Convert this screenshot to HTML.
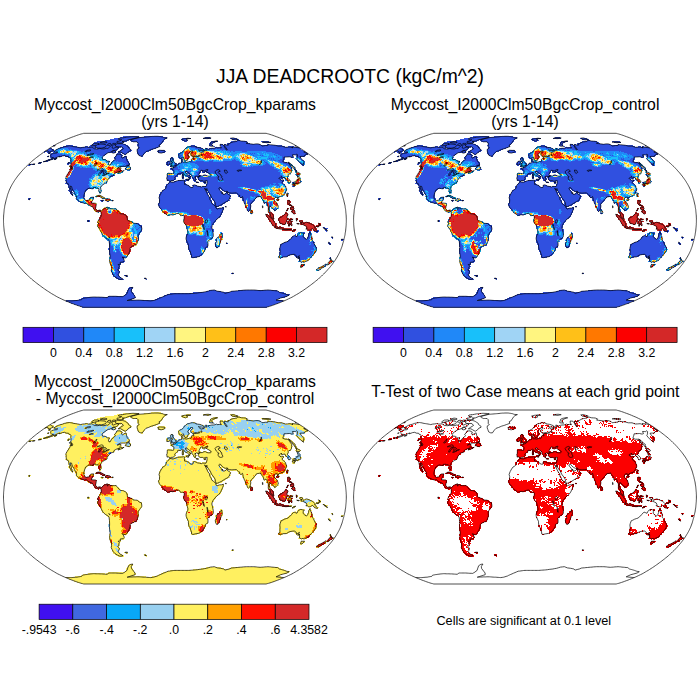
<!DOCTYPE html>
<html><head><meta charset="utf-8"><title>JJA DEADCROOTC</title>
<style>
html,body{margin:0;padding:0;background:#fff;}
svg{display:block;}
text{font-family:"Liberation Sans",Arial,Helvetica,sans-serif;fill:#000;}
</style></head><body>
<svg width="700" height="700" viewBox="0 0 700 700">
<rect width="700" height="700" fill="#fff"/>
<text x="350" y="82.5" font-size="19.35" text-anchor="middle">JJA DEADCROOTC (kgC/m^2)</text>
<text x="175" y="109.5" font-size="15.75" text-anchor="middle">Myccost_I2000Clm50BgcCrop_kparams</text>
<text x="175" y="127" font-size="15.75" text-anchor="middle">(yrs 1-14)</text>
<text x="525" y="109.5" font-size="15.75" text-anchor="middle">Myccost_I2000Clm50BgcCrop_control</text>
<text x="525" y="127" font-size="15.75" text-anchor="middle">(yrs 1-14)</text>
<text x="175" y="386.5" font-size="15.75" text-anchor="middle">Myccost_I2000Clm50BgcCrop_kparams</text>
<text x="175" y="404" font-size="15.75" text-anchor="middle">- Myccost_I2000Clm50BgcCrop_control</text>
<text x="525.3" y="397" font-size="15.8" text-anchor="middle">T-Test of two Case means at each grid point</text>
<text x="523.8" y="625.4" font-size="12.68" text-anchor="middle">Cells are significant at 0.1 level</text>
<defs>
<path id="L" fill="none" stroke-width="1.09" d="M-91.3,86.9H91M-92.4,86.7H92.1M-93.6,86.3H93.3M-94.9,85.9H94.6M-96.3,85.5H95.9M-97.7,85H97.4M-99.2,84.5H98.8M-100.7,84H100.4M-102.3,83.4H101.9M-103.9,82.8H103.5M-105.5,82.1H105.2M-107.2,81.4H106.8M-108.9,80.7H108.5M-100.3,80H-28.8M-22.7,80H106.4M-95.6,79.2H-43.2M-19.9,79.2H102.6M-93.8,78.4H-40.7M-17.8,78.4H104.9M-91.9,77.6H-38.9M-15.7,77.6H107.2M-86.7,76.8H-69.5M-68.8,76.8H-39.4M-14.3,76.8H110.2M-67.2,76H-39.9M-12,76H112.5M-51.3,75.2H-40.4M-10.5,75.2H113.9M-50.2,74.4H-40.9M-8.1,74.4H115.2M-49.1,73.5H-41.4M-4.7,73.5H111.4M-48.8,72.7H-41.8M17.7,72.7H109.2M-48.5,71.8H-42.3M25.7,71.8H49.3M53.6,71.8H106M-48.1,71H-42.7M31.3,71H46.3M55.9,71H104.5M-47.7,70.1H-43.2M34.3,70.1H41.5M62.8,70.1H102M-47.3,69.2H-42.7M-46.8,68.3H-42.2M-45.5,67.4H-41.7M-57.1,59H-51.1M-29.3,59H-28.3M-58.6,58H-52.5M-30.6,58H-28.5M-60,57.1H-53.9M-61.5,56.1H-55.3M-49.3,56.1H-47.2M-61.9,55.1H-55.7M-50.7,55.1H-47.5M-62.4,54.1H-56.1M-62.8,53.2H-55.4M56.5,53.2H58.6M-63.2,52.2H-54.8M-63.6,51.2H-55.1M-64,50.2H-55.4M141,50.2H144.2M-64.3,49.2H-55.7M140.7,49.2H146.1M-63.6,48.2H-55M142.6,48.2H147M-64,47.2H-55.3M125.1,47.2H127.4M143.4,47.2H148.9M-64.3,46.2H-54.5M124.7,46.2H128.1M146.3,46.2H150.7M-64.7,45.2H-54.8M125.4,45.2H129.8M148.2,45.2H151.5M-65,44.2H-54M126,44.2H130.5M150.1,44.2H154.5M-65.3,43.2H-54.3M151.9,43.2H155.3M-65.6,42.2H-51.2M126.2,42.2H127.3M128.4,42.2H129.5M152.6,42.2H157.1M-65.9,41.1H-50.3M123.4,41.1H132.3M154.4,41.1H158.9M-66.2,40.1H-50.5M123.9,40.1H134M155.1,40.1H157.4M-65.4,39.1H-50.8M124.4,39.1H134.6M154.6,39.1H156.9M-65.6,38.1H-51M104.8,38.1H106M122.7,38.1H135.1M154.1,38.1H156.4M-65.9,37.1H-47.8M16.3,37.1H22M102.9,37.1H108.6M120.9,37.1H136.7M154.7,37.1H155.9M-65,36.1H-46.8M16.3,36.1H25.4M103.3,36.1H113.5M120.2,36.1H137.2M-65.2,35.1H-47M16.4,35.1H26.7M103.7,35.1H115.1M119.5,35.1H138.9M-65.4,34H-46M15.3,34H27.9M104,34H139.3M-65.6,33H-45M15.4,33H29.1M104.3,33H139.8M-65.8,32H-45.2M15.4,32H29.2M104.6,32H141.3M-66,31H-44.1M14.3,31H30.4M104.9,31H141.7M-66.2,30H-44.3M14.3,30H30.5M104.1,30H142.1M-66.4,29H-44.4M13.2,29H30.6M104.3,29H142.5M-66.5,27.9H-44.5M13.3,27.9H30.7M104.6,27.9H141.7M-65.5,26.9H-43.4M13.3,26.9H33.1M41.1,26.9H43.5M104.8,26.9H142M-65.6,25.9H-41.2M13.3,25.9H33.1M40,25.9H44.7M105,25.9H141.1M-65.8,24.9H-37.8M13.3,24.9H33.2M40.1,24.9H44.8M105.2,24.9H141.3M-65.9,23.9H-37.8M12.2,23.9H33.2M40.2,23.9H44.9M105.4,23.9H140.4M154.3,23.9H155.6M-66,22.9H-36.7M12.2,22.9H33.3M40.2,22.9H46.1M50.7,22.9H53.1M106.7,22.9H139.5M153.4,22.9H155.8M-66.1,21.8H-36.8M11.1,21.8H33.4M40.3,21.8H46.2M109.3,21.8H139.7M153.7,21.8H154.9M-66.2,20.8H-36.8M11.1,20.8H34.6M41.5,20.8H46.3M111.8,20.8H138.8M-67.5,19.8H-35.7M11.1,19.8H34.6M40.4,19.8H46.4M113.1,19.8H137.8M165.9,19.8H168.3M-68.7,18.8H-35.8M11.1,18.8H37M40.5,18.8H47.6M114.5,18.8H138M166.1,18.8H168.6M-70,17.8H-35.8M11.1,17.8H38.3M41.7,17.8H47.7M115.8,17.8H131.2M132.3,17.8H138.2M157,17.8H158.2M-71.3,16.8H-35.9M11.1,16.8H38.3M41.8,16.8H47.7M116,16.8H130.2M132.5,16.8H137.3M156,16.8H158.5M-72.6,15.8H-35.9M11.2,15.8H38.4M44.2,15.8H47.8M117.3,15.8H129.2M132.6,15.8H137.4M-72.7,14.7H-36M11.2,14.7H38.4M44.2,14.7H47.9M119.8,14.7H121.1M122.2,14.7H129.3M132.8,14.7H136.4M-73.9,13.7H-34.8M12.4,13.7H38.5M45.5,13.7H47.9M122.3,13.7H129.5M132.9,13.7H136.6M-74,12.7H-34.9M12.4,12.7H38.5M45.5,12.7H46.8M123.6,12.7H129.6M134.3,12.7H135.5M-74.1,11.7H-33.7M12.4,11.7H38.5M134.4,11.7H135.6M141.5,11.7H142.7M-75.3,10.7H-32.6M12.4,10.7H38.6M116.7,10.7H120.3M139.2,10.7H144M151.1,10.7H152.3M-75.4,9.7H-32.6M12.4,9.7H38.6M107.3,9.7H116.9M118,9.7H121.6M132.2,9.7H137M138.1,9.7H141.8M150,9.7H152.5M-76.6,8.6H-32.6M11.2,8.6H37.4M101.4,8.6H117M131.1,8.6H141.9M148.9,8.6H152.6M-76.6,7.6H-32.6M11.2,7.6H37.5M99.1,7.6H108.7M131.2,7.6H140.8M147.8,7.6H150.3M-77.9,6.6H-32.6M11.2,6.6H37.5M99.2,6.6H102.8M103.9,6.6H106.4M131.3,6.6H144.4M-77.9,5.6H-32.7M11.3,5.6H37.5M96.9,5.6H101.7M113.5,5.6H114.8M115.9,5.6H117.1M129,5.6H139.7M140.8,5.6H145.7M-77.9,4.6H-35M10.1,4.6H38.7M96.9,4.6H101.7M107.6,4.6H110.1M113.5,4.6H117.2M125.4,4.6H138.6M143.3,4.6H145.7M-76.8,3.6H-36.2M8.9,3.6H38.7M95.7,3.6H101.8M105.3,3.6H111.3M112.4,3.6H117.2M121.9,3.6H124.4M125.5,3.6H137.5M143.3,3.6H145.8M-78,2.5H-41M8.9,2.5H39.9M95.8,2.5H100.6M104.1,2.5H111.3M112.4,2.5H117.3M125.5,2.5H135.1M-87.5,1.5H-85.1M-78,1.5H-42.2M7.7,1.5H41.1M94.6,1.5H100.6M104.1,1.5H118.5M124.4,1.5H128M-87.5,0.5H-85.1M-76.8,0.5H-44.6M7.7,0.5H41.1M94.6,0.5H99.5M102.9,0.5H112.5M113.7,0.5H116.1M124.4,0.5H128M-76.8,-0.5H-47M7.7,-0.5H42.3M93.4,-0.5H99.5M102.9,-0.5H118.5M120.8,-0.5H123.3M-75.6,-1.5H-47M8.9,-1.5H43.5M93.4,-1.5H99.4M102.9,-1.5H113.7M114.8,-1.5H117.3M120.8,-1.5H123.2M-75.6,-2.5H-47M8.9,-2.5H44.7M92.2,-2.5H99.4M104.1,-2.5H112.5M-74.4,-3.6H-47M8.9,-3.6H45.8M91,-3.6H99.4M105.3,-3.6H112.5M-74.4,-4.6H-48.1M-7.8,-4.6H-5.3M5.3,-4.6H45.8M90.9,-4.6H99.3M107.6,-4.6H113.6M-74.3,-5.6H-49.3M-9,-5.6H0.6M4.1,-5.6H47M90.9,-5.6H93.4M94.5,-5.6H99.3M108.7,-5.6H113.6M-74.3,-6.6H-50.5M-11.3,-6.6H47M75.4,-6.6H77.9M94.4,-6.6H98.1M109.9,-6.6H113.5M118.2,-6.6H120.7M-76.6,-7.6H-75.4M-74.3,-7.6H-54M-12.5,-7.6H48.1M75.4,-7.6H77.8M93.2,-7.6H96.8M109.8,-7.6H112.3M116.9,-7.6H120.6M-80.2,-8.6H-55.2M-12.5,-8.6H48.1M73,-8.6H74.2M75.3,-8.6H77.8M93.1,-8.6H95.6M115.7,-8.6H120.5M-81.3,-9.7H-56.3M-13.7,-9.7H48.1M71.7,-9.7H77.7M93.1,-9.7H95.5M99,-9.7H101.5M110.9,-9.7H113.3M116.8,-9.7H120.4M-81.2,-10.7H-77.6M-72.9,-10.7H-57.4M-13.7,-10.7H49.2M71.7,-10.7H76.5M93,-10.7H95.5M97.7,-10.7H102.6M112,-10.7H113.2M115.5,-10.7H119.2M-82.3,-11.7H-78.7M-71.7,-11.7H-58.6M-14.8,-11.7H49.2M71.6,-11.7H76.4M92.9,-11.7H95.4M96.5,-11.7H103.7M111.9,-11.7H114.3M115.4,-11.7H119.1M-82.3,-12.7H-78.6M-70.4,-12.7H-64.4M-16,-12.7H42M46.7,-12.7H49.1M70.4,-12.7H76.4M92.8,-12.7H95.3M96.4,-12.7H103.6M115.3,-12.7H119M-84.6,-13.7H-78.6M-16,-13.7H44.4M50.2,-13.7H51.5M70.3,-13.7H76.3M92.7,-13.7H103.5M116.4,-13.7H118.8M-86.8,-14.7H-78.5M-17.2,-14.7H46.7M70.2,-14.7H76.2M91.5,-14.7H103.4M113.9,-14.7H117.5M-87.9,-15.8H-78.4M-17.1,-15.8H47.8M70.1,-15.8H76.1M91.4,-15.8H103.2M112.6,-15.8H116.2M-91.3,-16.8H-78.3M-17.1,-16.8H38.3M39.4,-16.8H50.1M68.9,-16.8H77.2M88.9,-16.8H90.1M91.2,-16.8H103.1M112.4,-16.8H114.9M-94.7,-17.8H-82.9M-15.9,-17.8H37.1M39.4,-17.8H51.2M68.8,-17.8H78.3M88.8,-17.8H101.8M112.3,-17.8H115.9M-96.9,-18.8H-82.8M-73.4,-18.8H-72.2M-67.6,-18.8H-66.3M-15.9,-18.8H37M39.3,-18.8H53.5M68.7,-18.8H79.3M88.6,-18.8H101.6M112.1,-18.8H115.7M-98,-19.8H-81.5M-74.5,-19.8H-70.9M-69.8,-19.8H-61.5M-15.9,-19.8H37M38.1,-19.8H54.6M67.4,-19.8H80.4M87.3,-19.8H100.3M101.4,-19.8H103.8M111.9,-19.8H115.5M-147,-20.8H-144.6M-99,-20.8H-89.5M-86.1,-20.8H-81.3M-69.7,-20.8H-63.8M-15.8,-20.8H35.7M36.8,-20.8H54.5M67.3,-20.8H80.2M87.2,-20.8H100.1M101.2,-20.8H104.8M-146.7,-21.8H-144.3M-98.8,-21.8H-89.4M-86,-21.8H-81.2M-73.1,-21.8H-69.5M-68.4,-21.8H-67.2M-15.8,-21.8H35.7M36.8,-21.8H55.6M67.2,-21.8H81.3M85.9,-21.8H100M102.2,-21.8H103.5M-98.7,-22.9H-90.4M-84.6,-22.9H-81.1M-75.3,-22.9H-69.4M-15.8,-22.9H55.5M64.7,-22.9H82.3M85.7,-22.9H104.5M-99.7,-23.9H-90.3M-79.8,-23.9H-71.6M-15.8,-23.9H34.4M35.5,-23.9H56.5M63.5,-23.9H107.8M111.2,-23.9H113.6M-103,-24.9H-101.7M-99.5,-24.9H-90.1M-78.5,-24.9H-73.8M-15.7,-24.9H34.3M35.4,-24.9H56.4M63.3,-24.9H109.9M111,-24.9H113.4M-103.9,-25.9H-101.5M-100.5,-25.9H-89.9M-15.7,-25.9H33.1M34.2,-25.9H55.2M62.1,-25.9H109.7M110.8,-25.9H113.2M-104.9,-26.9H-102.5M-101.4,-26.9H-89.7M-75.9,-26.9H-73.5M-14.5,-26.9H33.1M34.1,-26.9H48.1M50.4,-26.9H52.8M53.8,-26.9H110.7M111.8,-26.9H114.2M-104.7,-27.9H-102.3M-101.2,-27.9H-89.6M-75.8,-27.9H-73.4M-14.5,-27.9H46.9M51.4,-27.9H111.6M-105.6,-29H-103.2M-102.1,-29H-89.3M-76.7,-29H-73.2M-13.3,-29H31.8M32.8,-29H46.8M49,-29H111.3M-106.5,-30H-88M-76.5,-30H-73M-13.3,-30H45.5M46.6,-30H112.2M-106.2,-31H-86.6M-76.3,-31H-74M-10.9,-31H45.4M46.4,-31H111.9M-105.9,-32H-80.6M-79.6,-32H-73.8M-9.8,-32H111.6M-106.7,-33H-73.5M-9.7,-33H111.3M-106.4,-34H-73.3M-9.7,-34H15.4M17.6,-34H25.6M26.7,-34H110.9M117.6,-34H120M-107.1,-35.1H-71.9M-8.5,-35.1H14.2M17.5,-35.1H22.1M31.1,-35.1H110.5M117.2,-35.1H120.7M-107.9,-36.1H-70.5M-8.5,-36.1H11.9M31,-36.1H110.1M116.8,-36.1H123.7M-109.7,-37.1H-68M-7.4,-37.1H10.7M28.7,-37.1H31M32,-37.1H108.6M113,-37.1H115.4M117.5,-37.1H125.5M-109.3,-38.1H-67.8M-6.2,-38.1H9.6M20.7,-38.1H24.1M28.5,-38.1H30.9M31.9,-38.1H108.2M112.6,-38.1H116M117.1,-38.1H126.1M-108.9,-39.1H-67.5M-6.2,-39.1H-3.9M-0.6,-39.1H10.6M19.5,-39.1H20.7M25.1,-39.1H30.7M31.8,-39.1H108.9M112.2,-39.1H115.6M120,-39.1H126.8M-109.6,-40.1H-67.2M-8.4,-40.1H-0.5M2.7,-40.1H13.9M18.3,-40.1H20.6M23.9,-40.1H109.6M110.6,-40.1H115.1M120.6,-40.1H126.2M-109.1,-41.1H-65.8M-8.3,-41.1H0.6M10.5,-41.1H15M18.2,-41.1H21.6M22.7,-41.1H105.8M110.1,-41.1H114.6M122.3,-41.1H125.7M-109.7,-42.2H-64.4M-8.3,-42.2H0.6M7.1,-42.2H9.4M13.7,-42.2H16M17,-42.2H21.5M22.6,-42.2H108.6M109.6,-42.2H113M122.8,-42.2H126.2M-109.2,-43.2H-64.1M-8.3,-43.2H0.6M7.1,-43.2H9.4M12.6,-43.2H15.9M17,-43.2H21.4M22.4,-43.2H113.6M122.3,-43.2H124.5M-108.7,-44.2H-61.6M-8.2,-44.2H2.8M7.1,-44.2H9.3M10.3,-44.2H15.9M16.9,-44.2H114.1M121.7,-44.2H123.9M-108.1,-45.2H-60.2M-8.2,-45.2H2.8M7,-45.2H14.7M15.7,-45.2H25.6M27.7,-45.2H32.1M35.3,-45.2H114.6M121.1,-45.2H125.5M-107.5,-46.2H-59.9M-8.1,-46.2H6M7,-46.2H12.5M14.5,-46.2H24.3M34,-46.2H116.2M120.4,-46.2H125.9M-107,-47.2H-58.5M-57.5,-47.2H-54.2M-8.1,-47.2H-2.6M-1.7,-47.2H25.3M32.7,-47.2H116.6M120.8,-47.2H125.2M-106.4,-48.2H-51.8M-1.6,-48.2H11.3M12.2,-48.2H26.2M27.2,-48.2H30.5M31.5,-48.2H117M120.2,-48.2H123.5M-105.8,-49.2H-51.5M-1.6,-49.2H26.1M27.1,-49.2H117.4M120.6,-49.2H121.7M-105.1,-50.2H-53.3M-48.1,-50.2H-44.9M-2.7,-50.2H117.8M119.9,-50.2H122.1M-105.6,-51.2H-54M-49.9,-51.2H-43.5M-4.8,-51.2H117.1M119.1,-51.2H121.3M-104.9,-52.2H-53.7M-49.6,-52.2H-44.3M-4.7,-52.2H117.5M118.4,-52.2H120.6M-105.3,-53.2H-55.4M-49.3,-53.2H-44M-1.6,-53.2H116.7M117.7,-53.2H119.8M-105.6,-54.1H-45.8M-4.7,-54.1H115.9M116.9,-54.1H119M-146.9,-55.1H-144.7M-104.9,-55.1H-45.5M-7.7,-55.1H-5.6M-4.6,-55.1H118.2M127.4,-55.1H129.5M-145.8,-56.1H-139.7M-108.2,-56.1H-106.1M-104.2,-56.1H-65.5M-64.6,-56.1H-45.2M-8.7,-56.1H1.6M2.5,-56.1H117.4M126.4,-56.1H129.6M-136.7,-57.1H-133.6M-107.4,-57.1H-105.3M-104.4,-57.1H-66M-64.1,-57.1H-44.8M-8.6,-57.1H1.6M3.5,-57.1H115.5M125.5,-57.1H129.6M-135.7,-58H-132.6M-106.6,-58H-65.5M-63.6,-58H-45.5M-8.5,-58H-4.5M-3.5,-58H0.5M6.5,-58H112.6M113.6,-58H114.6M124.6,-58H129.7M-131.6,-59H-126.6M-104.8,-59H-65M-63.1,-59H-46.1M-7.5,-59H-0.5M6.4,-59H8.5M9.4,-59H11.5M14.4,-59H108.8M123.6,-59H129.6M-128.6,-60H-124.6M-105,-60H-67.4M-61.6,-60H-46.8M-4.5,-60H-1.4M6.4,-60H8.4M9.3,-60H13.3M16.2,-60H108.9M122.6,-60H128.6M-126.6,-60.9H-121.6M-120.7,-60.9H-118.7M-105.1,-60.9H-68.8M-60.1,-60.9H-47.3M-5.4,-60.9H-1.4M6.3,-60.9H8.3M9.2,-60.9H13.2M16.1,-60.9H110M121.6,-60.9H127.6M-123.6,-61.9H-117.7M-105.2,-61.9H-72.1M-60.6,-61.9H-47.9M-5.4,-61.9H-1.4M4.3,-61.9H7.3M8.2,-61.9H14.1M16.9,-61.9H110M120.6,-61.9H126.5M-124.4,-62.8H-117.6M-107.2,-62.8H-71.5M-61,-62.8H-47.5M-4.4,-62.8H-2.4M3.3,-62.8H14.9M17.7,-62.8H110M115.7,-62.8H118.7M121.5,-62.8H126.4M-128.1,-63.7H-126.1M-125.3,-63.7H-112.8M-110,-63.7H-71.9M-59.6,-63.7H-52.8M-51,-63.7H-48M-33.8,-63.7H-31.9M3.3,-63.7H14.8M16.6,-63.7H118.6M121.4,-63.7H130M-125.1,-64.7H-70.3M-59,-64.7H-52.3M-36.4,-64.7H-31.6M3.3,-64.7H13.7M15.5,-64.7H118.5M121.2,-64.7H130.7M-124.9,-65.6H-68.7M-58.5,-65.6H-52.8M-51,-65.6H-49.1M-37,-65.6H-31.3M3.2,-65.6H13.6M15.4,-65.6H133.3M-126.5,-66.5H-124.6M-123.7,-66.5H-68.1M-57.9,-66.5H-54.2M-52.4,-66.5H-47.7M-37.6,-66.5H-30.1M3.2,-66.5H14.4M15.2,-66.5H133M-126.2,-67.4H-123.4M-120.7,-67.4H-64.7M-63.8,-67.4H-60.1M-53.7,-67.4H-47.2M-38.1,-67.4H-29.8M-17,-67.4H-11.4M5,-67.4H15.2M16,-67.4H131.7M-130.9,-68.3H-130.4M-127.7,-68.3H-124M-121.4,-68.3H-58.6M-56.8,-68.3H-45.9M-37.8,-68.3H-28.6M-16.9,-68.3H-9.5M6.8,-68.3H15.9M16.8,-68.3H130.4M-129.6,-69.2H-121.9M-121.1,-69.2H-58.9M-56.3,-69.2H-43.6M-38.3,-69.2H-25.6M-17.6,-69.2H-9.4M7.6,-69.2H25.7M28.3,-69.2H129.2M-128.3,-70.1H-120.7M-119.8,-70.1H-58.3M-54.8,-70.1H-43.2M-37.9,-70.1H-23.6M-16.5,-70.1H-10.2M8.4,-70.1H127.9M-127,-71H-121.2M-118.6,-71H-56.8M-53.4,-71H-43.6M-38.4,-71H-21.6M9.2,-71H29.6M30.4,-71H126.5M-125.7,-71.8H-122.5M-116.5,-71.8H-78.9M-78.1,-71.8H-56.2M-52.8,-71.8H-44.9M-37.1,-71.8H-18.7M10,-71.8H28.4M30.1,-71.8H32.8M34.4,-71.8H125.2M-124.3,-72.7H-123.8M-114.4,-72.7H-53.9M-53.1,-72.7H-45.3M-36.7,-72.7H-16.8M10.7,-72.7H26.4M40.1,-72.7H123.9M-111.4,-73.5H-97.7M-90.1,-73.5H-86.6M-85.8,-73.5H-45.6M-37.2,-73.5H-14.9M12.3,-73.5H21.8M38.8,-73.5H39.7M45.6,-73.5H109.7M113,-73.5H115.7M116.5,-73.5H119.1M-121.5,-74.4H-120.2M-108.5,-74.4H-101.6M-84.8,-74.4H-46.8M-37.6,-74.4H-14.7M15.6,-74.4H19.9M34.1,-74.4H38.4M45.1,-74.4H107.6M120.2,-74.4H121.1M-83.8,-75.2H-47.9M-37.1,-75.2H-14.6M34.6,-75.2H38M44.6,-75.2H86.3M92.1,-75.2H100.5M-82.8,-76H-49M-37.5,-76H-13.6M34.1,-76H37.5M44.9,-76H48.2M49,-76H50.7M52.3,-76H85.3M92.6,-76H94.4M-81.8,-76.8H-51.6M-37,-76.8H-13.4M34.5,-76.8H37.9M52.4,-76.8H75.3M-80.7,-77.6H-50.9M-38.2,-77.6H-12.4M34.9,-77.6H39.8M54.9,-77.6H73.5M88.6,-77.6H95.9M-78,-78.4H-50.2M-43.2,-78.4H-12.2M36,-78.4H41.6M56.5,-78.4H72.4M86.6,-78.4H94.6M-74.5,-79.2H-47.9M-44.1,-79.2H-11.3M8.9,-79.2H12.1M37.8,-79.2H43.3M61.2,-79.2H70.6M-69.5,-80H-46.4M-45,-80H-11.1M7.3,-80H13.5M61.8,-80H64.9M-64.7,-80.7H-10.2M6.4,-80.7H12.5M57,-80.7H63.9M-60.7,-81.4H-9.3M7,-81.4H15.3M32.3,-81.4H33.9M56.2,-81.4H62.2M-57.6,-82.1H-7.7M10.6,-82.1H15.8M28.2,-82.1H36.3M55.3,-82.1H60.5M-55.2,-82.8H-8.3M29.9,-82.8H35M-52.2,-83.4H-35.8M-30.9,-83.4H-11.7M-24.2,-84H-14.3"/>
<path id="C" fill="none" stroke="#000" stroke-width="0.7" stroke-linejoin="round" d="M-109.2,80.6L-108,80.6L-106.8,80.6L-105.6,80.6L-104.4,80.6L-103.2,80.6L-102.1,80.5L-101.1,80.4L-100,80.3L-99,80.2L-97.9,80.2L-97,80L-96.1,79.8L-95.1,79.7L-94.2,79.5L-93.3,79.4L-92.8,78.8L-92.3,78.1L-91.3,78L-90.3,77.8L-89.3,77.6L-88.2,77.5L-87.2,77.3L-86.1,77.2L-84.9,77L-83.8,76.9L-82.7,76.8L-81.5,76.7L-80.2,76.7L-78.8,76.8L-77.5,76.8L-76.1,76.8L-74.8,76.9L-73.4,76.9L-72,77L-70.6,77.1L-69.2,77.2L-67.8,77.3L-66.9,76.6L-65.9,76L-64.6,76L-63.3,76L-62,76L-60.7,76L-59.3,76L-57.9,76.1L-56.6,76.2L-55.2,76.3L-53.8,76.3L-52.4,76.4L-51.3,75.8L-50.1,75.1L-49,74.2L-47.9,73.4L-47.2,71.1L-46.3,68.7L-45.2,68L-44.1,67.3L-42,67.1L-42.9,68.2L-43.7,69.7L-43.4,71.5L-41.3,74.2L-39.9,76L-39.8,77.7L-40.8,78L-41.8,78.3L-42.9,78.6L-43.9,79L-44.9,79.3L-45.8,79.6L-46.8,79.9L-47.7,80.2L-46.5,80.1L-45.4,80.1L-44.2,80L-43,80L-41.8,79.9L-40.6,79.9L-39.4,79.9L-38.2,79.8L-37,79.8L-35.7,79.8L-34.4,79.9L-33.1,80L-31.9,80.1L-30.6,80.2L-29.3,80.2L-28.1,80.3L-26.8,80.4L-25.5,80.5L-24.3,80.6L-22.8,80.4L-21.4,80.2L-20.1,79.8L-18.9,79.4L-17.5,79L-16.5,78.4L-15.3,77.9L-14.2,77.4L-13,76.9L-11.5,76.2L-10,75.6L-8.4,74.9L-6.8,74.2L-5.4,74.1L-4.1,73.9L-2.7,73.7L-1.4,73.5L0,73.4L1.4,73.4L2.7,73.4L4.1,73.4L5.5,73.4L6.8,73.4L8.2,73.4L9.6,73.4L11,73.4L12.3,73.4L13.7,73.4L15.1,73.3L16.5,73.2L17.9,73.1L19.3,73L20.7,72.9L22.4,72.7L24.2,72.4L26,72.2L27.9,72L29.7,71.6L31.6,71.3L33.6,70.7L35.6,70.1L37.5,69.9L39.4,69.7L40.9,70.3L42.4,70.9L44,71.1L45.7,71.3L47.2,71.6L48.8,72L50.1,73.1L52.2,72.5L54.3,72L56.3,71.1L57.9,70.9L59.4,70.8L60.9,70.6L62.4,70.5L64,70.3L65.5,70.2L67,70.1L68.5,69.9L70.1,69.8L71.6,69.7L73,69.7L74.5,69.7L75.9,69.7L77.3,69.7L78.8,69.7L80.1,69.8L81.4,69.9L82.7,70.1L84,70.2L85.3,70.3L86.8,70.2L88.4,70.1L89.9,69.9L91.5,69.8L93.1,69.7L94.4,69.8L95.7,69.9L96.9,70.1L98.2,70.2L99.5,70.3L101.1,70.5L102.7,70.6L103.6,71.3L104.5,72L105.5,72.3L106.5,72.5L107.5,72.8L108.5,73.1L109.5,73.4L110.6,73.8L111.6,74.2L112.9,74.5L114.3,74.7L112.1,76L108.9,76.9L105.8,77.7L101.2,79.8L102.1,79.9L103.1,80L104,80.2L105.1,80.2L106.1,80.3L107.2,80.4L108.2,80.5L109.2,80.6M-30.5,57.8L-28.8,58L-28.5,58.7L-29.9,58.5L-30.5,57.8M-49.2,56L-49.9,55.3L-47.5,55.1L-47.6,56L-49.2,56M-87.2,1.2L-87.2,0.2L-86.1,0.2L-86.1,1.2L-87.2,1.2M-55.6,-7.5L-54.2,-6.5L-52.3,-6.4L-51.2,-6.1L-49.5,-5.2L-48.5,-4.5L-47.6,-1.9L-47.6,-0.5L-46.2,0.5L-45.2,0.8L-42.9,1.6L-41.9,2.9L-39.5,3.1L-37.6,3.2L-35.7,5.1L-33.6,5.7L-33.1,8.1L-33.2,9.7L-34.6,11.5L-35.5,12.9L-36.6,14L-36.8,16.2L-36.6,18.9L-37.2,21L-38.1,23.2L-38.9,24.6L-40.5,24.8L-41.8,25.6L-43.2,26.1L-44.7,27.5L-44.9,29.7L-45.4,31.3L-46.1,33.2L-47.2,34.8L-48.2,36.7L-49.2,37.6L-50.8,37.5L-52.6,36.7L-51.2,38.8L-50.6,40.4L-51.7,41.7L-54.7,42L-54.5,44L-56.8,44.2L-55.4,45.8L-56.2,46.9L-55.9,48.4L-57.3,49.5L-55.5,51.1L-56,53.2L-56.8,54.4L-55.7,56.1L-55.2,56.8L-51.9,58.7L-53.2,59.2L-55.1,59.2L-57.6,58L-59.9,56.6L-61.6,54.7L-62.7,52.7L-63.7,50.6L-63.3,48.4L-63.6,45.3L-64.8,43.1L-65.3,40.4L-65,38.3L-64.8,35.6L-65.3,32.3L-65.4,29.7L-65.3,27L-65.4,23.7L-65.9,19.9L-67.2,18.7L-69.2,17.6L-71.2,16L-72.1,14.9L-73.1,12.9L-74.5,10.2L-75.8,7.8L-77.2,6.5L-77.3,4.9L-76.4,3.7L-76.2,2.7L-77.1,2.4L-77,1.1L-76.2,-0.3L-75.2,-1.4L-74.7,-2.7L-73.8,-4.1L-73.6,-5.9L-73.9,-7.9L-74.5,-8.9L-75.4,-9.6L-76.3,-8L-77.4,-8.3L-78.7,-8.8L-79.4,-9.2L-80.6,-10.6L-81.3,-11.6L-82.7,-13.9L-83.6,-14.2L-85,-14.8L-87,-15.7L-88.5,-17.4L-90.4,-16.9L-92.7,-17.7L-95.4,-18.9L-97.5,-20.5L-98.7,-21.8L-98.3,-23.2L-99,-25.1L-100.5,-27.2L-101,-28.9L-102.1,-30.2L-102.9,-32.1L-103.3,-33.8L-104.3,-34.3L-104.7,-32.9L-103.8,-30.7L-103.4,-28.6L-102.6,-26.2L-101.9,-25L-102.6,-25.1L-103.8,-26.7L-104.7,-28.9L-105.8,-30L-104.8,-31.1L-105.8,-32.7L-106.1,-35L-106.8,-36.7L-108.5,-37.2L-108.7,-39.4L-108.7,-40.8L-108.9,-42.6L-108.9,-43.5L-107.9,-45.3L-106.2,-47.9L-105.1,-49.7L-104.2,-52L-102.9,-51.9L-103.1,-50.9L-102.2,-52.7L-102.9,-53.7L-103.2,-53.9L-103.1,-52.1L-104.2,-52.5L-105.5,-54.4L-103.2,-53.9L-104.2,-54.7L-103.9,-56.3L-103.8,-58.4L-104.1,-59.4L-103.9,-61.4L-104.5,-62.4L-105.8,-62.7L-106.3,-63.7L-108.8,-63.9L-110.2,-64.7L-112.4,-64.4L-115.6,-63.2L-115.1,-64.1L-116.9,-63.4L-119.2,-62.4L-122.7,-60.9L-126,-59.7L-129.2,-58.9L-131.5,-58.5L-127.8,-59.9L-123.8,-61.4L-121.3,-62.6L-123.1,-62.7L-123.8,-63.4L-124.2,-64.4L-124.1,-65.4L-123.2,-66.3L-121.3,-67L-118.3,-67.3L-117.1,-68.2L-119.3,-68.2L-120.5,-68.7L-120.8,-69.3L-116.2,-71.8L-112.2,-72.9L-110.5,-73.6L-108,-74.1L-105.5,-74.5L-104.3,-74.3L-103,-74.1L-102,-73.8L-100.9,-73.6L-99.6,-73.4L-98.3,-73.2L-97,-73L-95.6,-72.7L-94.3,-72.4L-92.3,-72.9L-90.3,-73.1L-88.3,-73.4L-87.2,-73.1L-86.1,-72.9L-84.5,-73L-83,-73.2L-82.2,-72.6L-81.4,-72.1L-80.6,-71.5L-78.9,-71.4L-77.2,-71.3L-75.2,-72L-73.5,-71.5L-72.2,-71.4L-70.9,-71.3L-68.3,-72L-67.1,-71.7L-65.8,-72.9L-63.3,-75L-62.6,-73.8L-62.8,-72.3L-61.3,-72L-59.2,-72.9L-58.3,-73.2L-56.3,-73.1L-56.6,-72L-58.1,-70.6L-60,-69.9L-61.6,-70.1L-62.5,-69.2L-60.1,-69.7L-58.9,-68.2L-61.1,-67.1L-63,-67.6L-62.6,-69.1L-62.8,-69L-65.1,-67.8L-66.7,-67.6L-70.1,-65.4L-72,-63.9L-72.8,-62.6L-72.3,-60.9L-69.7,-60.7L-68.6,-59.9L-67.4,-59.2L-65.4,-59L-66.4,-56.8L-65.9,-55.1L-64.6,-55.3L-63.4,-57.8L-60.7,-59.9L-59.5,-61.4L-60.4,-62.7L-59,-63.9L-58,-66.1L-56.5,-66.1L-55,-66.1L-53.9,-65.5L-52.7,-64.9L-53.4,-62.9L-52.5,-62.2L-49.9,-63.7L-48.9,-64.2L-48.3,-61.4L-47.6,-59.1L-45.9,-57.3L-45.4,-55.8L-46.6,-55.2L-49.5,-53.9L-51.2,-53.9L-52.8,-53.9L-54.9,-53.8L-57.7,-51.9L-55.9,-52.3L-54.1,-52.7L-54,-51.6L-54.8,-50.6L-54.3,-49.5L-51.9,-49.1L-50.8,-50L-52,-48.7L-54.4,-47.9L-56.8,-46.9L-56.4,-48.2L-54.9,-49L-57.2,-48.4L-59.3,-47.4L-60.8,-46.5L-61.3,-45.8L-60.9,-44.9L-62.3,-44.5L-64.8,-43.8L-65.3,-42.6L-66.4,-41.8L-67.4,-40.1L-67.7,-39.7L-67.8,-38.1L-69.3,-37.2L-70.8,-36.4L-72.3,-35.4L-73.6,-34.3L-74.3,-32.9L-74,-30.7L-73.8,-28.9L-74.4,-27.3L-75,-27.2L-75.6,-28.3L-76.2,-30L-75.9,-31.3L-76.8,-32.3L-78.3,-32L-79,-32.8L-80.4,-32.7L-81.8,-32.6L-81.8,-31.5L-83.4,-31.6L-85.6,-32.1L-87.1,-31.5L-89.3,-30L-90,-28L-90.7,-25.9L-91.1,-24L-90.9,-22.1L-90,-20.5L-88.7,-19.6L-86.7,-20.1L-85.3,-20.5L-84.6,-22.4L-84,-22.9L-81.2,-23.2L-81.9,-21L-82.9,-19.2L-83.6,-17.3L-81,-17.1L-79.1,-17L-78.5,-16.2L-79,-13.5L-79.4,-11.9L-78.5,-10.4L-77.3,-9.6L-75.7,-10.2L-74.5,-10.1L-73.4,-9.2L-71.6,-11.3L-70.9,-11.9L-69.1,-12.4L-67.6,-13.4L-67.7,-11.9L-67.3,-10.8L-66.3,-12.7L-66,-13L-64.9,-11.6L-62.5,-11.4L-60.7,-11.3L-58.7,-11.5L-57.9,-10.2L-57,-9.2L-55.6,-7.5M-73.5,-19.8L-71.6,-19.6L-72.3,-19.2L-73.5,-19.6L-73.5,-19.8M-63,-19.9L-61.5,-19.8L-61.8,-19.4L-63.1,-19.4L-63,-19.9M-68.3,-21.5L-65.5,-21.4L-64.1,-20.2L-65.7,-19.7L-67.1,-19.1L-68.5,-19.6L-69.8,-19.9L-68.3,-21.5M-145.9,-21.8L-145.1,-21.4L-145.4,-20.5L-146.1,-20.7L-145.9,-21.8M-69.4,-21.8L-72.5,-21.5L-72.9,-22.3L-74.2,-23.3L-76.4,-24.2L-78.3,-23.5L-79.2,-23.7L-77.2,-24.8L-74.9,-25L-72.3,-23.5L-70.1,-22.3L-69.4,-21.8M-49.8,-51.4L-47.4,-54.2L-45.6,-55.3L-45.9,-53.5L-44.4,-53L-44.4,-51.1L-45.6,-50.3L-47.2,-50.6L-49.8,-51.4M-145.9,-55.4L-145.4,-55.8L-143.6,-56L-144,-55.6L-145.9,-55.4M-142.6,-55.8L-142.1,-56.2L-139.9,-56.4L-140.3,-56L-142.6,-55.8M-105.5,-57.8L-106.6,-56.1L-107.1,-56.6L-106.7,-57.8L-105.5,-57.8M-133.4,-57.9L-133.7,-57.5L-136.5,-56.9L-136.4,-57.4L-133.4,-57.9M-120.5,-60.7L-120.6,-61.1L-118,-62.1L-118.4,-61.3L-120.5,-60.7M-127.4,-63.7L-126.9,-64.1L-125.8,-64.2L-126.4,-63.7L-127.4,-63.7M-126.4,-67L-125.9,-67.4L-124.3,-67.2L-124.8,-66.8L-126.4,-67M-124.8,-72.4L-124,-71.8L-123.1,-71.2L-121.7,-70.4L-121.4,-69.8L-125.5,-68.2L-126.5,-68.1L-126.7,-69.2L-127.8,-69.7L-130.3,-68.7M-53.9,-73.6L-56.1,-73.4L-58,-73.5L-59.5,-74.2L-59.4,-75.6L-57.5,-76.6L-56.2,-76.6L-54.9,-76.6L-53.6,-76.6L-52.3,-76.6L-51.3,-76.2L-50.2,-75.8L-49.3,-75.3L-48.4,-74.7L-46.7,-73.6L-46.4,-72.4L-45.2,-71.5L-43.9,-70.6L-44,-69.7L-46.3,-68.7L-47.5,-67.1L-49.6,-65.8L-50.9,-66.3L-52.5,-67.3L-54.2,-68.2L-56.7,-68.2L-54.4,-69.7L-51.5,-71.5L-52.8,-73.2L-53.9,-73.6M-121,-74.7L-119.6,-74.7L-120.7,-74.2L-121.7,-74.2M-83.5,-75.1L-80.7,-76.9L-78.9,-77L-77.1,-77.1L-75.8,-76.3L-77.4,-75.7L-74.9,-76.3L-73.6,-76.2L-72.4,-76.1L-71.2,-76L-69.4,-75.8L-68.6,-74.7L-69.6,-73.2L-73,-72.2L-74.7,-72.1L-76.5,-72.1L-77.7,-72.4L-78.8,-72.6L-80.1,-73.4L-78.9,-74.4L-78.4,-75.4L-80.7,-74.7L-83,-74.4L-83.5,-75.1M-17.2,-72.9L-18.7,-72.4L-20.2,-71.8L-21.8,-71.3L-23.3,-70.9L-24.9,-70.2L-26.5,-69.5L-28.9,-68.7L-30.7,-66.8L-32.6,-64.1L-34.5,-64.2L-36.4,-65.2L-37.1,-67.3L-37.8,-69.2L-37.7,-71.1L-35.7,-72.4L-36.8,-73.6L-36.7,-75.1L-36.8,-77.3L-37.9,-78.5L-39.2,-78.5L-40.4,-78.5L-41.7,-78.5L-42.6,-79L-43.5,-79.4L-44.5,-80.3L-42.4,-81L-40.2,-81.7L-38.7,-82.1L-37.2,-82.4L-35.8,-82.7L-34.5,-82.8L-33.3,-82.9L-32.1,-83L-30.9,-83.1L-29.7,-83.2L-28.5,-83.3L-27.2,-83.4L-26,-83.5L-24.8,-83.7L-23.6,-83.8L-22.4,-83.9L-21.3,-83.9L-20.1,-84L-19,-84L-17.9,-84L-16.8,-84L-15.7,-83.8L-14.7,-83.7L-13.6,-83.5L-12.5,-83.3L-11.5,-82.9L-10.4,-82.6L-9,-82.5L-7.6,-82.4L-8.8,-81.9L-10.1,-81.3L-11.7,-79.8L-12.7,-78.1L-14.2,-76L-16,-75.1L-15,-73.8L-17.2,-72.9M-66.8,-76.4L-64.4,-76.9L-64,-76L-65.2,-74.7L-66.4,-74.8L-67.6,-75L-66.8,-76.4M-59.2,-76.9L-59.8,-75.8L-62.8,-75.1L-63,-76L-62.1,-76.9L-60.7,-76.9L-59.2,-76.9M-71,-77.3L-72.5,-77.4L-74,-77.5L-74.8,-77.9L-72.9,-78.4L-70.9,-78.9L-69.6,-78.7L-68.2,-78.5L-68,-77.7L-69.5,-77.5L-71,-77.3M-42.2,-83.7L-41.2,-83.7L-40.1,-83.6L-39,-83.6L-37.9,-83.5L-36.8,-83.5L-35.8,-83.4L-37.8,-82.4L-39.5,-82.1L-41.2,-81.7L-43,-81.3L-44.5,-80.9L-46.1,-80.6L-49.3,-79.2L-51.1,-79L-52.8,-78.9L-51.6,-78.8L-50.9,-78.1L-53,-77.3L-54.2,-77.3L-55.5,-77.3L-56.8,-77.3L-58,-77.4L-57.7,-79L-56.2,-79L-53.2,-80.2L-53.5,-80.8L-54.8,-80.4L-55.8,-80.9L-56.7,-81.3L-55.9,-81.9L-54.3,-82.2L-52.8,-82.5L-52.6,-82.3L-50.6,-82.7L-48.6,-83.1L-47.3,-83.2L-46.1,-83.3L-44.8,-83.5L-43.5,-83.6L-42.2,-83.7M57.3,52.7L58.5,52.8L58.2,53.4L57.2,53.3L57.3,52.7M51.5,23.1L51.6,22.5L52.1,22.5L52.1,23.1L51.5,23.1M47.4,16.7L46.5,18.9L45.3,22.1L44.2,25.3L43.1,27.2L41.7,27.5L40.6,25.3L40.4,23.2L41.6,21.4L41.3,18.9L42.4,17.3L44.3,16.2L45.6,14.6L46.7,12.9L47.4,16.7M111,9.7L109.3,9.5L109.2,8.8L111.1,8.9L113,9.1L114.9,9.1L116.8,8.9L116.3,9.5L113.4,9.5L111,9.7M106.3,8.9L103.5,8.4L101.2,8L100,7.3L101.4,6.5L103.1,7.2L105.2,6.9L107.1,7.4L108.7,8.4L108.6,9.4L106.3,8.9M91.8,-3.9L90.6,-6L92.7,-5.6L93.9,-4.1L95.5,-2.7L96.6,-1.9L98.1,-0.8L98.9,0.9L99.5,1.9L100.9,3.2L100.6,6.3L99.5,6.3L98,5.2L96.6,3.2L95.5,1.1L94.3,-0.5L93.3,-2.2L91.8,-3.9M109,4.3L107.6,3.6L106.1,3.2L104.9,3L104.8,1.4L103.8,0L103.8,-1.6L104.5,-2.2L106,-3L107.5,-3.8L108.5,-5L109.8,-5.9L110.9,-7.5L111.9,-6.8L113.4,-5.6L112.3,-4.6L112.1,-2.7L113.2,-1.1L111.9,-0.5L111.7,1.1L110.9,2.7L110.4,4.1L109,4.3M77.3,-6.8L76.3,-6.5L75.8,-8.1L75.9,-10.6L77.1,-9.2L77.8,-7.9L77.3,-6.8M111.3,-9.1L113.2,-12.2L113,-10.8L111.7,-9.2L111.3,-9.1M51.5,-13.6L51.5,-13.3L50.5,-13.3L50.4,-13.7L51.5,-13.6M87.5,-14.6L87.9,-14.4L88,-12.4L87.6,-12.5L87.5,-14.6M101.8,-20.8L102.9,-21.7L103.9,-21.2L103.5,-19.8L102.3,-19.7L101.8,-20.8M18.2,-34L18.1,-35L19.9,-35.5L21.3,-34.7L22.7,-34.1L24.6,-33.8L26.4,-33.3L27.8,-33.9L29.4,-33.8L31.1,-33.8L31.6,-35L32.1,-36.7L32.2,-38.6L32.3,-39.6L30.8,-39.6L29,-38.9L27.3,-39.7L25.9,-39.5L24.4,-39.9L23.3,-41.5L23.6,-42.6L23,-43.3L24.1,-43.6L25.3,-44.3L23,-43.8L21.4,-44.1L20.6,-43.4L21.1,-43.1L20,-43.6L20.2,-42.4L21.3,-41L20.4,-40.5L20.5,-39.4L19.6,-39.6L19.1,-40.4L18.5,-41.8L17.6,-42.8L17,-43.6L17,-45L16,-45.8L14.2,-46.9L12.8,-47.9L12.2,-48.8L11.6,-48.7L11.6,-49.2L10.5,-48.8L10.6,-47.6L11.8,-46.9L12.6,-45.6L13.9,-45.1L15.8,-43.8L16.2,-43.2L14.9,-43.5L14.6,-42.7L15.1,-42L14.3,-41L13.9,-41.1L14.3,-42L13.6,-43.1L12.7,-43.9L10.9,-44.7L9.5,-45.8L8.9,-46.9L7.5,-47.8L6.4,-47.2L5.2,-46.4L3.9,-46.7L2.8,-46.5L2.8,-45.3L1.7,-44.5L0.4,-43.6L-0.3,-42.5L0.2,-41.7L-0.6,-40.5L-1.8,-39.7L-3.9,-39.6L-4.8,-38.9L-5.6,-39.7L-6.6,-40.1L-7.9,-39.9L-7.8,-41.5L-8.4,-41.8L-7.7,-43.6L-7.6,-45.3L-7.9,-46.3L-6.9,-47.1L-4.7,-46.9L-2.6,-46.7L-1.5,-46.7L-1,-47.9L-1,-49.5L-1.9,-50.8L-3.8,-51.5L-3.9,-52.1L-2.5,-52.5L-1.3,-52.3L-1.5,-53.4L0,-53.1L1.2,-53.9L1.4,-54.7L2.9,-55.3L3.7,-56.3L4,-57.1L5.6,-57.3L6.8,-57.6L6.8,-59.4L6.4,-60.9L8.2,-61.6L8.1,-60.4L7.9,-59.4L7.8,-58.7L8.8,-58L10,-58.3L11.2,-57.8L13.2,-58.4L14.7,-58.7L15.6,-58.3L15.9,-58.8L16.6,-59.4L16.4,-60.9L17.5,-61.6L19,-61.1L18.8,-62.2L18,-63.1L19.1,-63.4L21.4,-63.5L22.8,-63.8L21.6,-64.4L19.7,-64.3L17.5,-63.8L16.2,-64.7L15.8,-66.3L16.2,-67.1L18.1,-68.7L17.6,-69.5L15.8,-69.3L15.5,-68.2L14,-67L12.9,-65.8L13,-64.6L14.3,-63.9L13.8,-62.9L12.8,-61.9L12.8,-60.4L11.4,-59.9L11.3,-59.3L10.3,-59.3L9.9,-60.1L9.2,-61.4L8.6,-62.9L8,-63.4L7.3,-62.7L5.8,-61.9L4.4,-62.7L3.8,-64.4L3.7,-65.8L4.8,-66.8L6.6,-67.6L8,-68.5L8.9,-69.7L9.9,-71.1L10.8,-72L12.4,-73.1L14.3,-73.5L15.9,-74.1L17.6,-74.3L19.3,-74.2L21.1,-73.6L21,-73.1L22.7,-72.9L24.9,-72.6L26.6,-72L28.4,-71.3L29.3,-70.2L27.9,-69.7L26.4,-69.9L24.9,-70.1L23.4,-70.4L24.9,-69L25.5,-68.1L27.4,-67.8L27.6,-68.5L29.1,-68.3L29.1,-69.5L30.3,-70.1L31.8,-69.9L31,-71.1L30.8,-72L32.2,-71.5L32.9,-70.6L34,-71.3L35.5,-71.7L36.9,-72L38.3,-72L40.3,-72.3L41.6,-73.1L42.3,-72.3L44.6,-72.6L46.5,-72.3L45.3,-74.1L45.2,-76L46.5,-75.9L47.9,-75.8L49.2,-74.2L50.3,-72L51.5,-70.3L52.4,-70.6L51.2,-72.4L49.4,-74.7L49.6,-75.8L52,-75.3L53.4,-75.1L53,-76.4L54.2,-76.6L55.3,-76.9L55.8,-77.7L57.1,-78L58.3,-78.4L59.4,-78.5L60.5,-78.7L61.6,-78.8L62.3,-79.3L62.9,-79.8L64.1,-79.9L66.7,-79.2L68.5,-79.1L70.2,-79L72.6,-78.1L72.1,-77.5L71.5,-76.9L73.4,-76.7L76,-76.4L78.5,-76L79.7,-76.2L80.9,-76.4L83.2,-76.4L86.2,-75.4L87.2,-74.2L88.9,-74.5L90.6,-74.8L92.8,-74.7L92.9,-75.6L94,-75.7L95.6,-75.6L97.1,-75.4L98.8,-75.2L100.4,-75L103.3,-74.2L105.1,-74.2L107,-74.2L110.4,-73L112.7,-73.1L113.9,-73.2L115.1,-73.3L118.1,-72.4L117,-73.4L119,-73.2L120.9,-73.1L122.8,-72.7L124.8,-72.4M130.3,-68.7L128.8,-68.4L132.2,-66.8L133.1,-66.3L132,-66L130.8,-65.6L129.6,-64.9L129.3,-63.9L127.8,-63.9L126.3,-63.9L125,-63.7L126.3,-61.9L127.6,-60.4L128.8,-58.9L129.1,-57L128.2,-56.7L128.6,-54.7L126.1,-56.8L123.3,-59.4L121.8,-61.4L122.3,-62.4L122.5,-63.9L122.6,-65.4L121.8,-66.3L120.7,-65.4L119.4,-65.5L117.5,-65.5L118.5,-63.4L117.1,-62.9L114.5,-63.5L113.1,-63.4L111.7,-63.3L109.1,-63.2L108.9,-61.9L108.4,-60.4L107.9,-58.7L110.3,-57.8L112.3,-57.8L114.2,-56.8L115.3,-54.7L116.8,-52.7L116.8,-50.6L116.5,-48.4L115.5,-46.6L113.9,-46.4L113.3,-45.6L113.3,-44.2L112.8,-43.1L112.2,-42.6L113.7,-41.3L115.2,-39.9L116,-38.3L115.4,-37.6L113.9,-37.1L113.2,-38.3L112.8,-39.9L110.9,-40.8L110.3,-42.6L109.2,-43L107.5,-42.3L107.1,-41.8L106.5,-44L105.2,-42.6L103.9,-42L105.1,-40.8L106.3,-40.1L107.4,-40.5L109,-40.1L107.7,-39L107.1,-37.7L108.8,-36.1L110.7,-34.3L110.9,-32.9L111.6,-32.1L111.7,-30.5L110.8,-28.6L110.2,-27.2L109.5,-26.3L108.4,-24.8L106.7,-24.3L105.8,-23.9L104,-23.2L103.1,-22L102.5,-23.1L101,-23.3L99.8,-22.4L99.1,-20.7L100.1,-18.9L101.9,-17.3L103.2,-14.6L103.4,-12.7L101.9,-11.3L101,-10.2L99.7,-9.4L99.4,-10.8L98.1,-11.3L97,-12.9L95.5,-13.8L95,-14.6L94.6,-12.9L94.1,-11.3L94.7,-10L95.5,-8.1L96.5,-7.3L97.4,-6.5L98.4,-4.9L98.5,-3L99.2,-1.5L98.5,-1.6L96.4,-3L95.6,-4.3L95.4,-6.3L94.5,-7.9L93.3,-8.6L93.4,-10.6L93.4,-12.9L92.5,-15.1L92,-17.3L91.2,-18.1L89.9,-17.1L88.8,-17.3L88.7,-19.4L87.5,-21.4L86.1,-22.6L85.5,-24.2L84.4,-23.7L83,-23.5L81.6,-23.2L81.1,-22.1L80,-21.2L78.8,-19.7L77.4,-18L76.3,-17.1L75.6,-16.2L75.9,-14.2L75.6,-12.4L75.2,-11.1L74.8,-9.9L74,-9.4L73.6,-8.7L72.6,-9.7L71.8,-12.2L70.7,-14L70.1,-16.2L69.2,-17.8L68.3,-20.5L67.9,-22.6L67.6,-23.7L66.1,-22.4L64.3,-23.9L65.2,-24.6L63.7,-25.3L62.4,-26.5L61.6,-27.4L59.3,-27.3L57,-27.1L54.6,-27.4L53,-27.8L52.4,-29.1L50.3,-28.7L48.4,-29.7L46.8,-31.1L45.7,-32.6L44.6,-32.7L43.9,-32.1L44.6,-30.5L46.2,-28.8L46.5,-27.5L47.3,-26.5L47.6,-28L47.8,-26.8L48.1,-26L50.1,-26.1L51.8,-27.7L52.1,-28.4L52.4,-26.7L54.4,-25.4L55.7,-24.3L54.7,-22.1L54.2,-20.5L52.1,-18.9L49.9,-17.8L48.1,-16.6L46.2,-15.4L44.4,-14.6L42.5,-13.8L41.1,-13.7L40.6,-15.6L40.2,-17.8L38.9,-19.9L36.6,-22.9L35.3,-25.9L33.7,-28L32.2,-30.2L31.9,-31.8L31.6,-30L30.5,-30.7L29.8,-32.2L30.8,-30L31.7,-28L32.8,-25.9L33.2,-24.8L34.4,-23.7L34.8,-22.1L35,-20.5L36.1,-19.4L37,-16.8L38.7,-15.6L40.4,-14L41,-13.5L40.9,-12.4L42.2,-11.2L44.5,-12.1L46.4,-12.2L48.5,-12.7L48.4,-11.3L47.7,-9.2L46.6,-7L45.7,-4.9L43.8,-2.4L41.9,-1.1L40,1.1L39,2.2L38.1,3.5L37.4,5.1L36.9,7L37.5,9.2L37.9,11.3L38.4,13.5L38.4,16.2L37.2,17.8L34.7,19.2L32.8,21.4L33.1,23.2L33,25.9L30.5,27.5L30.3,29.1L29.4,31.1L27.8,33.2L25.8,35.3L23.5,36.4L20.3,36.9L18,37.5L16.7,36.9L16.6,35L15.8,32.9L15.2,30.8L14,29.1L13.5,25.9L13.5,24.3L12.4,22.1L11.3,19.4L11.1,17.8L11.6,15.6L12.8,13.5L13.1,11.9L12.5,9.7L11.9,7L11.6,5.9L10.9,4.5L9.5,3L8.6,1.3L8.9,-0.3L9.3,-2.2L9.3,-3.8L8.4,-4.9L6.7,-4.7L5.7,-4.6L4.8,-6.3L3.8,-6.9L1.9,-6.8L0,-6.1L-1.9,-5.2L-3.8,-5.6L-5.7,-5.2L-7.2,-4.7L-9,-6.3L-10.9,-7.4L-12.3,-9.1L-13.1,-10.5L-14.2,-11.9L-15.8,-13.3L-15.9,-14.6L-16.5,-15.9L-15.5,-17.3L-15.3,-20.5L-15.9,-22.6L-14.9,-25.3L-13.4,-28L-12,-30L-10.6,-30.7L-9.2,-31.8L-8.8,-33.2L-8.4,-35L-7.2,-36.1L-6.1,-36.9L-5.3,-38.6L-1.8,-38L0,-38.6L2.7,-39.7L4.5,-39.8L6.2,-39.9L8.9,-40.2L9.8,-39.8L9.4,-38.3L9.9,-36.7L9.2,-36.3L10.4,-35.8L11.8,-35.5L13.9,-34.8L14.6,-33.6L16.4,-32.8L17.8,-32.8L18.2,-34M34,-47.1L32.1,-48.1L31.2,-48.8L31.9,-49.2L32.6,-49.7L33,-50.7L32,-50.7L30.8,-50.2L29.7,-49.7L29.8,-49.2L30.7,-48.9L30.3,-48.6L29.1,-47.8L28.6,-48L27.7,-48.9L28.5,-49.6L26.9,-50L26,-50L25.3,-48.7L24.6,-47.4L24.2,-46.3L24,-45.8L24.3,-45L25.3,-44.4L27.5,-44.4L29.1,-45.3L30.6,-45.3L31.8,-44.5L33.6,-44.2L35.4,-44.2L36.3,-44.8L35.9,-46L34,-47.1M111.9,-24.8L111.8,-26.4L112.1,-27.2L113.1,-27L113,-25.3L112.6,-23.7L111.9,-24.8M29.2,-37.4L29,-37.8L30.9,-38.4L30.6,-37.4L29.2,-37.4M21.1,-38.4L23.5,-38.1L23.5,-37.7L21.2,-38L21.1,-38.4M11.1,-41L13.7,-41.2L13.5,-39.6L11.1,-40.5L11.1,-41M8.2,-46.3L8.5,-44L8.4,-42.1L7.5,-42L7.3,-44L7.5,-45.3L7.4,-46.3L8.2,-46.3M-4.5,-58.5L-4.8,-57.3L-5.1,-56L-6.5,-55.5L-8.2,-55.6L-7.7,-57L-8,-58L-6.8,-58.3L-6.5,-59.1L-5.2,-59.1L-4.5,-58.5M-1.6,-59.9L-1.2,-58.9L-0.2,-57.8L0.2,-56.8L1.4,-56.5L1.1,-55L-0.8,-54.4L-2.9,-54L-4.7,-53.8L-3.5,-54.7L-2.5,-55.2L-4.2,-55.6L-3.4,-56.3L-3.6,-57.1L-2.4,-57.3L-2.8,-58.8L-3.8,-58.7L-4,-59.2L-4.3,-60.4L-4.5,-61.4L-3.9,-62.5L-2.3,-62.5L-2.7,-61.6L-1.6,-61.4L-2.4,-59.9L-1.6,-59.9M-16.5,-67.7L-16,-68.5L-17.3,-69.2L-15.7,-70L-14.3,-70L-12.9,-69.9L-10.6,-69.9L-9.8,-68.7L-10.9,-68L-13.6,-67.2L-15,-67.4L-16.5,-67.7M35.4,-76.4L35.8,-77.9L36.8,-78.3L37.8,-78.7L38.9,-78.9L40,-79.1L41,-79.4L42.7,-79.2L41.3,-78.8L39.9,-78.4L38.9,-77.8L37.8,-77.3L36.7,-76.4L37.1,-75.1L38.7,-73.9L37.3,-74L35.9,-74.1L34.8,-74.2L34.7,-75.1L35.4,-76.4M8.6,-79.8L6.6,-80.9L8.1,-81.3L9.5,-81.7L10.6,-81.8L11.8,-81.9L12.9,-82.1L14.4,-81.9L15.9,-81.8L14.8,-81.7L13.6,-81.6L12.5,-81.5L11.3,-81.3L12.8,-80.2L11.7,-79.6L10.6,-79.1L8.6,-79.8M58.2,-82.4L60.7,-81.7L63.2,-80.9L62.1,-80.6L61,-80.3L59.1,-80.6L57.2,-80.9L55.8,-82.1L57,-82.2L58.2,-82.4M33.5,-82.7L34.8,-82.5L36.2,-82.3L35.2,-82.1L34.2,-81.9L33.1,-81.7L31.9,-81.7L30.7,-81.8L29.5,-81.8L28.3,-81.8L29.1,-82.4L30.2,-82.5L31.3,-82.6L32.4,-82.7L33.5,-82.7M148.8,46.9L146.6,47.9L145.1,49.3L143.3,50.1L142,49.8L141.4,49.3L144.1,47.6L146.8,46.3L149.1,45L151.2,43.6L151.9,44.5L151.1,45.3L148.8,46.9M127.9,44.3L129.6,44.1L128.4,45.8L126.9,46.9L125.7,46.9L126,45.6L126.5,44L127.9,44.3M156,38.6L156.4,39.7L156.3,40.5L158.3,40.6L156.7,42.3L155.8,42.6L154.8,43.6L152.6,44.8L153.4,43.4L153.1,42.4L154.9,41L155.7,39.4L155.3,37.7L155.4,37.2L156,38.6M128.3,14.6L128.2,16.4L129.8,17.9L131.5,19.1L132.7,17.8L133.6,15.6L134,13.5L135.1,11.6L135.7,13.8L136.4,15.3L137,16.7L137.2,18.7L137.3,20.5L138.7,21.8L139.4,23.7L140.3,25.6L141.5,27.2L141.4,28.6L141.2,30.4L140,32.3L138.5,34.5L136.5,36.4L135,38.1L133.4,40.2L131.2,40.9L129.1,42.1L128.3,41.3L126.7,41.8L124.5,41L124.7,38.8L124.5,37L124.4,37.7L122.8,38.3L124.6,35.4L122.7,36.4L121.8,37.5L121.4,35.4L119.4,34L117.3,34.2L114.3,34.8L111.4,36.6L108.2,36.7L105.5,37.7L103.6,37L105.1,34.5L105,32.9L105.2,30.7L104.9,28L105.3,26.4L106.3,23.7L107.8,23.2L109.3,22.3L111.3,21.6L113.3,21L114.7,19.4L115.6,18.9L116.7,17.5L118.4,15.6L119.9,15.1L120.7,16L122.1,16.2L122.8,14.6L123.9,13.2L125.9,12.4L127.8,12.9L129.4,13.2L128.3,14.6M155.3,23.5L155.6,24.2L154,23.2L153.4,21.8L155.3,23.5M166.4,19.5L166.6,18.9L167.8,18.9L167.5,19.6L166.4,19.5M157.4,17.6L157.1,16.2L157.6,16.7L157.9,17.8L157.4,17.6M117.1,11.1L118.6,9.7L120.8,9.1L120,10L118,11L117.1,11.1M152.7,10.6L151.6,10L149.1,8.4L148.2,7.3L151.4,8.9L152.7,10.6M142,11.3L139.8,10.8L138.6,9.2L137.2,8.3L136.2,9.2L135.2,9.9L133.8,9.8L132.5,8.7L131,8.9L131.9,7.5L131.2,5.9L129.4,5L127.5,4.2L126.6,4.3L126.4,3.2L125.7,3L127.1,2.5L125.7,2.2L124.8,1.4L124.8,0.9L126.2,0.4L127.6,0.9L128,2.7L129,3.6L130.4,2.2L131.9,1.9L134.2,2.8L136.1,3.7L137.5,4.1L138.7,5.4L139.8,6.5L140.5,7.2L139.6,7.3L140.5,8.6L141.8,10.2L142.9,11.1L142,11.3M141.2,6L143.1,5.9L144.6,4.5L144.9,5.4L143.1,6.8L141.2,6M144.9,4.2L143.6,2.8L145.1,3.8L145.6,5L144.9,4.2M121.8,3.2L124.5,3.5L123.2,3.8L121.8,3.2M115.9,4.9L115.2,2.9L114.6,3.2L114.5,6L113.6,5.9L113.7,3.8L113.1,3L113.6,1.6L114.1,0.2L114.3,-0.9L115.2,-1.3L117.1,-1.1L118.2,-1.1L117.2,-0.4L115.2,-0.5L114.6,-0.2L115.7,1.1L117.4,1.1L116.2,2.2L117.2,4.3L117,5.7L115.9,4.9M121.4,-0.5L121.4,-2.2L121.9,-1.6L122.6,-1.1L121.9,0L121.7,0.9L121.4,-0.5M117.8,-7.9L116.5,-8.3L117.2,-9.2L118.8,-10.6L120.1,-8.6L120,-6.8L119.3,-6.1L118.3,-6.8L117.8,-7.9M115.6,-11.3L115.5,-12.7L116.9,-12.4L118.2,-13.5L119.1,-11.9L118.5,-10.8L117.1,-10.2L116.2,-10.5L115.6,-11.3M115.1,-17.8L114.5,-16.7L115.2,-15.3L117.1,-14.9L117.3,-13.7L116.2,-14.6L114.8,-14.8L113.8,-15.4L113.2,-16.2L112.8,-17.6L113.1,-18.9L113,-19.9L114.6,-19.9L115.1,-17.8M119.6,-34L118.9,-33.6L117.9,-35L117.2,-35.9L117.4,-36.1L118.2,-36.4L119.5,-35.6L119.6,-34M121.2,-36.9L121.4,-36.3L120.4,-35.4L119.8,-35.9L119.4,-36.7L121.2,-36.9M123.2,-40.2L123.4,-41.5L122.9,-43.1L122.5,-44.2L123.4,-44.5L125,-42.6L125,-41L125.9,-38.8L125.7,-37.7L124.8,-37.4L123.2,-37.3L122.8,-36.1L121.5,-37.2L119.8,-37L118.1,-36.7L117.9,-37.2L118.7,-38.3L120.9,-38.5L121.8,-39.4L121.7,-40.4L123.2,-40.2M122.2,-44.7L121.2,-46.3L121.9,-46.9L120.9,-49L124.1,-47.4L125.5,-46.6L124.5,-45.3L122.8,-45.8L122.2,-44.7M121.6,-49.7L120.5,-49.5L119,-51.6L117,-54.2L115.4,-55.8L113.6,-58.1L116.3,-56.3L118.6,-53.7L120.3,-52.7L120.2,-51.1L121.6,-49.7M120.3,-74.7L121,-74.7M121.7,-74.2L120.7,-74.2L120.3,-74.7M92.2,-78.5L94.1,-78.2L95.9,-77.9L94.5,-77.8L93.2,-77.7L91.8,-77.6L90.3,-77.8L88.7,-78L87.2,-78.1L88.4,-78.5L89.7,-78.5L91,-78.5L92.2,-78.5M40.1,-48.4L40.8,-49.2L41.4,-50L42.4,-50.3L43.4,-50.6L44.8,-50L45.2,-48.8L43.7,-48.7L43.2,-48L43.9,-46.9L45.4,-46.1L45.9,-44.7L47.2,-44L46.5,-43.1L47.5,-42L48,-40.4L47.2,-39.8L46.3,-39.7L45.5,-39.6L44,-40.3L43.3,-41.5L43.2,-43.4L44.1,-43.5L42.6,-45L41.6,-45.8L40.9,-46.9ZM49.4,-50.2L50.5,-50.1L51.6,-50L52.1,-49L52.7,-47.9L52,-47.4L51.2,-46.9L49.9,-47.9L49.7,-49.1ZM84.8,-55.3L85.6,-56.3L86.1,-57.1L86.6,-57.8L86.7,-59.6L86.1,-59.7L86,-58.7L85.9,-57.6L85.5,-57.1L85,-56.6L84.6,-55.8ZM62.2,-49.8L63.2,-50.1L64.2,-50.3L65,-50.3L65.9,-50.2L66.8,-50.1L66.5,-49.7L65.7,-49.6L64.9,-49.6L64.1,-49.5L63.1,-48.7ZM-77.7,-50.2L-76.6,-50.8L-75.5,-51.4L-74.5,-51.8L-73.5,-52.1L-72.7,-52L-72,-51.8L-71.4,-50.6L-71.9,-50L-72.7,-50L-73.6,-50L-74.6,-50.2L-75.6,-50.3L-76.6,-50.3ZM-76.4,-44.9L-75.8,-46.9L-74.1,-48.8L-72.5,-49.5L-72.4,-48.8L-74.3,-46.9L-75.2,-45ZM-71.7,-49.5L-70.6,-49.5L-69.6,-49.5L-68.9,-49L-68.3,-48.4L-69.8,-47.9L-71.1,-46.3L-71.7,-47.4L-71,-48.7ZM-72.4,-45L-71.3,-45.5L-70.1,-45.9L-69.2,-46L-68.3,-46.1L-68.4,-45.8L-69.7,-45.3L-71,-44.7L-72.3,-44.7ZM-68.8,-46.6L-67,-47.3L-65.5,-47.4L-65.9,-46.9L-66.8,-46.7L-67.7,-46.6ZM-81.4,-54.2L-80.5,-55.3L-79.7,-56.4L-78.8,-57.5L-77.9,-57.6L-78.6,-56.2L-79.2,-54.7L-80.4,-54.1ZM-88.2,-64.9L-86.9,-65.5L-85.6,-66L-84.7,-66.2L-83.8,-66.4L-82.9,-66.6L-82,-66.6L-81,-66.6L-83,-65.6L-84.2,-65.4L-85.3,-65.1L-86.3,-64.9L-87.2,-64.7ZM-90.1,-68.7L-87.8,-70L-86.9,-70.1L-86,-70.3L-85.1,-70.5L-84.6,-70.3L-84,-70.1L-85.7,-69.2L-86.5,-69.2L-87.4,-69.3L-88.8,-68.5L-89.5,-68.6ZM-85.8,-62.6L-84.6,-63L-83.3,-63.4L-82.4,-63.3L-81.5,-63.2L-82.6,-63L-83.7,-62.9L-84.7,-62.6L-85.6,-62.4ZM30.3,0.5L31.4,-0.4L32.7,0L32.4,1.6L31.7,2.8L30.5,2.7L30.2,1.4ZM27.8,3.7L28.4,4.9L28.8,6.2L29.2,7.5L29.4,9.4L28.9,8.8L28.5,7.7L28,6.5L27.7,4.5ZM32.2,10.2L32.8,11.9L32.9,12.9L33.1,14L33.2,15.4L32.7,15.1L32.5,14L32.4,12.9L32.1,11ZM23,-63.9L23.7,-65.1L24.9,-64.9L24.9,-64.2L24,-63.8ZM26,-64.9L26.2,-66.3L27,-65.8L27.1,-64.9L26.6,-64.7ZM-66,16.5L-65.3,17.3L-64.7,17.7L-65.4,17.6L-66,16.9Z"/>
<path id="O" fill="none" stroke="#222" stroke-width="0.8" d="M91.2,87L92.5,86.6L93.8,86.3L95.1,85.9L96.6,85.4L98.1,84.9L99.7,84.3L101.3,83.7L103,83.1L104.8,82.4L106.5,81.7L108.3,80.9L110.1,80.2L111.9,79.4L113.7,78.5L115.4,77.7L117.1,76.9L118.7,76L120.2,75.1L121.7,74.2L123.2,73.4L124.7,72.4L126.1,71.5L127.5,70.6L128.9,69.7L130.3,68.7L131.6,67.8L133,66.8L134.3,65.8L135.6,64.9L136.9,63.9L138.2,62.9L139.5,61.9L140.7,60.9L142,59.9L143.2,58.9L144.3,57.8L145.5,56.8L146.6,55.8L147.7,54.7L148.8,53.7L149.8,52.7L150.8,51.6L151.8,50.6L152.7,49.5L153.7,48.4L154.6,47.4L155.5,46.3L156.3,45.3L157.2,44.2L158,43.1L158.8,42L159.5,41L160.3,39.9L161,38.8L161.6,37.7L162.3,36.7L162.9,35.6L163.5,34.5L164.1,33.4L164.6,32.3L165.1,31.3L165.6,30.2L166,29.1L166.4,28L166.8,27L167.2,25.9L167.5,24.8L167.8,23.7L168.1,22.6L168.4,21.6L168.7,20.5L169,19.4L169.2,18.3L169.5,17.3L169.7,16.2L170,15.1L170.2,14L170.3,12.9L170.5,11.9L170.7,10.8L170.8,9.7L170.9,8.6L171,7.5L171.1,6.5L171.2,5.4L171.3,4.3L171.3,3.2L171.4,2.2L171.4,1.1L171.4,0L171.4,-1.1L171.4,-2.2L171.3,-3.2L171.3,-4.3L171.2,-5.4L171.1,-6.5L171,-7.5L170.9,-8.6L170.8,-9.7L170.7,-10.8L170.5,-11.9L170.3,-12.9L170.2,-14L170,-15.1L169.7,-16.2L169.5,-17.3L169.2,-18.3L169,-19.4L168.7,-20.5L168.4,-21.6L168.1,-22.6L167.8,-23.7L167.5,-24.8L167.2,-25.9L166.8,-27L166.4,-28L166,-29.1L165.6,-30.2L165.1,-31.3L164.6,-32.3L164.1,-33.4L163.5,-34.5L162.9,-35.6L162.3,-36.7L161.6,-37.7L161,-38.8L160.3,-39.9L159.5,-41L158.8,-42L158,-43.1L157.2,-44.2L156.3,-45.3L155.5,-46.3L154.6,-47.4L153.7,-48.4L152.7,-49.5L151.8,-50.6L150.8,-51.6L149.8,-52.7L148.8,-53.7L147.7,-54.7L146.6,-55.8L145.5,-56.8L144.3,-57.8L143.2,-58.9L142,-59.9L140.7,-60.9L139.5,-61.9L138.2,-62.9L136.9,-63.9L135.6,-64.9L134.3,-65.8L133,-66.8L131.6,-67.8L130.3,-68.7L128.9,-69.7L127.5,-70.6L126.1,-71.5L124.7,-72.4L123.2,-73.4L121.7,-74.2L120.2,-75.1L118.7,-76L117.1,-76.9L115.4,-77.7L113.7,-78.5L111.9,-79.4L110.1,-80.2L108.3,-80.9L106.5,-81.7L104.8,-82.4L103,-83.1L101.3,-83.7L99.7,-84.3L98.1,-84.9L96.6,-85.4L95.1,-85.9L93.8,-86.3L92.5,-86.6L91.2,-87L-91.2,-87L-92.5,-86.6L-93.8,-86.3L-95.1,-85.9L-96.6,-85.4L-98.1,-84.9L-99.7,-84.3L-101.3,-83.7L-103,-83.1L-104.8,-82.4L-106.5,-81.7L-108.3,-80.9L-110.1,-80.2L-111.9,-79.4L-113.7,-78.5L-115.4,-77.7L-117.1,-76.9L-118.7,-76L-120.2,-75.1L-121.7,-74.2L-123.2,-73.4L-124.7,-72.4L-126.1,-71.5L-127.5,-70.6L-128.9,-69.7L-130.3,-68.7L-131.6,-67.8L-133,-66.8L-134.3,-65.8L-135.6,-64.9L-136.9,-63.9L-138.2,-62.9L-139.5,-61.9L-140.7,-60.9L-142,-59.9L-143.2,-58.9L-144.3,-57.8L-145.5,-56.8L-146.6,-55.8L-147.7,-54.7L-148.8,-53.7L-149.8,-52.7L-150.8,-51.6L-151.8,-50.6L-152.7,-49.5L-153.7,-48.4L-154.6,-47.4L-155.5,-46.3L-156.3,-45.3L-157.2,-44.2L-158,-43.1L-158.8,-42L-159.5,-41L-160.3,-39.9L-161,-38.8L-161.6,-37.7L-162.3,-36.7L-162.9,-35.6L-163.5,-34.5L-164.1,-33.4L-164.6,-32.3L-165.1,-31.3L-165.6,-30.2L-166,-29.1L-166.4,-28L-166.8,-27L-167.2,-25.9L-167.5,-24.8L-167.8,-23.7L-168.1,-22.6L-168.4,-21.6L-168.7,-20.5L-169,-19.4L-169.2,-18.3L-169.5,-17.3L-169.7,-16.2L-170,-15.1L-170.2,-14L-170.3,-12.9L-170.5,-11.9L-170.7,-10.8L-170.8,-9.7L-170.9,-8.6L-171,-7.5L-171.1,-6.5L-171.2,-5.4L-171.3,-4.3L-171.3,-3.2L-171.4,-2.2L-171.4,-1.1L-171.4,0L-171.4,1.1L-171.4,2.2L-171.3,3.2L-171.3,4.3L-171.2,5.4L-171.1,6.5L-171,7.5L-170.9,8.6L-170.8,9.7L-170.7,10.8L-170.5,11.9L-170.3,12.9L-170.2,14L-170,15.1L-169.7,16.2L-169.5,17.3L-169.2,18.3L-169,19.4L-168.7,20.5L-168.4,21.6L-168.1,22.6L-167.8,23.7L-167.5,24.8L-167.2,25.9L-166.8,27L-166.4,28L-166,29.1L-165.6,30.2L-165.1,31.3L-164.6,32.3L-164.1,33.4L-163.5,34.5L-162.9,35.6L-162.3,36.7L-161.6,37.7L-161,38.8L-160.3,39.9L-159.5,41L-158.8,42L-158,43.1L-157.2,44.2L-156.3,45.3L-155.5,46.3L-154.6,47.4L-153.7,48.4L-152.7,49.5L-151.8,50.6L-150.8,51.6L-149.8,52.7L-148.8,53.7L-147.7,54.7L-146.6,55.8L-145.5,56.8L-144.3,57.8L-143.2,58.9L-142,59.9L-140.7,60.9L-139.5,61.9L-138.2,62.9L-136.9,63.9L-135.6,64.9L-134.3,65.8L-133,66.8L-131.6,67.8L-130.3,68.7L-128.9,69.7L-127.5,70.6L-126.1,71.5L-124.7,72.4L-123.2,73.4L-121.7,74.2L-120.2,75.1L-118.7,76L-117.1,76.9L-115.4,77.7L-113.7,78.5L-111.9,79.4L-110.1,80.2L-108.3,80.9L-106.5,81.7L-104.8,82.4L-103,83.1L-101.3,83.7L-99.7,84.3L-98.1,84.9L-96.6,85.4L-95.1,85.9L-93.8,86.3L-92.5,86.6L-91.2,87Z"/>
</defs>
<!-- map 1 -->
<g transform="translate(174.9,220.3)">
<g shape-rendering="crispEdges" fill="none" stroke-width="1.09">
<use href="#L" stroke="#3050E0"/>
<path stroke="#2088F8" d="M-60.9,55.1H-58.8M-60.3,54.1H-59.2M-61.7,53.2H-59.6M-62.1,52.2H-61M-60.4,51.2H-59.3M-60.8,50.2H-59.6M143.1,50.2H144.2M-64.3,49.2H-63.2M-61.1,49.2H-60M145,49.2H146.1M-61.5,48.2H-60.3M143.4,47.2H144.6M148.5,46.2H150.7M-62.5,45.2H-61.3M150.4,45.2H151.5M126,44.2H127.2M129.3,44.2H130.5M150.1,44.2H152.3M-63.1,43.2H-61.9M-63.4,42.2H-62.2M126.2,42.2H127.3M-63.7,41.1H-62.5M123.4,41.1H124.6M157.7,41.1H158.9M-64,40.1H-62.8M125,40.1H126.2M-64.2,39.1H-63M128.9,39.1H130.1M104.8,38.1H106M131.7,38.1H132.9M155.2,38.1H156.4M-50.1,37.1H-47.8M132.2,37.1H133.4M135.5,37.1H136.7M-50.3,36.1H-49.1M134.9,36.1H137.2M-52.7,35.1H-51.5M105.9,35.1H107.1M136.5,35.1H137.7M26.7,34H27.9M137,34H138.2M-54.2,33H-53M26.8,33H28M137.4,33H138.6M-60.1,32H-58.9M-54.4,32H-53.2M-61.4,31H-60.2M-59.1,31H-57.9M138.2,31H139.4M-55.8,30H-54.6M29.3,30H30.5M136.3,30H139.8M-61.7,29H-60.5M-56,29H-54.7M29.4,29H30.6M138.9,29H140.2M-61.9,27.9H-60.7M-58.4,27.9H-54.9M24.8,27.9H26.1M27.1,27.9H29.5M140.4,27.9H141.7M-57.4,26.9H-55M26,26.9H28.4M42.2,26.9H43.5M138.4,26.9H139.6M-59.8,25.9H-56.3M26.1,25.9H27.3M42.3,25.9H44.7M138.7,25.9H139.9M-63.4,24.9H-62.2M-58.8,24.9H-57.5M-56.4,24.9H-55.2M41.2,24.9H42.5M134.5,23.9H135.8M32.1,22.9H33.3M134.7,22.9H136M-64.9,21.8H-63.7M40.3,21.8H41.5M133.8,21.8H135M-65,20.8H-63.8M31,20.8H32.2M136.4,20.8H137.6M-67.5,19.8H-62.7M-41.7,19.8H-40.4M-37,19.8H-35.7M31,19.8H32.3M40.4,19.8H41.7M-68.7,18.8H-65.1M-41.7,18.8H-40.5M34.6,18.8H37M40.5,18.8H41.7M-70,17.8H-67.6M-54.7,17.8H-53.5M-43,17.8H-40.5M32.3,17.8H38.3M-68.9,16.8H-67.7M-43,16.8H-40.6M31.2,16.8H37.1M43,16.8H44.2M-72.6,15.8H-71.3M-41.9,15.8H-40.6M-38.4,15.8H-35.9M37.1,15.8H38.4M-42,14.7H-40.7M-38.4,14.7H-37.2M20.6,14.7H24.2M27.7,14.7H29M31.2,14.7H33.7M34.8,14.7H38.4M46.6,14.7H47.9M122.2,14.7H129.3M135.2,14.7H136.4M-42,13.7H-39.6M-38.5,13.7H-36M13.6,13.7H18.4M28.9,13.7H30.2M31.3,13.7H33.7M36,13.7H38.5M122.3,13.7H123.6M128.2,13.7H129.5M135.3,13.7H136.6M-42,12.7H-37.2M17.1,12.7H18.4M19.5,12.7H20.7M28.9,12.7H30.2M31.3,12.7H34.9M36,12.7H38.5M45.5,12.7H46.8M123.6,12.7H128.4M-43.3,11.7H-40.8M-37.3,11.7H-36.1M-35,11.7H-33.7M18.3,11.7H19.6M20.7,11.7H21.9M27.8,11.7H30.2M33.7,11.7H37.3M-43.3,10.7H-39.7M-38.6,10.7H-37.3M-36.2,10.7H-33.7M27.8,10.7H31.4M32.6,10.7H35M36.1,10.7H37.4M-42.1,9.7H-40.9M-37.4,9.7H-33.8M30.2,9.7H31.5M-43.4,8.6H-40.9M-39.8,8.6H-37.3M-36.2,8.6H-33.8M11.2,8.6H12.5M29,8.6H31.5M-41,7.6H-36.2M11.2,7.6H13.7M29.1,7.6H35.1M-42.2,6.6H-41M-38.7,6.6H-35M11.2,6.6H14.9M27.9,6.6H30.3M31.4,6.6H32.7M33.8,6.6H35.1M-41.1,5.6H-36.2M26.7,5.6H29.2M30.3,5.6H36.3M-41.1,4.6H-37.4M30.3,4.6H36.3M-39.9,3.6H-38.6M30.3,3.6H31.6M33.9,3.6H36.3M29.1,2.5H31.6M33.9,2.5H36.3M30.3,1.5H31.6M35.1,1.5H36.3M32.7,0.5H35.2M29.1,-0.5H30.4M31.5,-0.5H32.8M33.9,-0.5H35.2M32.7,-1.5H34M25.5,-3.6H26.8M23.2,-4.6H24.4M12.4,-5.6H13.7M12.4,-6.6H13.7M33.8,-6.6H36.3M75.4,-6.6H76.7M-64.8,-7.6H-63.5M-5.4,-7.6H-4.1M-3,-7.6H-1.7M5.3,-7.6H6.6M8.9,-7.6H12.5M33.8,-7.6H36.3M-67.1,-8.6H-65.8M-64.7,-8.6H-63.5M-6.6,-8.6H-5.3M33.8,-8.6H37.4M94.3,-8.6H95.6M-7.7,-9.7H-6.5M33.8,-9.7H36.2M94.3,-9.7H95.5M100.2,-9.7H101.5M-13.7,-10.7H-10M-8.9,-10.7H-7.7M33.7,-10.7H36.2M75.2,-10.7H76.5M97.7,-10.7H102.6M71.6,-11.7H72.9M98.8,-11.7H100.1M101.2,-11.7H102.5M-66.9,-12.7H-65.6M99.9,-12.7H101.2M93.8,-14.7H95.1M96.2,-14.7H97.5M91.4,-15.8H92.6M93.7,-15.8H95M97.3,-15.8H98.5M-91.3,-16.8H-87.7M91.2,-16.8H92.5M93.6,-16.8H94.9M-92.4,-17.8H-91.1M89.9,-17.8H92.4M93.5,-17.8H94.7M-95.8,-18.8H-94.5M-93.4,-18.8H-91M72.2,-18.8H73.4M95.7,-18.8H96.9M-98,-19.8H-95.5M-63.9,-19.8H-62.7M72.1,-19.8H73.3M77.9,-19.8H79.2M-97.8,-20.8H-95.4M70.8,-20.8H73.2M75.5,-20.8H77.9M79,-20.8H80.2M-98.8,-21.8H-94.1M-86,-21.8H-84.7M-73.1,-21.8H-71.8M71.8,-21.8H73.1M75.4,-21.8H80.1M85.9,-21.8H87.1M-97.5,-22.9H-96.2M-84.6,-22.9H-82.2M75.2,-22.9H76.5M77.6,-22.9H81.1M85.7,-22.9H87M99.7,-22.9H102.2M103.2,-22.9H104.5M-99.7,-23.9H-98.4M-97.3,-23.9H-94.9M75.1,-23.9H77.5M78.6,-23.9H79.8M84.4,-23.9H85.7M98.4,-23.9H100.8M84.3,-24.9H85.5M98.2,-24.9H99.5M-100.5,-25.9H-99.2M-97,-25.9H-95.7M83,-25.9H85.4M92.2,-25.9H93.5M95.7,-25.9H98.1M-101.4,-26.9H-97.9M-96.8,-26.9H-95.5M80.5,-26.9H82.9M95.5,-26.9H96.8M112.9,-26.9H114.2M-101.2,-27.9H-97.6M79.1,-27.9H80.4M109.2,-27.9H111.6M-101,-29H-99.7M-97.5,-29H-96.3M75.5,-29H76.7M95.1,-29H96.3M110.1,-29H111.3M-100.7,-30H-97.2M71.9,-30H73.1M81.1,-30H83.4M-99.3,-31H-98.1M68.2,-31H69.5M79.7,-31H80.9M83.1,-31H84.4M-84.1,-32H-80.6M65.7,-32H67M74.9,-32H76.1M85.2,-32H86.4M-85,-33H-82.7M-81.6,-33H-79.2M63.3,-33H65.6M70.1,-33H72.5M86.1,-33H87.3M88.4,-33H90.7M100.9,-33H103.3M104.3,-33H105.6M-85.9,-34H-84.7M90.4,-34H97.3M100.6,-34H102.9M109.7,-34H110.9M-85.6,-35.1H-84.4M94.6,-35.1H98.1M99.1,-35.1H102.6M103.7,-35.1H104.9M109.3,-35.1H110.5M-86.4,-36.1H-85.2M95.4,-36.1H96.6M98.8,-36.1H100M104.4,-36.1H105.6M106.7,-36.1H109M-86.1,-37.1H-84.9M-69.2,-37.1H-68M98.4,-37.1H100.7M102.9,-37.1H106.4M113,-37.1H114.2M-85.8,-38.1H-84.6M42.9,-39.1H48.6M125.6,-39.1H126.8M-85.1,-40.1H-83.9M42.8,-40.1H45.1M110.6,-40.1H111.8M-109.1,-41.1H-107.9M-85.8,-41.1H-84.7M110.1,-41.1H111.3M-109.7,-42.2H-108.5M-85.5,-42.2H-82.1M109.6,-42.2H110.8M-107,-43.2H-105.8M-84,-43.2H-80.6M-75.2,-43.2H-74M109.1,-43.2H110.3M-82.5,-44.2H-81.3M-66.1,-44.2H-63.8M10.3,-44.2H12.6M16.9,-44.2H19.1M25.6,-44.2H26.8M35.4,-44.2H41M122.8,-44.2H123.9M-83.1,-45.2H-82M-81,-45.2H-79.8M-65.7,-45.2H-63.5M-7.1,-45.2H-5.9M-4.9,-45.2H-2.7M-1.7,-45.2H-0.5M11.4,-45.2H12.5M15.7,-45.2H20.1M106.9,-45.2H108.1M121.1,-45.2H122.2M-81.6,-46.2H-79.4M-73,-46.2H-69.6M-65.4,-46.2H-63.2M-0.6,-46.2H1.7M8.1,-46.2H9.2M11.3,-46.2H12.5M19.9,-46.2H22.2M40.5,-46.2H41.6M105.3,-46.2H107.5M120.4,-46.2H121.6M-80.1,-47.2H-78.9M-77.9,-47.2H-68.2M-67.2,-47.2H-65M-1.7,-47.2H2.7M8,-47.2H9.2M10.2,-47.2H13.5M18.8,-47.2H22.1M32.7,-47.2H38.2M104.7,-47.2H107M-78.6,-48.2H-75.3M-71.1,-48.2H-68.9M-52.9,-48.2H-51.8M-1.6,-48.2H0.6M1.6,-48.2H3.8M9,-48.2H11.3M19.7,-48.2H20.9M105.2,-48.2H106.4M-77.1,-49.2H-74.9M-70.7,-49.2H-68.5M-1.6,-49.2H3.8M5.8,-49.2H6.9M7.9,-49.2H11.2M19.6,-49.2H22.9M103.6,-49.2H105.8M120.6,-49.2H121.7M-79.8,-50.2H-76.5M-75.6,-50.2H-73.4M-71.3,-50.2H-70.2M-48.1,-50.2H-44.9M-0.6,-50.2H2.7M3.7,-50.2H4.8M11.1,-50.2H18.5M22.7,-50.2H23.8M104,-50.2H106.2M119.9,-50.2H121M-81.4,-51.2H-78.2M-74.1,-51.2H-69.8M-49.9,-51.2H-48.8M-45.7,-51.2H-44.6M4.7,-51.2H5.8M13.1,-51.2H16.3M21.5,-51.2H22.6M102.3,-51.2H105.6M-82,-52.2H-79.8M-72.6,-52.2H-71.5M-49.6,-52.2H-48.5M2.6,-52.2H8.9M13,-52.2H16.2M21.4,-52.2H23.5M99.6,-52.2H101.8M115.3,-52.2H116.4M119.5,-52.2H120.6M-94.9,-53.2H-92.8M-91.8,-53.2H-88.6M-87.7,-53.2H-82.4M2.6,-53.2H3.7M4.6,-53.2H8.9M16,-53.2H24.4M99,-53.2H101.2M114.6,-53.2H115.7M118.7,-53.2H119.8M-101.5,-54.1H-100.4M-98.4,-54.1H-93.2M-88.1,-54.1H-87M-86.1,-54.1H-85M-84,-54.1H-82.9M-54.1,-54.1H-45.8M-3.6,-54.1H-2.5M-1.6,-54.1H-0.5M2.5,-54.1H3.6M4.6,-54.1H8.8M13.9,-54.1H15M17,-54.1H20.1M21.1,-54.1H24.3M67.4,-54.1H69.6M70.5,-54.1H71.6M72.6,-54.1H75.8M76.7,-54.1H77.8M97.3,-54.1H99.5M109.7,-54.1H110.8M112.8,-54.1H113.9M-100.8,-55.1H-99.7M-86.5,-55.1H-84.4M-55.8,-55.1H-51.6M-50.7,-55.1H-49.6M-4.6,-55.1H-2.5M-1.6,-55.1H-0.5M2.5,-55.1H7.7M8.7,-55.1H9.8M10.7,-55.1H12.8M15.8,-55.1H23.1M67,-55.1H68.1M75.2,-55.1H83.4M84.4,-55.1H88.5M95.6,-55.1H96.7M107.9,-55.1H113.1M117.1,-55.1H118.2M-100.1,-56.1H-97M-62.5,-56.1H-61.4M-58.5,-56.1H-57.4M-53.4,-56.1H-51.3M-50.3,-56.1H-49.2M-4.6,-56.1H-3.5M3.5,-56.1H7.7M8.6,-56.1H11.7M14.7,-56.1H21.9M65.5,-56.1H67.6M75.6,-56.1H77.8M80.7,-56.1H82.8M87.8,-56.1H90M93.9,-56.1H95M96,-56.1H97.1M98,-56.1H99.1M108.2,-56.1H111.3M116.3,-56.1H117.4M128.5,-56.1H129.6M-104.4,-57.1H-103.3M-64.1,-57.1H-62M-61.1,-57.1H-49.9M-4.6,-57.1H0.5M5.5,-57.1H19.7M66,-57.1H67.1M88.2,-57.1H91.3M93.2,-57.1H94.3M97.3,-57.1H98.4M106.4,-57.1H108.5M114.4,-57.1H115.5M126.5,-57.1H129.6M-104.6,-58H-102.5M-68.6,-58H-67.5M-63.6,-58H-51.5M-3.5,-58H0.5M8.5,-58H10.5M12.5,-58H13.6M14.5,-58H15.6M65.5,-58H68.6M88.5,-58H90.6M92.5,-58H93.6M103.5,-58H105.6M125.6,-58H127.7M128.6,-58H129.7M-104.8,-59H-101.8M-69.1,-59H-67M-63.1,-59H-59M-58.1,-59H-57.1M-4.5,-59H-2.4M-1.5,-59H-0.5M7.4,-59H8.5M15.4,-59H16.4M18.3,-59H21.4M29.3,-59H34.3M38.2,-59H48.2M64,-59H66.1M89.8,-59H92.9M101.8,-59H103.8M-105,-60H-101.9M-68.5,-60H-67.4M-3.5,-60H-1.4M7.3,-60H8.4M16.2,-60H17.3M21.1,-60H28.1M33.9,-60H37M37.9,-60H39M40.8,-60H41.9M42.8,-60H43.9M47.7,-60H56.7M61.5,-60H64.6M87.1,-60H88.2M89.1,-60H92.2M95,-60H99M100.9,-60H103M122.6,-60H123.7M126.6,-60H127.6M-104.1,-60.9H-103M-75.8,-60.9H-73.7M-4.4,-60.9H-3.4M7.3,-60.9H8.3M21.9,-60.9H24M24.9,-60.9H25.9M48.3,-60.9H55.2M56.1,-60.9H59.2M60.1,-60.9H63.1M86.4,-60.9H91.4M92.3,-60.9H96.3M97.2,-60.9H98.2M99.1,-60.9H105.1M121.6,-60.9H122.7M125.5,-60.9H126.6M-105.2,-61.9H-104.1M-73.2,-61.9H-72.1M-3.4,-61.9H-1.4M21.8,-61.9H23.8M24.7,-61.9H25.7M57.6,-61.9H61.6M81.8,-61.9H82.9M87.6,-61.9H88.7M92.5,-61.9H94.5M95.4,-61.9H96.4M97.3,-61.9H98.4M99.3,-61.9H107.1M120.6,-61.9H121.6M-106.2,-62.8H-104.2M-77.4,-62.8H-76.3M-75.5,-62.8H-72.5M4.3,-62.8H8.2M21.6,-62.8H22.6M23.5,-62.8H24.5M59,-62.8H61M81.1,-62.8H83.1M84,-62.8H86M92.7,-62.8H99.5M100.3,-62.8H103.3M104.2,-62.8H107.2M122.4,-62.8H123.5M-106.2,-63.7H-104.2M-100.5,-63.7H-99.5M-83.4,-63.7H-82.3M-77.6,-63.7H-76.6M-75.7,-63.7H-71.9M3.3,-63.7H5.3M6.1,-63.7H8.1M78.5,-63.7H82.4M86.1,-63.7H91.9M92.8,-63.7H95.7M96.6,-63.7H98.6M101.4,-63.7H107.2M-106.2,-64.7H-105.2M-88.3,-64.7H-87.3M-84.5,-64.7H-83.5M-82.6,-64.7H-81.6M-80.7,-64.7H-79.7M-78.8,-64.7H-75M3.3,-64.7H4.3M7,-64.7H8.1M56.1,-64.7H59M76.9,-64.7H77.9M78.8,-64.7H80.7M81.6,-64.7H85.4M86.3,-64.7H87.3M88.2,-64.7H89.2M93.9,-64.7H98.7M99.5,-64.7H101.5M102.4,-64.7H105.3M-112.7,-65.6H-110.8M-109.9,-65.6H-105.2M-91.2,-65.6H-90.2M-89.3,-65.6H-87.4M-85.6,-65.6H-78M5.1,-65.6H8M52.8,-65.6H53.8M54.7,-65.6H60.4M73.4,-65.6H76.3M77.1,-65.6H82.8M84.6,-65.6H88.4M90.2,-65.6H91.2M93.9,-65.6H99.6M100.5,-65.6H103.4M-115.4,-66.5H-111.6M-110.7,-66.5H-109.7M-98.7,-66.5H-97.7M-96.9,-66.5H-95.8M-94.1,-66.5H-93.1M-89.4,-66.5H-88.4M-87.6,-66.5H-84.7M-83.9,-66.5H-81M3.2,-66.5H7.9M49.5,-66.5H51.5M54.2,-66.5H55.2M56,-66.5H61.6M71.8,-66.5H74.6M76.4,-66.5H77.4M78.2,-66.5H79.2M80.1,-66.5H82M83.8,-66.5H89.4M90.3,-66.5H91.3M92.1,-66.5H100.6M-118,-67.4H-117M-116.1,-67.4H-114.2M-112.4,-67.4H-111.5M-110.6,-67.4H-109.6M-96.8,-67.4H-94.9M-94.1,-67.4H-91.3M-90.4,-67.4H-89.4M-87.7,-67.4H-84.8M5,-67.4H7.8M47.2,-67.4H56.5M57.3,-67.4H72.1M72.9,-67.4H73.9M74.7,-67.4H75.7M78.4,-67.4H86.8M87.6,-67.4H96.8M-119.5,-68.3H-118.6M-117.7,-68.3H-115.8M-101.4,-68.3H-100.4M-95.9,-68.3H-94M-92.3,-68.3H-88.6M6.8,-68.3H8.7M26.8,-68.3H27.8M40.4,-68.3H41.4M44.9,-68.3H46.8M47.7,-68.3H48.7M49.5,-68.3H51.4M52.2,-68.3H55M55.8,-68.3H57.7M60.4,-68.3H66.8M72.2,-68.3H91.4M-120.2,-69.2H-119.2M-117.5,-69.2H-116.5M-108.5,-69.2H-107.5M-101.3,-69.2H-94.9M7.6,-69.2H8.6M24.7,-69.2H25.7M28.3,-69.2H29.3M34.6,-69.2H36.5M37.3,-69.2H41M41.8,-69.2H45.5M46.3,-69.2H55.4M-119.8,-70.1H-116.2M-109.2,-70.1H-106.4M-102.9,-70.1H-97.5M17.3,-70.1H18.3M24.5,-70.1H29M33.4,-70.1H39.7M40.5,-70.1H42.3M44.9,-70.1H46.8M47.6,-70.1H51.3M-118.6,-71H-115M-114.2,-71H-113.2M-112.4,-71H-111.5M-109.8,-71H-106.2M-104.5,-71H-103.5M15.4,-71H25.2M26.8,-71H28.7M31.3,-71H33.1M34.8,-71H35.7M37.4,-71H38.4M40.1,-71H44.6M-116.5,-71.8H-114.7M-113.9,-71.8H-106.8M10,-71.8H10.9M14.4,-71.8H20.5M10.7,-72.7H12.6M15.1,-72.7H16M14,-73.5H15"/>
<path stroke="#18C0FA" d="M-61.1,52.2H-60M-62.5,51.2H-61.4M-62.9,50.2H-61.8M141,50.2H143.2M140.7,49.2H141.9M-61.8,47.2H-60.7M147.7,47.2H148.9M-62.2,46.2H-61M124.7,46.2H125.9M128.7,45.2H129.8M-62.8,44.2H-61.6M128.4,42.2H129.5M124.5,41.1H125.7M131.1,39.1H132.3M-65.6,38.1H-64.4M-65.9,37.1H-64.7M105.2,37.1H106.4M133.3,37.1H135.6M-49.2,36.1H-48M103.3,36.1H104.5M105.5,36.1H106.8M-51.6,35.1H-49.3M103.7,35.1H104.9M-52.9,34H-51.7M25.7,32H26.9M137.8,32H139.1M140.1,32H141.3M-54.5,31H-53.3M25.8,31H27M29.2,31H30.4M-61.6,30H-59.2M-54.7,30H-53.5M25.8,30H27.1M140.9,30H142.1M-54.8,29H-53.6M27.1,29H28.3M140.1,29H142.5M-59.6,27.9H-58.3M26,27.9H27.2M139.3,27.9H140.5M-62,26.9H-60.8M-59.7,26.9H-58.5M-62.1,25.9H-60.9M-56.3,25.9H-55.1M-62.3,24.9H-59.9M-57.6,24.9H-56.4M42.4,24.9H44.8M140.1,24.9H141.3M-63.5,23.9H-61.1M-58.9,23.9H-57.6M-56.5,23.9H-54.1M41.3,23.9H42.6M43.6,23.9H44.9M-63.6,22.9H-62.4M-55.5,22.9H-54.2M43.7,22.9H45M-63.7,21.8H-62.5M32.1,21.8H33.4M43.8,21.8H45M-63.8,20.8H-61.4M-42.8,20.8H-39.2M43.9,20.8H45.1M-62.8,19.8H-61.5M-55.7,19.8H-54.5M43.9,19.8H45.2M136.6,19.8H137.8M-65.2,18.8H-59.3M-55.8,18.8H-54.6M-42.9,18.8H-41.7M-40.6,18.8H-39.3M32.3,18.8H33.5M44,18.8H45.3M134.4,18.8H135.7M-67.7,17.8H-65.2M-59.4,17.8H-58.2M42.9,17.8H44.1M-71.3,16.8H-68.9M46.5,16.8H47.7M134.8,16.8H136.1M-71.4,15.8H-69M33.6,15.8H34.8M35.9,15.8H37.2M46.5,15.8H47.8M135,15.8H136.3M-72.7,14.7H-70.2M-44.3,14.7H-43.1M24.2,14.7H27.8M33.6,14.7H34.9M-44.4,13.7H-43.1M-39.6,13.7H-38.4M20.6,13.7H21.9M27.7,13.7H29M33.6,13.7H36.1M45.5,13.7H46.7M123.5,13.7H124.7M125.8,13.7H128.3M12.4,12.7H14.8M15.9,12.7H17.2M18.3,12.7H19.6M20.7,12.7H23.1M27.8,12.7H29M34.9,12.7H36.1M-45.6,11.7H-43.2M-39.7,11.7H-38.4M12.4,11.7H13.7M23.1,11.7H25.5M26.6,11.7H27.9M-45.7,10.7H-44.4M12.4,10.7H13.7M23.1,10.7H27.9M-44.5,9.7H-43.3M-41,9.7H-38.5M27.8,9.7H30.3M-44.6,8.6H-43.3M-41,8.6H-39.7M12.4,8.6H13.7M-43.4,7.6H-40.9M13.6,7.6H14.9M27.9,7.6H29.1M-41,6.6H-39.8M26.7,6.6H28M-43.4,5.6H-41M11.3,5.6H12.5M-42.3,4.6H-41M-41.1,3.6H-39.8M31.5,3.6H33.9M-43.5,2.5H-42.2M31.5,2.5H34M-43.5,1.5H-42.2M29.1,1.5H30.4M31.5,1.5H35.2M29.1,0.5H30.4M31.5,0.5H32.8M32.7,-0.5H34M27.9,-1.5H29.2M-6.6,-4.6H-5.3M6.5,-4.6H9M-6.6,-5.6H-5.3M-4.2,-5.6H0.6M7.7,-5.6H9M2.9,-6.6H4.2M8.9,-6.6H12.5M-76.6,-7.6H-75.4M-67.1,-7.6H-65.9M-4.2,-7.6H-2.9M-1.8,-7.6H0.6M2.9,-7.6H5.4M6.5,-7.6H8.9M-64.7,-9.7H-63.4M-13.7,-9.7H-12.4M-58.7,-10.7H-57.4M-10.1,-10.7H-8.8M94.2,-10.7H95.5M-67,-11.7H-62.1M-61,-11.7H-58.6M94.1,-11.7H95.4M96.5,-11.7H97.7M102.4,-11.7H103.7M-69.3,-12.7H-66.8M-65.7,-12.7H-64.4M71.5,-12.7H72.8M94,-12.7H95.3M93.9,-13.7H95.2M-86.8,-14.7H-85.6M91.5,-14.7H92.7M97.4,-14.7H98.6M-87.9,-15.8H-86.6M70.1,-15.8H71.4M97.1,-16.8H98.4M-91.2,-17.8H-88.8M97,-17.8H98.3M-94.6,-18.8H-93.3M-91.1,-18.8H-89.8M88.6,-18.8H89.9M91,-18.8H92.2M94.5,-18.8H95.8M96.9,-18.8H98.1M-92.1,-19.8H-90.8M87.3,-19.8H89.7M-90.8,-20.8H-89.5M-65,-20.8H-63.8M87.2,-20.8H88.4M-94.1,-21.8H-91.7M-84.8,-21.8H-81.2M-71.9,-21.8H-70.7M-68.4,-21.8H-67.2M102.2,-21.8H103.5M-98.7,-22.9H-97.4M76.4,-22.9H77.6M102.1,-22.9H103.3M-79.8,-23.9H-77.4M85.6,-23.9H86.8M101.9,-23.9H105.5M106.6,-23.9H107.8M-99.5,-24.9H-97.1M95.9,-24.9H98.3M99.4,-24.9H103M-99.3,-25.9H-98.1M99.2,-25.9H101.6M-97.9,-26.9H-96.7M82.8,-26.9H84M85.1,-26.9H86.4M96.7,-26.9H99.1M-97.7,-27.9H-96.5M-75.8,-27.9H-73.4M80.3,-27.9H82.7M96.5,-27.9H97.7M-99.8,-29H-97.4M-75.6,-29H-74.4M76.7,-29H79M81.3,-29H82.5M90.5,-29H91.7M96.3,-29H98.7M-74.2,-30H-73M73,-30H74.2M83.4,-30H84.6M85.7,-30H86.9M90.3,-30H91.5M96,-30H98.4M109.8,-30H112.2M69.4,-31H70.6M78.6,-31H79.8M86.6,-31H87.8M90,-31H91.3M94.6,-31H97M109.5,-31H111.9M-79.6,-32H-77.2M66.9,-32H68.1M86.3,-32H87.6M88.6,-32H93.3M95.5,-32H96.7M110.4,-32H111.6M-82.7,-33H-81.5M-79.3,-33H-77M-74.8,-33H-73.5M65.5,-33H67.9M87.2,-33H88.4M90.6,-33H93M94.1,-33H97.6M99.8,-33H101M103.2,-33H104.4M-84.7,-34H-83.5M-82.5,-34H-77.8M-76.8,-34H-75.6M97.2,-34H99.5M102.9,-34H104.1M105.1,-34H106.4M108.5,-34H109.8M118.8,-34H120M-84.5,-35.1H-83.3M98,-35.1H99.2M104.8,-35.1H107.1M108.2,-35.1H109.4M-85.3,-36.1H-84.1M-76.3,-36.1H-73.9M105.5,-36.1H106.8M-85,-37.1H-83.8M-78.2,-37.1H-74.8M-73.7,-37.1H-72.5M114.2,-37.1H115.4M117.5,-37.1H118.7M-74.6,-38.1H-73.4M-71.2,-38.1H-70M-69,-38.1H-67.8M112.6,-38.1H114.9M119.3,-38.1H120.5M-85.4,-39.1H-83.1M-73.2,-39.1H-72M-68.7,-39.1H-67.5M-84,-40.1H-82.8M-74,-40.1H-72.8M46.1,-40.1H48.4M-84.7,-41.1H-83.5M-82.5,-41.1H-81.3M-74.8,-41.1H-73.6M-108.6,-42.2H-107.4M-76.6,-42.2H-73.3M-65.6,-42.2H-64.4M125.1,-42.2H126.2M-76.3,-43.2H-75.1M-74.1,-43.2H-72.9M-65.3,-43.2H-64.1M112.4,-43.2H113.6M-81.4,-44.2H-80.2M-75.9,-44.2H-72.6M26.7,-44.2H27.9M33.3,-44.2H35.5M108.6,-44.2H114.1M-78.8,-45.2H-76.5M-75.5,-45.2H-70M-66.8,-45.2H-65.7M-2.8,-45.2H-1.6M9.2,-45.2H11.4M35.3,-45.2H37.5M38.5,-45.2H41.9M108,-45.2H109.2M122.1,-45.2H123.3M124.3,-45.2H125.5M-79.4,-46.2H-76.1M-74,-46.2H-72.9M-69.7,-46.2H-68.6M-67.6,-46.2H-65.3M-63.2,-46.2H-59.9M-8.1,-46.2H-7M9.1,-46.2H11.4M15.6,-46.2H16.8M18.9,-46.2H20M34,-46.2H35.2M39.4,-46.2H40.6M107.5,-46.2H108.6M-68.3,-47.2H-67.1M-65,-47.2H-62.8M-57.5,-47.2H-54.2M-8.1,-47.2H-4.8M-3.8,-47.2H-2.6M9.1,-47.2H10.2M15.5,-47.2H16.7M106.9,-47.2H108M-69,-48.2H-67.8M-54,-48.2H-52.9M0.5,-48.2H1.6M15.5,-48.2H16.6M18.7,-48.2H19.8M107.3,-48.2H108.5M120.2,-48.2H121.3M-68.6,-49.2H-67.4M-52.6,-49.2H-51.5M6.9,-49.2H8M16.4,-49.2H19.7M105.7,-49.2H106.8M-76.6,-50.2H-75.5M-69.2,-50.2H-68.1M4.7,-50.2H6.9M8.9,-50.2H10.1M20.6,-50.2H22.8M106.1,-50.2H107.3M116.7,-50.2H117.8M-102.4,-51.2H-101.3M-78.3,-51.2H-77.1M-69.9,-51.2H-68.7M-48.9,-51.2H-47.7M5.7,-51.2H6.9M11,-51.2H13.2M16.2,-51.2H18.4M105.5,-51.2H106.6M116,-51.2H117.1M119.1,-51.2H120.3M-101.8,-52.2H-100.7M-79.9,-52.2H-77.7M-70.5,-52.2H-69.4M8.8,-52.2H13.1M16.1,-52.2H18.3M101.7,-52.2H102.8M104.9,-52.2H107M-88.7,-53.2H-87.6M-82.5,-53.2H-79.3M-48.3,-53.2H-46.1M-45.2,-53.2H-44M8.8,-53.2H9.9M12.9,-53.2H16.1M113.5,-53.2H114.6M-93.3,-54.1H-88M-87.1,-54.1H-86M-83,-54.1H-81.9M-68.6,-54.1H-67.4M-59.3,-54.1H-54M-2.6,-54.1H-1.5M8.7,-54.1H13.9M14.9,-54.1H17M20.1,-54.1H21.2M69.5,-54.1H70.6M117.9,-54.1H119M-97.8,-55.1H-95.6M-94.7,-55.1H-92.6M-88.5,-55.1H-87.4M-83.4,-55.1H-81.3M-61.9,-55.1H-60.8M-59.9,-55.1H-57.8M-56.8,-55.1H-55.7M-2.6,-55.1H-1.5M7.6,-55.1H8.7M9.7,-55.1H10.8M12.8,-55.1H15.9M68,-55.1H70.1M73.1,-55.1H74.2M96.7,-55.1H98.8M116.1,-55.1H117.2M-97.1,-56.1H-96M-84.9,-56.1H-82.8M-67.6,-56.1H-65.5M-63.5,-56.1H-62.4M-61.5,-56.1H-58.4M-56.4,-56.1H-53.3M-3.6,-56.1H-0.5M7.6,-56.1H8.7M11.6,-56.1H14.8M77.7,-56.1H80.8M82.8,-56.1H84.9M85.8,-56.1H87.9M95,-56.1H96M97,-56.1H98.1M106.1,-56.1H108.2M115.3,-56.1H116.4M-85.3,-57.1H-84.2M-67.1,-57.1H-66M-62.1,-57.1H-61M67,-57.1H68.1M72.1,-57.1H77.2M87.2,-57.1H88.3M94.3,-57.1H95.3M96.3,-57.1H97.4M105.3,-57.1H106.4M-67.6,-58H-65.5M10.5,-58H12.6M13.5,-58H14.6M68.5,-58H69.6M70.5,-58H71.6M72.5,-58H73.6M86.5,-58H88.6M93.5,-58H95.6M127.6,-58H128.7M-70.1,-59H-69M-67.1,-59H-66M-2.5,-59H-1.4M9.4,-59H11.5M14.4,-59H15.4M66,-59H67.1M73.9,-59H75M86.9,-59H88.9M92.8,-59H93.9M96.8,-59H97.9M99.8,-59H101.8M124.6,-59H128.6M-102,-60H-100.9M-83.3,-60H-82.2M-75.4,-60H-68.4M9.3,-60H10.4M17.2,-60H18.3M20.2,-60H21.2M28,-60H30.1M32,-60H34M38.9,-60H40.9M41.8,-60H42.9M44.8,-60H45.9M64.5,-60H65.6M66.5,-60H67.5M86.2,-60H87.2M92.1,-60H93.1M94,-60H95.1M123.6,-60H124.7M-105.1,-60.9H-104M-103.1,-60.9H-101.1M-80.7,-60.9H-79.6M-73.8,-60.9H-68.8M25.9,-60.9H27.9M34.6,-60.9H35.7M39.5,-60.9H40.6M41.5,-60.9H42.5M55.2,-60.9H56.2M63,-60.9H65M79.6,-60.9H80.7M81.5,-60.9H86.5M91.3,-60.9H92.4M124.5,-60.9H125.6M-104.2,-61.9H-102.2M-101.3,-61.9H-100.2M-81.9,-61.9H-80.9M-80,-61.9H-78.9M-78,-61.9H-77M-76.1,-61.9H-73.1M48.9,-61.9H49.9M52.8,-61.9H53.8M55.7,-61.9H57.7M61.5,-61.9H64.5M78.9,-61.9H80.9M82.8,-61.9H87.7M88.6,-61.9H92.6M122.5,-61.9H124.5M-104.3,-62.8H-100.3M-83.1,-62.8H-81.1M-80.3,-62.8H-77.3M-76.4,-62.8H-75.4M8.1,-62.8H9.2M20.6,-62.8H21.7M22.5,-62.8H23.6M52.3,-62.8H53.4M57.1,-62.8H59.1M61,-62.8H63M80.2,-62.8H81.2M83.1,-62.8H84.1M85.9,-62.8H92.7M99.4,-62.8H100.4M121.5,-62.8H122.5M-104.3,-63.7H-103.3M-85.3,-63.7H-83.3M-82.4,-63.7H-77.6M21.4,-63.7H22.4M56.6,-63.7H61.5M77.6,-63.7H78.6M82.3,-63.7H86.2M91.9,-63.7H92.9M95.7,-63.7H96.7M98.5,-63.7H101.5M-105.3,-64.7H-104.2M-99.6,-64.7H-98.6M-90.2,-64.7H-89.1M-87.3,-64.7H-84.4M-83.6,-64.7H-82.5M-81.7,-64.7H-80.6M-79.8,-64.7H-78.8M44.8,-64.7H45.8M46.7,-64.7H47.7M53.3,-64.7H54.3M55.2,-64.7H56.2M58.9,-64.7H61.9M62.7,-64.7H63.7M75,-64.7H77M89.1,-64.7H93.9M98.6,-64.7H99.6M-105.2,-65.6H-104.2M-101.5,-65.6H-100.5M-98.7,-65.6H-96.7M-90.3,-65.6H-89.3M43.4,-65.6H44.5M45.3,-65.6H46.3M48.1,-65.6H52.9M53.7,-65.6H54.7M60.3,-65.6H64.1M72.4,-65.6H73.4M82.7,-65.6H84.7M88.3,-65.6H90.3M91.1,-65.6H94M-111.7,-66.5H-110.7M-109.8,-66.5H-107.9M-107,-66.5H-105.1M-104.3,-66.5H-103.3M-102.4,-66.5H-101.4M-97.8,-66.5H-96.8M-95.9,-66.5H-94M-93.1,-66.5H-91.2M41.2,-66.5H45M47.7,-66.5H49.6M51.4,-66.5H54.2M55.1,-66.5H56.1M61.6,-66.5H65.4M69.9,-66.5H71.8M81.9,-66.5H83.9M89.4,-66.5H90.4M91.2,-66.5H92.2M-117,-67.4H-116M-114.3,-67.4H-112.4M-111.5,-67.4H-110.5M-103.3,-67.4H-101.4M-100.5,-67.4H-99.5M-98.7,-67.4H-96.8M7.8,-67.4H8.8M41.7,-67.4H43.6M45.4,-67.4H47.3M86.7,-67.4H87.7M-115.9,-68.3H-114.9M-110.5,-68.3H-108.6M-105,-68.3H-104M-102.3,-68.3H-101.3M-97.7,-68.3H-95.8M22.2,-68.3H25M25.9,-68.3H26.8M28.6,-68.3H29.6M38.6,-68.3H40.5M41.3,-68.3H45M46.8,-68.3H47.7M48.6,-68.3H49.6M51.3,-68.3H52.3M-116.6,-69.2H-114.7M-103.1,-69.2H-101.2M8.5,-69.2H9.5M22,-69.2H24.8M29.2,-69.2H30.2M32.8,-69.2H34.7M36.4,-69.2H37.4M45.4,-69.2H46.4M-116.3,-70.1H-113.5M-106.5,-70.1H-102.8M8.4,-70.1H9.4M15.5,-70.1H16.5M18.2,-70.1H20.1M20.9,-70.1H24.5M28.9,-70.1H33.4M-115.1,-71H-114.1M-110.7,-71H-109.7M14.5,-71H15.5M28.6,-71H29.6M30.4,-71H31.3M10.9,-71.8H12.7M12.5,-72.7H15.1M12.3,-73.5H14.1"/>
<path stroke="#A0D4F5" d="M-61.5,51.2H-60.3M141.8,49.2H145.1M145.8,48.2H147M126.2,47.2H127.4M148.2,45.2H150.5M152.2,44.2H153.4M151.9,43.2H153.1M-65.9,41.1H-64.7M125.6,41.1H126.8M131.1,41.1H132.3M126.2,40.1H127.3M130.6,40.1H131.8M-65.4,39.1H-64.2M154.6,39.1H156.9M102.9,37.1H104.1M-48,36.1H-46.8M104.8,35.1H106M-51.8,34H-50.6M-53.1,33H-51.9M27.9,33H29.1M-53.2,32H-52M26.8,32H29.2M-60.3,31H-59.1M140.5,31H141.7M25.9,29H27.1M28.2,29H29.5M-60.7,27.9H-59.5M-55,27.9H-53.7M-60.9,26.9H-59.6M-59.9,24.9H-58.7M-55.3,24.9H-54M-61.2,23.9H-58.8M-57.7,23.9H-56.5M-62.5,22.9H-60.1M-57.8,22.9H-55.4M41.4,22.9H42.6M44.9,22.9H46.1M-62.6,21.8H-61.3M-57.9,21.8H-54.3M41.5,21.8H42.7M-61.5,20.8H-60.3M-56.8,20.8H-54.4M32.2,20.8H34.6M41.5,20.8H42.8M135.2,20.8H136.4M-61.6,19.8H-59.2M-56.9,19.8H-55.7M-40.5,19.8H-39.2M32.2,19.8H33.5M41.6,19.8H44M-59.3,18.8H-58.1M-57,18.8H-55.7M-54.7,18.8H-52.2M33.4,18.8H34.7M41.7,18.8H44.1M-65.3,17.8H-62.9M-60.6,17.8H-59.4M-58.3,17.8H-57M-55.9,17.8H-54.7M-53.6,17.8H-52.3M-44.1,17.8H-42.9M41.7,17.8H43M134.6,17.8H135.9M-53.6,16.8H-52.4M-44.2,16.8H-43M-38.3,16.8H-37.1M41.8,16.8H43M-69,15.8H-67.8M-53.7,15.8H-52.4M-45.4,15.8H-41.8M34.8,15.8H36M-70.3,14.7H-69M-43.1,14.7H-41.9M-40.8,14.7H-38.3M-73.9,13.7H-71.5M-45.5,13.7H-44.3M-43.2,13.7H-41.9M21.8,13.7H25.5M26.6,13.7H27.8M-74,12.7H-71.5M-43.2,12.7H-42M14.8,12.7H16M23,12.7H24.3M13.6,11.7H16M17.1,11.7H18.4M19.5,11.7H20.8M21.9,11.7H23.1M25.4,11.7H26.7M13.6,10.7H14.9M18.3,10.7H20.8M21.9,10.7H23.2M-45.7,9.7H-44.4M12.4,9.7H13.7M26.6,9.7H27.9M16,8.6H17.3M26.7,8.6H29.1M-44.6,7.6H-43.3M26.7,7.6H28M-77.9,6.6H-76.6M-44.6,6.6H-42.1M21.9,6.6H23.2M25.5,6.6H26.8M25.5,5.6H26.8M26.7,4.6H28M-42.3,3.6H-41M27.9,3.6H29.2M-42.3,2.5H-41M7.7,0.5H9M-76.8,-0.5H-75.6M7.7,-0.5H9M26.7,-2.5H28M-7.8,-4.6H-6.5M5.3,-4.6H6.6M12.4,-4.6H13.7M22,-4.6H23.2M-5.4,-5.6H-4.1M-66,-6.6H-63.5M-5.4,-6.6H-2.9M1.7,-6.6H3M7.7,-6.6H9M76.6,-6.6H77.9M-63.6,-7.6H-62.3M-6.6,-7.6H-5.3M0.6,-7.6H3M-63.5,-8.6H-62.3M-7.8,-8.6H-6.5M-67.1,-9.7H-64.6M-8.9,-9.7H-7.7M75.3,-9.7H76.5M-67,-10.7H-63.4M-61.1,-10.7H-58.6M-62.2,-11.7H-61M97.7,-11.7H98.9M96.4,-12.7H97.7M98.8,-12.7H100M101.1,-12.7H102.4M-84.6,-13.7H-83.3M96.3,-13.7H98.7M99.8,-13.7H101.1M-85.6,-14.7H-84.4M101.8,-16.8H103.1M-89.9,-18.8H-88.6M89.8,-18.8H91.1M-95.6,-19.8H-94.4M-90.9,-19.8H-89.7M-65.1,-19.8H-63.9M70.9,-19.8H72.2M89.7,-19.8H92.1M97.9,-19.8H100.3M101.4,-19.8H102.6M-95.5,-20.8H-94.2M-91.9,-20.8H-90.7M-82.6,-20.8H-81.3M98.9,-20.8H100.1M-70.8,-21.8H-69.5M87,-21.8H88.3M-75.3,-22.9H-74.1M98.6,-22.9H99.8M-72.9,-23.9H-71.6M97.2,-23.9H98.5M100.7,-23.9H102M105.4,-23.9H106.6M111.2,-23.9H112.5M92.4,-24.9H93.7M102.9,-24.9H105.3M106.4,-24.9H109.9M-98.1,-25.9H-96.9M85.3,-25.9H86.5M93.4,-25.9H95.8M98.1,-25.9H99.3M101.5,-25.9H102.8M-75.9,-26.9H-73.5M92.1,-26.9H93.3M100.2,-26.9H101.4M108.3,-26.9H110.7M82.6,-27.9H83.9M90.7,-27.9H94.3M95.3,-27.9H96.6M97.6,-27.9H100M108.1,-27.9H109.3M-76.7,-29H-75.5M-74.4,-29H-73.2M82.4,-29H83.7M98.6,-29H99.8M109,-29H110.2M-76.5,-30H-74.2M89.1,-30H90.4M93.7,-30H96.1M108.7,-30H109.9M-76.3,-31H-74M70.5,-31H72.9M77.4,-31H78.6M96.9,-31H98.1M-77.3,-32H-73.8M72.6,-32H75M87.5,-32H88.7M93.2,-32H95.6M102.4,-32H103.6M104.6,-32H105.9M-77,-33H-74.7M67.8,-33H70.2M92.9,-33H94.1M97.5,-33H98.7M105.5,-33H107.8M108.9,-33H111.3M-83.6,-34H-82.4M-77.9,-34H-76.7M-75.7,-34H-73.3M99.5,-34H100.7M-82.2,-35.1H-76.5M-75.4,-35.1H-71.9M107,-35.1H108.3M117.2,-35.1H118.5M-84.2,-36.1H-83M-80.8,-36.1H-79.6M-78.5,-36.1H-76.2M-74,-36.1H-70.5M-74.9,-37.1H-73.7M-72.6,-37.1H-69.2M118.7,-37.1H119.9M124.3,-37.1H125.5M-84.7,-38.1H-82.3M-81.3,-38.1H-76.7M-75.7,-38.1H-74.5M-73.5,-38.1H-72.3M-70.1,-38.1H-68.9M114.8,-38.1H116M124.9,-38.1H126.1M-78.7,-39.1H-77.6M-74.3,-39.1H-73.1M-69.8,-39.1H-68.6M112.2,-39.1H113.4M120,-39.1H121.2M124.4,-39.1H125.6M-78.4,-40.1H-77.2M-72.9,-40.1H-71.7M-70.6,-40.1H-69.5M45,-40.1H46.2M125,-40.1H126.2M-83.6,-41.1H-82.4M-81.4,-41.1H-80.2M-79.2,-41.1H-76.9M-82.1,-42.2H-81M-79.9,-42.2H-77.7M-80.7,-43.2H-79.5M-78.5,-43.2H-76.2M-73,-43.2H-71.8M-68.6,-43.2H-65.2M-106.5,-44.2H-105.3M-80.3,-44.2H-78M-77,-44.2H-75.8M-72.6,-44.2H-68.2M-67.2,-44.2H-66M27.8,-44.2H29M-105.9,-45.2H-104.8M-79.9,-45.2H-78.7M-76.6,-45.2H-75.4M-70.1,-45.2H-66.8M37.4,-45.2H38.6M109.1,-45.2H111.4M112.4,-45.2H113.5M123.2,-45.2H124.4M-76.2,-46.2H-74M-68.6,-46.2H-67.5M16.7,-46.2H18.9M38.3,-46.2H39.5M108.5,-46.2H110.8M115,-46.2H116.2M121.5,-46.2H122.7M-62.9,-47.2H-61.7M-4.9,-47.2H-3.7M16.6,-47.2H18.8M107.9,-47.2H110.2M112.2,-47.2H114.5M115.5,-47.2H116.6M-67.9,-48.2H-66.7M-65.8,-48.2H-64.6M16.5,-48.2H18.7M106.3,-48.2H107.4M114.8,-48.2H116M121.2,-48.2H122.4M-103.6,-49.2H-102.5M106.7,-49.2H107.9M-103,-50.2H-101.9M6.8,-50.2H8M10,-50.2H11.1M18.4,-50.2H20.6M-77.2,-51.2H-76.1M-75.1,-51.2H-74M-60.4,-51.2H-59.3M-46.8,-51.2H-45.6M6.8,-51.2H11.1M106.5,-51.2H107.7M-76.8,-52.2H-75.6M-73.6,-52.2H-72.5M-71.5,-52.2H-70.4M-48.6,-52.2H-47.4M-45.4,-52.2H-44.3M18.2,-52.2H21.4M102.8,-52.2H103.9M114.2,-52.2H115.4M-102.2,-53.2H-101.1M-79.4,-53.2H-78.3M-77.3,-53.2H-76.2M-70,-53.2H-68.9M-58.6,-53.2H-57.5M-46.2,-53.2H-45.1M9.8,-53.2H13M105.2,-53.2H108.4M117.7,-53.2H118.8M-81.9,-54.1H-77.7M-70.6,-54.1H-69.5M-61.3,-54.1H-59.2M71.6,-54.1H72.7M99.4,-54.1H101.5M105.6,-54.1H109.8M111.7,-54.1H112.9M-95.7,-55.1H-94.6M-92.6,-55.1H-91.5M-90.6,-55.1H-88.5M-87.5,-55.1H-86.4M-81.4,-55.1H-80.3M-65,-55.1H-61.9M-60.9,-55.1H-59.8M-57.9,-55.1H-56.7M70.1,-55.1H71.2M72.1,-55.1H73.2M74.1,-55.1H75.2M98.7,-55.1H99.8M-96,-56.1H-95M-86.9,-56.1H-84.8M-82.8,-56.1H-80.7M-64.6,-56.1H-63.5M-57.4,-56.1H-56.3M67.5,-56.1H68.6M72.6,-56.1H73.7M74.6,-56.1H75.7M84.8,-56.1H85.9M99,-56.1H100.1M104.1,-56.1H105.2M-99.4,-57.1H-97.3M-86.3,-57.1H-85.2M-84.2,-57.1H-83.2M-69.1,-57.1H-67M68,-57.1H70.1M71.1,-57.1H72.1M77.1,-57.1H81.2M85.2,-57.1H86.3M95.3,-57.1H96.4M104.3,-57.1H105.4M-85.6,-58H-83.5M-72.6,-58H-68.5M69.5,-58H70.6M71.5,-58H72.6M73.5,-58H75.6M76.5,-58H77.6M78.5,-58H79.6M95.5,-58H96.6M97.5,-58H98.6M100.5,-58H103.6M-73,-59H-70M67,-59H69.1M73,-59H74M74.9,-59H76M85.9,-59H86.9M93.8,-59H94.9M95.8,-59H96.9M98.8,-59H99.8M-84.3,-60H-83.2M-76.4,-60H-75.3M10.3,-60H11.4M12.3,-60H13.3M30,-60H32.1M43.8,-60H44.9M45.8,-60H47.8M65.5,-60H66.5M72.4,-60H74.4M75.3,-60H76.4M80.3,-60H82.3M85.2,-60H86.2M93.1,-60H94.1M124.6,-60H126.6M-82.6,-60.9H-80.6M-79.7,-60.9H-75.7M21,-60.9H22M27.8,-60.9H28.9M35.6,-60.9H39.6M40.5,-60.9H41.6M47.3,-60.9H48.4M64.9,-60.9H66M71.8,-60.9H74.8M78.6,-60.9H79.7M80.6,-60.9H81.6M122.6,-60.9H124.6M-102.3,-61.9H-101.2M-83.9,-61.9H-81.8M-80.9,-61.9H-79.9M-79,-61.9H-78M-77.1,-61.9H-76M8.2,-61.9H9.2M25.6,-61.9H26.7M47.9,-61.9H49M49.9,-61.9H52.8M53.7,-61.9H55.8M64.4,-61.9H65.4M77,-61.9H78M80.9,-61.9H81.9M121.6,-61.9H122.6M-100.4,-62.8H-99.4M-85.1,-62.8H-83.1M-81.2,-62.8H-80.2M19.7,-62.8H20.7M24.5,-62.8H25.5M47.5,-62.8H49.5M55.2,-62.8H56.2M62.9,-62.8H64.9M77.3,-62.8H80.3M-101.5,-63.7H-100.4M-99.5,-63.7H-98.5M-89.1,-63.7H-88M8.1,-63.7H9.1M22.3,-63.7H24.3M39.5,-63.7H40.5M46.1,-63.7H49.1M51.9,-63.7H52.9M55.7,-63.7H56.7M61.4,-63.7H66.2M69,-63.7H70M76.6,-63.7H77.6M-104.3,-64.7H-102.4M-100.5,-64.7H-99.5M-98.7,-64.7H-97.6M-92.1,-64.7H-91M-89.2,-64.7H-88.2M21.2,-64.7H23.2M24,-64.7H25M39.1,-64.7H41.1M47.6,-64.7H49.6M51.4,-64.7H53.4M54.2,-64.7H55.2M61.8,-64.7H62.8M63.7,-64.7H65.6M-104.3,-65.6H-102.4M-99.6,-65.6H-98.6M-96.8,-65.6H-91.1M41.6,-65.6H43.5M44.4,-65.6H45.4M47.2,-65.6H48.2M64,-65.6H66.9M69.6,-65.6H70.6M71.5,-65.6H72.5M-105.2,-66.5H-104.2M-103.3,-66.5H-102.3M-101.5,-66.5H-100.5M7.8,-66.5H8.8M45.8,-66.5H47.8M65.3,-66.5H70M-105.1,-67.4H-104.1M-101.4,-67.4H-100.4M-99.6,-67.4H-98.6M22.4,-67.4H23.4M24.3,-67.4H26.2M27.9,-67.4H28.9M37.1,-67.4H38.1M39,-67.4H41.8M43.5,-67.4H45.5M-114.1,-68.3H-113.1M-111.4,-68.3H-110.4M-103.2,-68.3H-102.2M-100.5,-68.3H-97.6M25,-68.3H25.9M27.7,-68.3H28.7M34.9,-68.3H38.7M-114.8,-69.2H-113.8M-110.3,-69.2H-108.4M-107.6,-69.2H-105.7M-104,-69.2H-103M9.4,-69.2H10.4M20.2,-69.2H21.2M30.1,-69.2H32M-113.6,-70.1H-111.7M-110,-70.1H-109.1M9.3,-70.1H10.3M14.7,-70.1H15.6M16.4,-70.1H17.4M-113.3,-71H-112.4M-111.6,-71H-110.6M9.2,-71H10.2M11,-71H11.9M13.6,-71H14.6M13.5,-71.8H14.4"/>
<path stroke="#FFF580" d="M-61.8,50.2H-60.7M142.6,48.2H143.8M146.3,46.2H147.5M125.4,45.2H126.6M153.3,44.2H154.5M153,43.2H154.2M-65.6,42.2H-64.4M152.6,42.2H153.8M130,41.1H131.2M154.4,41.1H155.6M156.6,41.1H157.8M-65.1,40.1H-63.9M127.3,40.1H128.5M132.8,40.1H134M132.8,38.1H135.1M-49.3,35.1H-48.1M138.1,34H139.3M-53.4,31H-52.2M26.9,31H28.2M28.1,30H29.4M-60.6,29H-59.4M-55.1,26.9H-53.8M-61,25.9H-59.7M-55.2,25.9H-53.9M-41.3,24.9H-37.8M-54.2,23.9H-53M-39.1,23.9H-37.8M42.5,23.9H43.7M-60.1,22.9H-57.7M-39.1,22.9H-36.7M42.6,22.9H43.8M-61.4,21.8H-57.8M-41.5,21.8H-39.1M-38,21.8H-36.8M42.6,21.8H43.9M-54.5,20.8H-53.2M42.7,20.8H43.9M-59.3,19.8H-56.8M-54.6,19.8H-53.3M-42.8,19.8H-41.6M33.4,19.8H34.6M135.4,19.8H136.7M-58.2,18.8H-56.9M-38.2,18.8H-37M136.8,18.8H138M-63,17.8H-60.5M-57.1,17.8H-55.8M-40.6,17.8H-39.4M44.1,17.8H45.3M46.4,17.8H47.7M-67.8,16.8H-66.5M-58.3,16.8H-57.1M-54.8,16.8H-53.6M-52.5,16.8H-48.8M-45.4,16.8H-44.1M-54.9,15.8H-53.6M-52.5,15.8H-51.3M-39.5,15.8H-38.3M136.2,15.8H137.4M-52.6,14.7H-51.3M-45.5,14.7H-44.2M45.4,14.7H46.7M-71.6,13.7H-70.3M124.7,13.7H125.9M-44.4,12.7H-43.1M26.6,12.7H27.8M-48,11.7H-45.6M15.9,11.7H17.2M-74.1,10.7H-72.9M-48,10.7H-45.6M20.7,10.7H22M-75.4,9.7H-74.1M-46.9,9.7H-45.6M13.6,9.7H14.9M16,9.7H17.2M20.7,9.7H22M24.3,9.7H26.7M-76.6,8.6H-75.3M23.1,8.6H24.4M14.8,7.6H18.4M25.5,7.6H26.8M14.8,6.6H16.1M20.8,6.6H22M23.1,6.6H25.6M-77.9,5.6H-76.6M-44.6,5.6H-43.4M-44.6,4.6H-42.2M-43.5,3.6H-42.2M-78,1.5H-76.7M7.7,1.5H9M24.3,-3.6H25.6M13.6,-4.6H14.9M-7.8,-5.6H-6.5M4.1,-5.6H5.4M6.5,-5.6H7.8M8.9,-5.6H10.1M11.3,-5.6H12.5M-6.6,-6.6H-5.3M-0.6,-6.6H1.8M4.1,-6.6H5.4M6.5,-6.6H7.8M75.3,-8.6H76.6M-74.2,-9.7H-72.9M-68.2,-9.7H-67M-63.5,-9.7H-62.2M-12.5,-9.7H-11.2M-10.1,-9.7H-8.9M-63.5,-10.7H-61M-69.3,-11.7H-66.9M-70.4,-12.7H-69.2M102.3,-12.7H103.6M71.5,-13.7H72.7M102.2,-13.7H103.5M98.6,-14.7H99.8M71.3,-15.8H72.6M98.4,-15.8H99.7M102,-15.8H103.2M-79.5,-16.8H-78.3M-88.8,-17.8H-87.6M71.1,-17.8H72.4M71,-18.8H72.3M93.3,-18.8H94.6M100.4,-18.8H101.6M-94.4,-19.8H-92M-83.9,-19.8H-82.6M-69.8,-19.8H-68.6M95.5,-19.8H98M-94.3,-20.8H-91.9M-83.8,-20.8H-82.5M88.4,-20.8H89.6M90.7,-20.8H91.9M103.6,-20.8H104.8M98.7,-21.8H100M-71.8,-22.9H-69.4M-78.5,-24.9H-76.1M-75.1,-24.9H-73.8M85.4,-24.9H86.7M91.3,-24.9H92.5M93.6,-24.9H96M105.2,-24.9H106.5M91.1,-25.9H92.3M102.7,-25.9H103.9M105,-25.9H106.3M84,-26.9H85.2M90.9,-26.9H92.1M93.2,-26.9H94.5M99,-26.9H100.3M107.1,-26.9H108.4M111.8,-26.9H113M100,-27.9H101.2M79,-29H80.2M91.7,-29H92.9M94,-29H95.2M99.7,-29H103.3M84.5,-30H85.7M86.8,-30H88.1M91.4,-30H93.8M88.9,-31H90.1M91.2,-31H94.7M99.2,-31H101.6M68,-32H69.3M71.5,-32H72.7M96.6,-32H99M100.1,-32H102.4M108.1,-32H110.4M107.8,-33H109M106.3,-34H108.6M-83.3,-35.1H-82.1M-76.5,-35.1H-75.3M-83,-36.1H-81.8M-79.7,-36.1H-78.4M120.2,-36.1H121.4M122.5,-36.1H123.7M-83.9,-37.1H-78.2M119.8,-37.1H121M-82.4,-38.1H-81.2M-76.8,-38.1H-75.6M-72.3,-38.1H-71.1M-83.2,-39.1H-82M-81,-39.1H-78.7M-77.6,-39.1H-76.4M-75.4,-39.1H-74.2M-72,-39.1H-69.7M114.4,-39.1H115.6M-82.9,-40.1H-81.7M-79.5,-40.1H-78.3M-76.2,-40.1H-73.9M-69.5,-40.1H-67.2M120.6,-40.1H121.8M-80.3,-41.1H-79.1M-77,-41.1H-74.7M-73.7,-41.1H-72.5M-70.3,-41.1H-69.2M-68.1,-41.1H-65.8M113.4,-41.1H114.6M-81,-42.2H-79.9M-77.7,-42.2H-76.6M-73.3,-42.2H-72.2M-67.8,-42.2H-65.5M-109.2,-43.2H-108M-79.6,-43.2H-78.4M-71.9,-43.2H-70.7M110.2,-43.2H112.5M122.3,-43.2H124.5M-78.1,-44.2H-76.9M-68.3,-44.2H-67.1M28.9,-44.2H33.3M111.3,-45.2H112.4M113.5,-45.2H114.6M-105.4,-46.2H-104.2M-2.7,-46.2H-0.5M37.2,-46.2H38.4M110.7,-46.2H115.1M124.7,-46.2H125.9M-104.8,-47.2H-103.6M-61.8,-47.2H-58.5M110.1,-47.2H112.3M114.4,-47.2H115.5M120.8,-47.2H122M-66.8,-48.2H-65.7M-64.7,-48.2H-62.5M-57.2,-48.2H-56.1M-55.1,-48.2H-53.9M115.9,-48.2H117M122.3,-48.2H123.5M-63.3,-49.2H-62.1M-53.7,-49.2H-52.6M116.3,-49.2H117.4M-68.2,-50.2H-66M7.9,-50.2H9M107.2,-50.2H108.3M-76.2,-51.2H-75M-68.8,-51.2H-67.7M-61.5,-51.2H-60.3M18.3,-51.2H19.5M20.4,-51.2H21.6M-75.7,-52.2H-73.5M-69.4,-52.2H-68.3M-60.1,-52.2H-58.9M-47.5,-52.2H-46.4M103.8,-52.2H104.9M106.9,-52.2H108.1M118.4,-52.2H119.5M-78.3,-53.2H-77.2M-73.2,-53.2H-72M-71.1,-53.2H-70M-69,-53.2H-67.9M-60.7,-53.2H-59.6M-57.6,-53.2H-56.5M101.1,-53.2H104.3M110.4,-53.2H112.6M-77.8,-54.1H-76.7M-67.5,-54.1H-66.4M-64.4,-54.1H-62.3M104.5,-54.1H105.6M110.7,-54.1H111.8M116.9,-54.1H118M-91.6,-55.1H-90.5M-76.3,-55.1H-75.2M-70.1,-55.1H-64.9M99.7,-55.1H101.9M105.9,-55.1H108M-95,-56.1H-93.9M-93,-56.1H-91.9M-91,-56.1H-89.9M-70.6,-56.1H-69.6M-68.6,-56.1H-67.5M73.6,-56.1H74.7M102.1,-56.1H103.2M-97.4,-57.1H-96.3M-87.3,-57.1H-86.2M-82.2,-57.1H-81.1M-70.1,-57.1H-69M70.1,-57.1H71.1M81.1,-57.1H82.2M84.2,-57.1H85.3M86.2,-57.1H87.3M98.3,-57.1H99.4M102.3,-57.1H104.4M-80.6,-58H-79.5M-73.6,-58H-72.5M75.5,-58H76.6M80.5,-58H81.6M83.5,-58H84.6M96.5,-58H97.6M99.5,-58H100.6M-98.9,-59H-97.8M-86.9,-59H-82.9M-82,-59H-80.9M-78,-59H-76.9M-76,-59H-73M69,-59H73M75.9,-59H81M94.8,-59H95.9M97.8,-59H98.9M-82.3,-60H-80.3M-78.4,-60H-76.3M11.3,-60H12.4M18.2,-60H19.3M67.4,-60H69.5M74.3,-60H75.4M76.3,-60H77.4M78.3,-60H79.3M82.2,-60H85.3M-101.2,-60.9H-100.1M-83.6,-60.9H-82.5M9.2,-60.9H11.3M16.1,-60.9H17.1M28.8,-60.9H29.8M32.7,-60.9H34.7M42.5,-60.9H43.5M44.4,-60.9H45.5M46.4,-60.9H47.4M65.9,-60.9H67M74.7,-60.9H76.7M77.6,-60.9H78.7M26.6,-61.9H28.6M33.4,-61.9H34.4M37.3,-61.9H38.3M40.2,-61.9H41.2M42.1,-61.9H43.2M66.3,-61.9H67.4M78,-61.9H79M-99.5,-62.8H-98.4M18.7,-62.8H19.7M39.8,-62.8H40.9M49.4,-62.8H52.4M56.2,-62.8H57.2M64.8,-62.8H65.8M68.6,-62.8H69.7M76.3,-62.8H77.4M-103.4,-63.7H-101.4M-90,-63.7H-89M-88.1,-63.7H-85.2M17.6,-63.7H18.6M24.2,-63.7H25.3M26.1,-63.7H27.2M49,-63.7H50M50.9,-63.7H51.9M52.8,-63.7H53.8M67.1,-63.7H68.1M72.8,-63.7H74.8M75.7,-63.7H76.7M-102.4,-64.7H-100.5M-97.7,-64.7H-95.7M-93,-64.7H-92M-91.1,-64.7H-90.1M8,-64.7H9M15.5,-64.7H16.6M20.3,-64.7H21.3M23.1,-64.7H24.1M42.9,-64.7H44.9M45.7,-64.7H46.8M49.5,-64.7H51.5M66.5,-64.7H68.5M69.3,-64.7H70.3M71.2,-64.7H72.2M73.1,-64.7H75.1M-102.4,-65.6H-101.4M-100.6,-65.6H-99.6M7.9,-65.6H8.9M15.4,-65.6H16.4M21,-65.6H23.9M37.8,-65.6H38.8M39.7,-65.6H41.7M46.2,-65.6H47.3M-108,-66.5H-107M-100.6,-66.5H-98.6M21.7,-66.5H23.7M24.5,-66.5H25.5M37.5,-66.5H41.3M44.9,-66.5H45.9M-108.8,-67.4H-107.8M-106,-67.4H-105M-104.2,-67.4H-103.2M8.7,-67.4H9.7M20.6,-67.4H21.6M23.4,-67.4H24.4M26.1,-67.4H28M34.4,-67.4H35.4M36.2,-67.4H37.2M38,-67.4H39M-115,-68.3H-114M-113.2,-68.3H-111.3M-105.9,-68.3H-104.9M-104.1,-68.3H-103.1M8.6,-68.3H9.6M15,-68.3H15.9M29.5,-68.3H30.5M33.1,-68.3H35M-113,-69.2H-112M-111.2,-69.2H-110.2M-104.9,-69.2H-103.9M14.8,-69.2H15.8M19.3,-69.2H20.3M21.1,-69.2H22.1M31.9,-69.2H32.9M-110.9,-70.1H-110M10.2,-70.1H11.2M20,-70.1H21M10.1,-71H11.1M12.6,-71.8H13.6"/>
<path stroke="#FFC018" d="M-63.3,49.2H-61.1M-63.6,48.2H-62.5M144.7,48.2H145.9M125.1,47.2H126.3M144.5,47.2H145.6M146.6,47.2H147.8M-64.3,46.2H-62.1M-64.7,45.2H-63.5M127.1,44.2H129.4M-64.2,43.2H-63M154.8,42.2H157.1M-64.8,41.1H-63.6M126.7,41.1H127.9M128.9,41.1H130.1M-66.2,40.1H-65M128.4,40.1H130.7M131.7,40.1H132.9M156.2,40.1H157.4M132.3,39.1H134.6M104,37.1H105.2M137.6,35.1H138.9M-51.9,33H-50.7M138.6,33H139.8M28.1,31H29.3M-53.5,30H-52.3M27,30H28.2M139.7,30H141M-53.7,29H-52.4M-54.3,22.9H-53.1M-54.4,21.8H-53.1M-42.7,21.8H-41.5M-60.3,20.8H-56.7M-38.1,20.8H-36.8M-45.3,18.8H-42.8M46.4,18.8H47.6M-52.4,17.8H-49.9M-38.3,17.8H-37M-66.6,16.8H-63M-60.7,16.8H-58.3M-56,16.8H-54.7M-40.7,16.8H-39.4M-67.9,15.8H-66.6M-59.6,15.8H-58.3M-50.2,15.8H-48.9M-46.6,15.8H-45.4M-40.7,15.8H-39.5M44.2,15.8H45.4M-53.8,14.7H-52.5M-51.4,14.7H-50.1M-46.7,14.7H-45.4M25.4,13.7H26.6M-50.3,12.7H-49.1M-45.6,12.7H-44.3M25.4,12.7H26.7M-74.1,11.7H-71.6M-49.2,11.7H-47.9M-75.3,10.7H-74M-49.2,10.7H-48M14.8,10.7H18.4M-48.1,9.7H-46.8M14.8,9.7H16.1M19.5,9.7H20.8M21.9,9.7H24.4M-75.4,8.6H-74.1M-45.7,8.6H-44.5M13.6,8.6H16.1M17.2,8.6H18.4M21.9,8.6H23.2M25.5,8.6H26.7M-76.6,7.6H-75.4M20.7,7.6H25.6M16,6.6H18.5M12.4,5.6H13.7M24.3,5.6H25.6M-77.9,4.6H-76.7M-76.8,2.5H-75.5M27.9,2.5H29.2M-76.8,1.5H-75.5M-44.7,1.5H-43.4M-76.8,0.5H-75.6M-45.9,0.5H-44.6M27.9,0.5H29.2M27.9,-0.5H29.2M14.8,-4.6H16.1M5.3,-5.6H6.6M10.1,-5.6H11.3M-67.2,-6.6H-65.9M-7.8,-6.6H-6.5M-1.8,-6.6H-0.6M5.3,-6.6H6.6M-68.3,-7.6H-67.1M-12.5,-7.6H-11.2M-80.2,-8.6H-78.9M93.1,-8.6H94.4M-81.3,-9.7H-78.8M-11.3,-9.7H-10M93.1,-9.7H94.3M-72.9,-10.7H-71.7M-68.2,-10.7H-66.9M-71.7,-11.7H-70.4M97.6,-12.7H98.8M98.7,-13.7H99.9M101,-13.7H102.3M-84.5,-14.7H-83.2M70.2,-14.7H71.5M-86.7,-15.8H-85.5M-87.8,-16.8H-86.5M71.2,-16.8H72.5M-87.7,-17.8H-86.4M100.5,-17.8H101.8M-86.4,-18.8H-85.1M-89.7,-19.8H-88.5M-85.1,-19.8H-83.8M-82.7,-19.8H-81.5M-67.5,-19.8H-65M94.4,-19.8H95.6M-86.1,-20.8H-83.7M-69.7,-20.8H-68.5M89.5,-20.8H90.8M-74.1,-22.9H-71.7M97.4,-22.9H98.7M-77.5,-23.9H-76.3M-75.2,-23.9H-72.8M91.4,-23.9H92.7M-76.2,-24.9H-75M111,-24.9H112.3M107.3,-25.9H109.7M110.8,-25.9H112.1M94.4,-26.9H95.6M101.3,-26.9H102.6M103.6,-26.9H104.9M94.2,-27.9H95.4M102.3,-27.9H108.1M80.1,-29H81.4M89.3,-29H90.6M92.8,-29H94M103.2,-29H104.4M107.8,-29H109M79.9,-30H81.1M98.3,-30H100.7M76.3,-31H77.5M87.7,-31H89M98.1,-31H99.3M101.5,-31H102.7M104.9,-31H106.2M108.4,-31H109.6M69.2,-32H71.5M98.9,-32H100.2M103.5,-32H104.7M106.9,-32H108.2M98.6,-33H99.8M-81.9,-36.1H-80.7M116.8,-36.1H118M121.4,-36.1H122.6M-82.1,-39.1H-80.9M-76.5,-39.1H-75.3M113.3,-39.1H114.5M-81.8,-40.1H-79.5M-77.3,-40.1H-76.1M-71.8,-40.1H-70.6M113.9,-40.1H115.1M-72.6,-41.1H-71.4M-69.2,-41.1H-68M111.2,-41.1H112.4M124.5,-41.1H125.7M-68.9,-42.2H-67.7M110.7,-42.2H111.9M122.8,-42.2H124M-70.8,-43.2H-68.5M-7.1,-46.2H-5.9M-4.9,-46.2H-2.7M35.1,-46.2H37.3M123.7,-46.2H124.8M-104.2,-48.2H-103.1M-62.5,-48.2H-60.3M-56.1,-48.2H-55M110.6,-48.2H111.7M113.8,-48.2H114.9M-67.5,-49.2H-66.4M-65.4,-49.2H-63.2M-62.2,-49.2H-61.1M107.8,-49.2H110M113.1,-49.2H116.4M-66.1,-50.2H-64.9M-61.8,-50.2H-60.7M112.5,-50.2H113.6M115.6,-50.2H116.8M-67.8,-51.2H-66.6M-62.5,-51.2H-61.4M-47.8,-51.2H-46.7M19.4,-51.2H20.5M107.6,-51.2H109.8M-77.8,-52.2H-76.7M-62.1,-52.2H-60M-59,-52.2H-57.9M-54.8,-52.2H-53.7M-46.5,-52.2H-45.4M108,-52.2H112.2M-76.3,-53.2H-75.2M-72.1,-53.2H-71M-59.7,-53.2H-58.6M-56.6,-53.2H-55.4M104.2,-53.2H105.3M108.3,-53.2H110.5M-105.6,-54.1H-104.5M-69.6,-54.1H-68.5M-65.5,-54.1H-64.4M-62.4,-54.1H-61.3M101.4,-54.1H102.6M-104.9,-55.1H-103.8M-80.4,-55.1H-76.2M71.1,-55.1H72.2M101.8,-55.1H102.9M103.8,-55.1H105.9M-94,-56.1H-92.9M-92,-56.1H-90.9M-87.9,-56.1H-86.8M-80.8,-56.1H-79.7M-74.7,-56.1H-73.6M-69.6,-56.1H-68.5M68.5,-56.1H69.6M70.6,-56.1H72.7M100,-56.1H102.1M103.1,-56.1H104.2M105.1,-56.1H106.2M-96.4,-57.1H-94.3M-92.3,-57.1H-90.2M-88.3,-57.1H-87.2M-83.2,-57.1H-82.2M-74.2,-57.1H-70.1M82.2,-57.1H84.2M99.3,-57.1H102.4M-99.6,-58H-96.5M-87.6,-58H-85.5M-83.6,-58H-82.5M-81.6,-58H-80.5M77.5,-58H78.6M79.5,-58H80.6M84.5,-58H86.6M98.5,-58H99.6M-97.9,-59H-95.8M-87.9,-59H-86.9M-83,-59H-81.9M-79,-59H-77.9M-77,-59H-75.9M80.9,-59H83M83.9,-59H85.9M-97.1,-60H-96M-86.2,-60H-85.2M-79.3,-60H-78.3M19.2,-60H20.2M70.4,-60H72.4M79.3,-60H80.3M-100.2,-60.9H-99.1M11.2,-60.9H13.2M17.1,-60.9H18.1M20,-60.9H21M29.8,-60.9H32.8M43.4,-60.9H44.5M45.4,-60.9H46.5M66.9,-60.9H67.9M69.8,-60.9H71.9M76.7,-60.9H77.7M-100.3,-61.9H-99.3M-84.8,-61.9H-83.8M9.2,-61.9H10.2M16.9,-61.9H18M20.8,-61.9H21.8M31.5,-61.9H32.5M39.2,-61.9H40.3M41.1,-61.9H42.2M43.1,-61.9H44.1M45,-61.9H46.1M65.4,-61.9H66.4M68.3,-61.9H69.3M70.2,-61.9H71.3M74.1,-61.9H77.1M-87,-62.8H-85M9.1,-62.8H10.1M17.7,-62.8H18.8M25.4,-62.8H27.4M28.3,-62.8H29.3M38.9,-62.8H39.9M40.8,-62.8H42.8M46.6,-62.8H47.6M53.3,-62.8H55.3M65.8,-62.8H66.8M69.6,-62.8H72.6M74.4,-62.8H75.5M-98.6,-63.7H-97.6M-93.8,-63.7H-92.8M-91.9,-63.7H-90.9M9,-63.7H10M13.8,-63.7H14.8M16.6,-63.7H17.7M19.5,-63.7H21.5M25.2,-63.7H26.2M37.6,-63.7H39.6M40.4,-63.7H42.4M44.2,-63.7H45.3M50,-63.7H51M53.8,-63.7H55.7M68,-63.7H69.1M71.9,-63.7H72.9M74.7,-63.7H75.7M8.9,-64.7H9.9M25,-64.7H26.9M37.2,-64.7H38.3M65.5,-64.7H66.6M68.4,-64.7H69.4M70.3,-64.7H71.3M12.6,-65.6H13.6M23.8,-65.6H25.8M26.6,-65.6H27.6M36.9,-65.6H37.9M38.8,-65.6H39.8M66.8,-65.6H69.7M70.6,-65.6H71.6M15.2,-66.5H16.3M20.8,-66.5H21.8M23.6,-66.5H24.6M25.4,-66.5H26.4M27.3,-66.5H28.3M29.1,-66.5H30.1M-109.7,-67.4H-108.7M-106.9,-67.4H-105.9M21.5,-67.4H22.5M28.9,-67.4H30.8M35.3,-67.4H36.3M-108.6,-68.3H-107.6M-106.8,-68.3H-105.8M17.7,-68.3H18.7M20.4,-68.3H22.3M30.4,-68.3H33.2M-113.9,-69.2H-112.9M-112.1,-69.2H-111.1M-105.8,-69.2H-104.8M13.9,-69.2H14.9M15.7,-69.2H19.4M-111.8,-70.1H-110.9M11.1,-70.1H12.1M13.8,-70.1H14.7M11.9,-71H13.7"/>
<path stroke="#FF7800" d="M-62.5,48.2H-61.4M143.7,48.2H144.8M-64,47.2H-62.8M147.4,46.2H148.6M-65,44.2H-62.7M-65.3,43.2H-64.1M-64.5,42.2H-63.3M127.8,41.1H129M155.1,40.1H156.3M104.4,36.1H105.6M-48.2,35.1H-47M-50.6,34H-47.1M139.4,31H140.6M-53.8,27.9H-52.6M-42.6,23.9H-41.3M-42.6,22.9H-41.4M-40.3,22.9H-39.1M-39.2,21.8H-37.9M45,21.8H46.2M-53.3,20.8H-52.1M-43.9,20.8H-42.7M-53.4,19.8H-52.1M-44,19.8H-42.8M-38.2,19.8H-36.9M-46.5,17.8H-44.1M137,17.8H138.2M-63.1,16.8H-60.6M-57.2,16.8H-55.9M-48.9,16.8H-45.3M-39.5,16.8H-38.2M44.1,16.8H45.4M-62,15.8H-60.7M-58.4,15.8H-57.2M-51.3,15.8H-50.1M-49,15.8H-46.5M-69.1,14.7H-67.9M-59.7,14.7H-57.2M-50.2,14.7H-49M-47.9,14.7H-46.6M44.2,14.7H45.5M-70.4,13.7H-69.1M-51.5,13.7H-47.8M-46.7,13.7H-45.5M-71.6,12.7H-70.4M-49.1,12.7H-45.5M24.2,12.7H25.5M-50.4,11.7H-49.1M-72.9,10.7H-71.7M-74.2,9.7H-72.9M17.2,9.7H19.6M20.7,8.6H22M24.3,8.6H25.6M-45.8,7.6H-44.5M18.4,7.6H19.6M-76.7,6.6H-75.4M-45.8,6.6H-44.5M18.4,6.6H20.8M-76.8,4.6H-75.5M-45.8,4.6H-44.6M-44.7,3.6H-43.4M8.9,3.6H10.2M-78,2.5H-76.7M-75.6,2.5H-74.3M-44.7,2.5H-43.4M20.8,-4.6H22M-9,-5.6H-7.7M-63.6,-6.6H-62.3M-3,-6.6H-1.7M-56.5,-7.6H-54M75.4,-7.6H77.8M-74.2,-8.6H-73M-68.3,-8.6H-67M-62.4,-8.6H-61.1M-58.8,-8.6H-57.5M-56.4,-8.6H-55.2M-12.5,-8.6H-11.2M-8.9,-8.6H-7.7M-73,-9.7H-71.7M-59.9,-9.7H-56.3M76.5,-9.7H77.7M-78.9,-10.7H-77.6M71.4,-14.7H72.7M99.7,-14.7H101M102.1,-14.7H103.4M-80.7,-16.8H-79.5M-88.7,-18.8H-87.5M92.2,-18.8H93.4M98,-18.8H99.3M-87.4,-19.8H-85M92,-19.8H94.4M102.6,-19.8H103.8M97.7,-20.8H99M101.2,-20.8H102.5M86.9,-22.9H88.1M86.8,-23.9H88M96.1,-23.9H97.3M103.9,-25.9H105.1M106.2,-25.9H107.4M86.3,-26.9H87.5M104.8,-26.9H107.2M83.8,-27.9H85M86.1,-27.9H87.3M89.6,-27.9H90.8M101.1,-27.9H102.3M104.3,-29H107.9M74.2,-30H76.5M78.8,-30H80M88,-30H89.2M100.6,-30H104.2M105.2,-30H108.8M102.7,-31H105M107.2,-31H108.5M105.8,-32H107M119.5,-35.1H120.7M123.2,-37.1H124.4M120.5,-38.1H121.7M123.8,-38.1H125M121.1,-39.1H122.3M111.7,-40.1H112.9M123.9,-40.1H125.1M-72.2,-42.2H-68.8M124,-42.2H125.1M-108.1,-43.2H-106.9M-6,-46.2H-4.8M124.1,-47.2H125.2M-58.3,-48.2H-57.1M108.4,-48.2H109.6M111.6,-48.2H113.8M-66.4,-49.2H-65.3M-62.9,-50.2H-61.8M-60.8,-50.2H-58.6M-65.7,-51.2H-64.5M-59.4,-51.2H-58.2M110.7,-51.2H112.9M114.9,-51.2H116.1M-102.8,-52.2H-101.7M-68.4,-52.2H-66.2M-58,-52.2H-55.8M-75.2,-53.2H-73.1M-68,-53.2H-66.9M-63.8,-53.2H-62.7M-61.7,-53.2H-60.6M112.5,-53.2H113.6M-76.8,-54.1H-75.7M-74.7,-54.1H-73.6M-71.6,-54.1H-70.5M-66.5,-54.1H-65.4M102.5,-54.1H104.6M-74.2,-55.1H-73.1M-72.2,-55.1H-70.1M102.8,-55.1H103.9M-88.9,-56.1H-87.8M-79.8,-56.1H-74.6M69.6,-56.1H70.6M-100.4,-57.1H-99.3M-90.3,-57.1H-89.2M-80.2,-57.1H-79.1M-77.2,-57.1H-75.1M-102.6,-58H-101.5M-91.6,-58H-90.5M-88.6,-58H-87.5M-82.6,-58H-81.5M-77.6,-58H-73.5M81.5,-58H83.6M-101.8,-59H-100.8M-88.9,-59H-87.8M-81,-59H-79.9M-101,-60H-100M-87.2,-60H-86.2M-85.3,-60H-84.2M-80.3,-60H-79.3M69.4,-60H70.5M77.3,-60H78.4M-98.2,-60.9H-97.2M-96.3,-60.9H-95.2M-85.5,-60.9H-83.5M67.9,-60.9H69.9M-99.4,-61.9H-98.3M-85.8,-61.9H-84.7M19.8,-61.9H20.9M28.5,-61.9H30.6M32.4,-61.9H33.5M34.4,-61.9H37.3M38.2,-61.9H39.3M46,-61.9H48M69.2,-61.9H70.3M71.2,-61.9H74.2M-91.8,-62.8H-87.9M12.9,-62.8H14.9M27.3,-62.8H28.4M42.7,-62.8H43.7M45.6,-62.8H46.6M66.7,-62.8H67.8M73.4,-62.8H74.5M75.4,-62.8H76.4M-92.9,-63.7H-91.9M-91,-63.7H-89.9M18.5,-63.7H19.6M27.1,-63.7H30M36.6,-63.7H37.7M45.2,-63.7H46.2M66.1,-63.7H67.2M69.9,-63.7H71.9M-94.9,-64.7H-92.9M16.5,-64.7H17.5M18.4,-64.7H20.3M27.8,-64.7H28.8M35.4,-64.7H37.3M38.2,-64.7H39.2M41,-64.7H43M72.2,-64.7H73.2M8.8,-65.6H9.9M16.3,-65.6H18.3M19.1,-65.6H20.1M25.7,-65.6H26.7M28.5,-65.6H29.5M31.3,-65.6H32.3M36,-65.6H37M8.8,-66.5H9.8M16.2,-66.5H17.2M18,-66.5H19M26.4,-66.5H27.4M35.6,-66.5H36.6M-107.9,-67.4H-106.9M9.6,-67.4H10.6M14.2,-67.4H15.2M18.8,-67.4H19.8M-107.7,-68.3H-106.7M9.5,-68.3H11.4M13.1,-68.3H14.1M16.8,-68.3H17.8M18.6,-68.3H20.5M10.3,-69.2H11.3M13,-69.2H14M12,-70.1H13.8"/>
<path stroke="#FC0000" d="M-62.9,47.2H-61.7M125.8,46.2H127M126.5,45.2H128.7M154.1,43.2H155.3M153.7,42.2H154.9M155.5,41.1H156.7M-52.1,32H-50.9M139,32H140.2M-52.2,31H-51M-52.4,30H-51.2M-53.9,26.9H-52.7M-54.1,24.9H-52.9M-42.5,24.9H-41.2M-40.2,23.9H-39M-41.5,22.9H-40.2M-53.2,21.8H-52M-43.9,21.8H-42.6M-39.3,20.8H-38M-52.3,18.8H-49.9M136,16.8H137.3M-66.7,15.8H-65.4M-64.3,15.8H-61.9M-60.8,15.8H-59.5M-57.2,15.8H-54.8M45.4,15.8H46.6M-64.4,14.7H-63.1M-56.1,14.7H-54.9M-69.2,13.7H-67.9M-64.5,13.7H-63.2M-52.6,13.7H-51.4M-47.9,13.7H-46.7M-51.5,12.7H-50.2M-73,9.7H-71.7M-74.2,8.6H-73M-46.9,8.6H-45.7M19.5,8.6H20.8M-74.3,7.6H-73M-47,7.6H-45.7M19.6,7.6H20.8M-76.7,5.6H-74.3M-45.8,5.6H-44.5M-75.6,4.6H-74.3M-76.8,3.6H-75.5M-47,3.6H-45.8M-45.9,1.5H-44.6M-72.1,-0.5H-70.8M26.7,-1.5H28M25.5,-2.5H26.8M23.2,-3.6H24.4M-57.7,-6.6H-56.4M-51.7,-6.6H-50.5M-11.3,-6.6H-10.1M-74.3,-7.6H-73M-58.8,-7.6H-56.4M-11.3,-7.6H-10.1M-8.9,-7.6H-7.7M-79,-8.6H-77.7M-57.6,-8.6H-56.3M-10.1,-8.6H-8.9M-62.3,-9.7H-59.9M-81.2,-10.7H-80M-71.7,-10.7H-70.5M-69.4,-10.7H-68.1M-70.5,-11.7H-69.2M70.4,-12.7H71.6M-79.7,-14.7H-78.5M-85.5,-15.8H-84.3M-79.6,-15.8H-78.4M100.8,-15.8H102.1M-81.9,-16.8H-80.6M98.3,-16.8H99.6M100.7,-16.8H101.9M-86.5,-17.8H-85.2M92.3,-17.8H93.5M98.2,-17.8H99.4M-87.5,-18.8H-86.3M-85.2,-18.8H-82.8M99.2,-18.8H100.5M-88.6,-19.8H-87.3M-68.6,-19.8H-67.4M-68.5,-20.8H-67.3M-66.2,-20.8H-64.9M91.9,-20.8H93.1M90.6,-21.8H91.8M97.6,-21.8H98.8M-76.4,-23.9H-75.1M92.6,-23.9H95M112.4,-23.9H113.6M102.5,-26.9H103.7M83.6,-29H84.8M76.5,-30H78.8M104.1,-30H105.3M72.8,-31H74M106.1,-31H107.3M119.1,-36.1H120.3M120.9,-37.1H123.2M121.7,-40.1H122.9M-71.4,-41.1H-70.3M112.3,-41.1H113.5M122.3,-41.1H124.6M111.8,-42.2H113M-108.7,-44.2H-107.5M122.6,-46.2H123.7M121.9,-47.2H124.1M-59.3,-48.2H-58.2M109.5,-48.2H110.6M-61.1,-49.2H-60M-54.8,-49.2H-53.6M111,-49.2H112.1M-65,-50.2H-62.8M-54.4,-50.2H-53.3M108.2,-50.2H109.4M110.4,-50.2H111.5M113.5,-50.2H114.7M-66.7,-51.2H-65.6M-64.6,-51.2H-63.5M109.7,-51.2H110.8M112.8,-51.2H115M-66.3,-52.2H-64.1M-63.2,-52.2H-62.1M-55.9,-52.2H-54.8M112.2,-52.2H114.3M-66.9,-53.2H-63.7M-62.8,-53.2H-61.7M-75.8,-54.1H-74.7M-73.7,-54.1H-71.6M-75.2,-55.1H-74.1M-73.2,-55.1H-72.1M-101.1,-56.1H-100M-90,-56.1H-88.9M-73.7,-56.1H-72.6M-71.7,-56.1H-70.6M-94.3,-57.1H-92.2M-89.3,-57.1H-88.2M-81.2,-57.1H-80.1M-79.2,-57.1H-77.1M-75.2,-57.1H-74.1M-96.6,-58H-94.5M-90.6,-58H-88.5M-79.6,-58H-77.5M-89.9,-59H-88.8M-80,-59H-78.9M82.9,-59H84M-98.1,-60H-97M-96.1,-60H-94M-88.2,-60H-87.1M-97.3,-60.9H-96.2M-94.3,-60.9H-92.3M-86.5,-60.9H-85.5M18,-60.9H20.1M-95.5,-61.9H-92.5M10.1,-61.9H11.2M12.1,-61.9H14.1M30.5,-61.9H31.5M44,-61.9H45.1M67.3,-61.9H68.4M-98.5,-62.8H-97.5M-95.6,-62.8H-93.6M-87.9,-62.8H-86.9M10,-62.8H11.1M32.1,-62.8H34.1M35,-62.8H36.1M36.9,-62.8H38.9M67.7,-62.8H68.7M72.5,-62.8H73.5M-97.6,-63.7H-93.8M12.8,-63.7H13.8M30.9,-63.7H31.9M34.7,-63.7H35.7M42.3,-63.7H44.3M-95.8,-64.7H-94.8M9.9,-64.7H10.9M26.9,-64.7H27.9M28.7,-64.7H29.8M31.6,-64.7H32.6M33.5,-64.7H35.4M27.5,-65.6H28.6M29.4,-65.6H31.4M32.2,-65.6H33.2M35,-65.6H36M9.7,-66.5H10.7M11.5,-66.5H13.5M17.1,-66.5H18.1M19.9,-66.5H20.9M31,-66.5H32.9M33.8,-66.5H35.7M36.6,-66.5H37.6M10.5,-67.4H11.5M12.3,-67.4H13.3M16,-67.4H17.9M19.7,-67.4H20.7M30.7,-67.4H32.6M33.5,-67.4H34.5M11.3,-68.3H12.3M14,-68.3H15M11.2,-69.2H13.1"/>
<path stroke="#D42828" d="M145.6,47.2H146.7M126.9,46.2H128.1M-63.6,45.2H-62.4M-47.2,34H-46M-50.8,33H-45M-51,32H-45.2M-51.1,31H-44.1M-51.2,30H-44.3M-52.5,29H-44.4M-52.6,27.9H-44.5M-52.8,26.9H-43.4M-54,25.9H-41.2M-53,24.9H-42.4M-53.1,23.9H-42.5M-41.4,23.9H-40.2M-53.1,22.9H-42.6M-52.1,21.8H-43.8M-52.1,20.8H-43.9M45,20.8H46.3M-52.2,19.8H-43.9M-39.3,19.8H-38.1M45.1,19.8H46.4M-50,18.8H-45.2M-39.4,18.8H-38.1M45.2,18.8H46.4M135.6,18.8H136.9M-50,17.8H-46.4M-39.4,17.8H-38.2M45.2,17.8H46.5M135.8,17.8H137.1M45.3,16.8H46.6M-65.5,15.8H-64.2M-67.9,14.7H-64.3M-63.2,14.7H-59.6M-57.3,14.7H-56M-54.9,14.7H-53.7M-49,14.7H-47.8M-68,13.7H-64.4M-63.3,13.7H-52.6M-70.4,12.7H-51.4M-71.7,11.7H-50.3M-71.7,10.7H-49.1M116.7,10.7H120.3M-71.8,9.7H-48M107.3,9.7H116.9M118,9.7H121.6M132.2,9.7H137M138.1,9.7H141.8M-73,8.6H-46.8M18.4,8.6H19.6M101.4,8.6H117M131.1,8.6H141.9M-75.5,7.6H-74.2M-73.1,7.6H-46.9M99.1,7.6H108.7M131.2,7.6H140.8M-75.5,6.6H-45.7M99.2,6.6H102.8M103.9,6.6H106.4M131.3,6.6H144.4M-74.3,5.6H-45.7M13.6,5.6H24.4M96.9,5.6H101.7M113.5,5.6H114.8M115.9,5.6H117.1M129,5.6H139.7M140.8,5.6H145.7M-74.4,4.6H-45.7M10.1,4.6H26.8M96.9,4.6H101.7M107.6,4.6H110.1M113.5,4.6H117.2M125.4,4.6H138.6M143.3,4.6H145.7M-75.6,3.6H-47M-45.8,3.6H-44.6M10.1,3.6H28M95.7,3.6H101.8M105.3,3.6H111.3M112.4,3.6H117.2M121.9,3.6H124.4M125.5,3.6H137.5M143.3,3.6H145.8M-74.4,2.5H-44.6M8.9,2.5H28M95.8,2.5H100.6M104.1,2.5H111.3M112.4,2.5H117.3M125.5,2.5H135.1M-75.6,1.5H-45.8M8.9,1.5H29.2M94.6,1.5H100.6M104.1,1.5H118.5M124.4,1.5H128M-75.6,0.5H-45.8M8.9,0.5H28M94.6,0.5H99.5M102.9,0.5H112.5M113.7,0.5H116.1M124.4,0.5H128M-75.6,-0.5H-72M-70.9,-0.5H-47M8.9,-0.5H28M93.4,-0.5H99.5M102.9,-0.5H118.5M120.8,-0.5H123.3M-75.6,-1.5H-47M8.9,-1.5H26.8M93.4,-1.5H99.4M102.9,-1.5H113.7M114.8,-1.5H117.3M120.8,-1.5H123.2M-75.6,-2.5H-47M8.9,-2.5H25.6M92.2,-2.5H99.4M104.1,-2.5H112.5M-74.4,-3.6H-47M8.9,-3.6H23.2M91,-3.6H99.4M105.3,-3.6H112.5M-74.4,-4.6H-48.1M8.9,-4.6H12.5M16,-4.6H20.9M90.9,-4.6H99.3M107.6,-4.6H113.6M-74.3,-5.6H-49.3M90.9,-5.6H93.4M94.5,-5.6H99.3M108.7,-5.6H113.6M-74.3,-6.6H-67.1M-62.4,-6.6H-57.6M-56.5,-6.6H-51.7M-10.1,-6.6H-7.7M94.4,-6.6H98.1M109.9,-6.6H113.5M118.2,-6.6H120.7M-73.1,-7.6H-68.3M-62.4,-7.6H-58.7M-10.1,-7.6H-8.9M-7.8,-7.6H-6.5M93.2,-7.6H96.8M109.8,-7.6H112.3M116.9,-7.6H120.6M-77.8,-8.6H-74.1M-73,-8.6H-68.2M-61.2,-8.6H-58.7M-11.3,-8.6H-10M76.5,-8.6H77.8M115.7,-8.6H120.5M-78.9,-9.7H-74.1M-71.8,-9.7H-68.2M110.9,-9.7H113.3M116.8,-9.7H120.4M-80,-10.7H-78.8M-70.6,-10.7H-69.3M93,-10.7H94.3M112,-10.7H113.2M115.5,-10.7H119.2M-82.3,-11.7H-78.7M92.9,-11.7H94.2M111.9,-11.7H114.3M115.4,-11.7H119.1M-82.3,-12.7H-78.6M92.8,-12.7H94.1M115.3,-12.7H119M-83.4,-13.7H-78.6M70.3,-13.7H71.6M92.7,-13.7H94M116.4,-13.7H118.8M-83.3,-14.7H-79.7M92.6,-14.7H93.9M100.9,-14.7H102.2M113.9,-14.7H117.5M-84.4,-15.8H-79.6M92.5,-15.8H93.8M99.6,-15.8H100.9M112.6,-15.8H116.2M-86.6,-16.8H-81.8M92.4,-16.8H93.7M99.5,-16.8H100.7M112.4,-16.8H114.9M-85.3,-17.8H-82.9M99.3,-17.8H100.6M112.3,-17.8H115.9M112.1,-18.8H115.7M111.9,-19.8H115.5M-67.4,-20.8H-66.1M93,-20.8H97.8M102.4,-20.8H103.7M88.2,-21.8H90.6M91.7,-21.8H97.6M88.1,-22.9H97.5M87.9,-23.9H91.5M94.9,-23.9H96.2M86.6,-24.9H91.3M112.2,-24.9H113.4M86.4,-25.9H91.2M112,-25.9H113.2M87.4,-26.9H91M84.9,-27.9H86.2M87.2,-27.9H89.6M84.7,-29H89.4M74,-31H76.3M118.4,-35.1H119.6M118,-36.1H119.2M121.6,-38.1H123.9M122.2,-39.1H124.5M112.8,-40.1H114M122.8,-40.1H124M-107.6,-44.2H-106.4M-108.1,-45.2H-105.9M-107.5,-46.2H-105.3M-107,-47.2H-104.7M-106.4,-48.2H-104.1M-60.4,-48.2H-59.3M-105.8,-49.2H-103.6M-60.1,-49.2H-54.7M109.9,-49.2H111.1M112.1,-49.2H113.2M-105.1,-50.2H-103M-58.7,-50.2H-54.4M109.3,-50.2H110.4M111.4,-50.2H112.5M114.6,-50.2H115.7M-105.6,-51.2H-102.3M-63.6,-51.2H-62.4M-58.3,-51.2H-54M-104.9,-52.2H-102.8M-64.2,-52.2H-63.1M-105.3,-53.2H-102.1M-104.6,-54.1H-101.4M-103.9,-55.1H-100.7M-104.2,-56.1H-101M-72.7,-56.1H-71.6M-103.4,-57.1H-100.3M-101.6,-58H-99.5M-94.6,-58H-91.5M-100.8,-59H-98.8M-95.9,-59H-89.8M-100,-60H-98M-94.1,-60H-88.1M-99.2,-60.9H-98.2M-95.3,-60.9H-94.3M-92.4,-60.9H-86.4M-98.4,-61.9H-95.4M-92.6,-61.9H-85.7M11.1,-61.9H12.2M17.9,-61.9H19.9M-97.5,-62.8H-95.5M-93.7,-62.8H-91.7M11,-62.8H13M29.3,-62.8H32.2M34.1,-62.8H35.1M36,-62.8H37M43.7,-62.8H45.7M10,-63.7H12.9M30,-63.7H31M31.9,-63.7H34.8M35.7,-63.7H36.7M10.8,-64.7H13.7M17.4,-64.7H18.4M29.7,-64.7H31.7M32.5,-64.7H33.5M9.8,-65.6H12.7M18.2,-65.6H19.2M20.1,-65.6H21.1M33.2,-65.6H35.1M10.6,-66.5H11.6M13.4,-66.5H14.4M19,-66.5H20M28.2,-66.5H29.2M30.1,-66.5H31.1M32.8,-66.5H33.9M11.4,-67.4H12.4M13.3,-67.4H14.3M17.9,-67.4H18.9M32.5,-67.4H33.5M12.2,-68.3H13.2"/>
</g>
<use href="#C"/><use href="#O"/>
</g>
<!-- map 2 -->
<g transform="translate(525,220.3)">
<g shape-rendering="crispEdges" fill="none" stroke-width="1.09">
<use href="#L" stroke="#3050E0"/>
<path stroke="#2088F8" d="M-59.9,55.1H-58.8M-60.3,54.1H-59.2M-61.7,53.2H-59.6M-62.1,52.2H-61M-60.4,51.2H-59.3M-60.8,50.2H-59.6M141,50.2H144.2M-64.3,49.2H-63.2M-61.1,49.2H-60M140.7,49.2H141.9M145,49.2H146.1M-61.5,48.2H-60.3M145.8,48.2H147M-61.8,47.2H-60.7M143.4,47.2H144.6M147.7,47.2H148.9M-62.5,45.2H-61.3M149.3,45.2H151.5M-62.8,44.2H-61.6M126,44.2H127.2M129.3,44.2H130.5M151.1,44.2H152.3M-63.4,42.2H-62.2M126.2,42.2H127.3M128.4,42.2H129.5M-63.7,41.1H-62.5M123.4,41.1H124.6M154.4,41.1H155.6M157.7,41.1H158.9M-64,40.1H-62.8M125,40.1H126.2M-64.2,39.1H-63M131.1,39.1H132.3M155.7,39.1H156.9M104.8,38.1H106M131.7,38.1H132.9M155.2,38.1H156.4M-49,37.1H-47.8M132.2,37.1H134.5M136,36.1H137.2M-50.5,35.1H-49.3M103.7,35.1H104.9M105.9,35.1H107.1M136.5,35.1H137.7M-52.9,34H-51.7M27.9,33H29.1M137.4,33H138.6M-60.1,32H-58.9M-54.4,32H-53.2M26.8,32H28.1M137.8,32H139.1M-61.4,31H-60.2M29.2,31H30.4M138.2,31H139.4M-55.8,30H-54.6M25.8,30H27.1M29.3,30H30.5M137.4,30H138.7M140.9,30H142.1M-61.7,29H-60.5M-56,29H-54.7M-45.6,29H-44.4M27.1,29H28.3M138.9,29H141.3M-61.9,27.9H-60.7M-58.4,27.9H-54.9M-45.7,27.9H-44.5M26,27.9H29.5M-57.4,26.9H-55M-47,26.9H-45.7M26,26.9H28.4M-62.1,25.9H-60.9M-59.8,25.9H-56.3M-47.1,25.9H-45.8M-44.7,25.9H-43.5M26.1,25.9H27.3M138.7,25.9H139.9M-58.8,24.9H-55.2M-41.3,24.9H-40.1M41.2,24.9H43.7M-55.4,23.9H-54.1M-49.6,23.9H-48.3M42.5,23.9H43.7M134.5,23.9H135.8M-63.6,22.9H-62.4M-48.5,22.9H-46.1M-50.9,21.8H-49.6M-48.5,21.8H-47.3M-46.2,21.8H-45M32.1,21.8H33.4M40.3,21.8H41.5M133.8,21.8H135M-54.5,20.8H-53.2M33.3,20.8H34.6M136.4,20.8H137.6M-67.5,19.8H-61.5M40.4,19.8H41.7M136.6,19.8H137.8M-68.7,18.8H-65.1M-64,18.8H-62.8M-60.5,18.8H-59.3M-55.8,18.8H-53.4M32.3,18.8H34.7M40.5,18.8H44.1M-70,17.8H-67.6M-59.4,17.8H-58.2M-68.9,16.8H-67.7M35.9,16.8H37.1M134.8,16.8H136.1M-72.6,15.8H-71.3M-53.7,15.8H-52.4M-38.4,15.8H-35.9M34.8,15.8H38.4M46.5,15.8H47.8M-72.7,14.7H-71.4M-52.6,14.7H-51.3M-40.8,14.7H-39.5M-38.4,14.7H-37.2M20.6,14.7H21.9M23,14.7H24.2M31.2,14.7H32.5M33.6,14.7H38.4M46.6,14.7H47.9M122.2,14.7H128.2M135.2,14.7H136.4M-51.5,13.7H-49M-39.6,13.7H-38.4M-37.3,13.7H-36M13.6,13.7H18.4M28.9,13.7H30.2M31.3,13.7H33.7M36,13.7H38.5M122.3,13.7H124.7M127,13.7H129.5M-46.8,12.7H-45.5M-44.4,12.7H-43.1M-39.7,12.7H-37.2M15.9,12.7H17.2M18.3,12.7H19.6M28.9,12.7H30.2M32.5,12.7H34.9M36,12.7H38.5M45.5,12.7H46.8M123.6,12.7H128.4M-49.2,11.7H-47.9M-39.7,11.7H-38.4M-37.3,11.7H-36.1M-35,11.7H-33.7M18.3,11.7H19.6M20.7,11.7H21.9M27.8,11.7H30.2M33.7,11.7H37.3M-42.1,10.7H-39.7M-38.6,10.7H-37.3M-36.2,10.7H-33.7M27.8,10.7H30.3M33.7,10.7H35M-42.1,9.7H-40.9M-39.8,9.7H-38.5M-36.2,9.7H-33.8M29,9.7H31.5M-44.6,8.6H-40.9M-39.8,8.6H-37.3M-36.2,8.6H-35M11.2,8.6H12.5M29,8.6H31.5M-44.6,7.6H-43.3M-41,7.6H-36.2M11.2,7.6H13.7M27.9,7.6H30.3M32.6,7.6H33.9M-44.6,6.6H-43.3M-42.2,6.6H-41M-38.7,6.6H-35M13.6,6.6H14.9M25.5,6.6H26.8M27.9,6.6H30.3M31.4,6.6H32.7M33.8,6.6H35.1M-41.1,5.6H-39.8M-37.5,5.6H-36.2M32.7,5.6H35.1M-41.1,4.6H-37.4M31.5,4.6H35.1M-41.1,3.6H-38.6M27.9,3.6H29.2M33.9,3.6H36.3M29.1,2.5H30.4M33.9,2.5H36.3M-43.5,1.5H-42.2M29.1,1.5H30.4M29.1,0.5H30.4M31.5,0.5H35.2M-76.8,-0.5H-75.6M32.7,-0.5H35.2M25.5,-3.6H26.8M-7.8,-4.6H-6.5M6.5,-4.6H9M23.2,-4.6H24.4M-0.6,-5.6H0.6M12.4,-5.6H13.7M-67.2,-6.6H-65.9M8.9,-6.6H11.3M33.8,-6.6H36.3M76.6,-6.6H77.9M-76.6,-7.6H-75.4M-12.5,-7.6H-11.2M-0.6,-7.6H0.6M2.9,-7.6H4.2M5.3,-7.6H7.8M8.9,-7.6H12.5M33.8,-7.6H36.3M-63.5,-8.6H-62.3M-7.8,-8.6H-6.5M33.8,-8.6H37.4M-74.2,-9.7H-72.9M-13.7,-9.7H-12.4M-10.1,-9.7H-7.7M33.8,-9.7H36.2M94.3,-9.7H95.5M100.2,-9.7H101.5M-72.9,-10.7H-71.7M-68.2,-10.7H-66.9M-64.6,-10.7H-63.4M-12.5,-10.7H-11.2M-10.1,-10.7H-8.8M33.7,-10.7H36.2M94.2,-10.7H95.5M97.7,-10.7H102.6M-71.7,-11.7H-70.4M-69.3,-11.7H-68.1M-67,-11.7H-65.7M-64.6,-11.7H-62.1M71.6,-11.7H72.9M96.5,-11.7H97.7M98.8,-11.7H100.1M101.2,-11.7H102.5M-69.3,-12.7H-66.8M-65.7,-12.7H-64.4M99.9,-12.7H101.2M-85.6,-14.7H-84.4M91.5,-14.7H92.7M96.2,-14.7H98.6M-87.9,-15.8H-86.6M70.1,-15.8H71.4M91.4,-15.8H92.6M-91.3,-16.8H-90.1M-79.5,-16.8H-78.3M91.2,-16.8H92.5M97.1,-16.8H98.4M-88.8,-17.8H-87.6M89.9,-17.8H92.4M97,-17.8H98.3M-95.8,-18.8H-93.3M94.5,-18.8H95.8M96.9,-18.8H98.1M-98,-19.8H-95.5M-85.1,-19.8H-83.8M-65.1,-19.8H-63.9M72.1,-19.8H73.3M87.3,-19.8H88.6M-97.8,-20.8H-95.4M-82.6,-20.8H-81.3M-65,-20.8H-63.8M70.8,-20.8H73.2M75.5,-20.8H77.9M-98.8,-21.8H-96.4M-95.3,-21.8H-91.7M-84.8,-21.8H-81.2M-71.9,-21.8H-70.7M-68.4,-21.8H-67.2M71.8,-21.8H73.1M75.4,-21.8H80.1M85.9,-21.8H87.1M102.2,-21.8H103.5M-97.5,-22.9H-96.2M-84.6,-22.9H-82.2M-73,-22.9H-71.7M77.6,-22.9H78.8M79.9,-22.9H81.1M85.7,-22.9H87M99.7,-22.9H103.3M-99.7,-23.9H-98.4M-97.3,-23.9H-96.1M-79.8,-23.9H-78.6M-72.9,-23.9H-71.6M78.6,-23.9H79.8M85.6,-23.9H86.8M98.4,-23.9H100.8M101.9,-23.9H103.1M106.6,-23.9H107.8M-99.5,-24.9H-98.2M84.3,-24.9H85.5M98.2,-24.9H100.6M101.7,-24.9H103M-100.5,-25.9H-98.1M-97,-25.9H-95.7M84.1,-25.9H85.4M92.2,-25.9H93.5M95.7,-25.9H98.1M99.2,-25.9H100.5M-99.1,-26.9H-96.7M80.5,-26.9H82.9M95.5,-26.9H97.9M112.9,-26.9H114.2M-101.2,-27.9H-96.5M-75.8,-27.9H-74.5M80.3,-27.9H82.7M96.5,-27.9H97.7M110.4,-27.9H111.6M-101,-29H-98.6M-75.6,-29H-74.4M75.5,-29H79M90.5,-29H91.7M95.1,-29H96.3M97.4,-29H98.7M-99.6,-30H-98.3M71.9,-30H74.2M81.1,-30H83.4M96,-30H98.4M108.7,-30H112.2M-76.3,-31H-75.1M69.4,-31H70.6M71.7,-31H72.9M78.6,-31H79.8M83.1,-31H84.4M95.8,-31H97M109.5,-31H111.9M-84.1,-32H-82.9M-79.6,-32H-78.3M65.7,-32H67M74.9,-32H76.1M85.2,-32H86.4M89.8,-32H91M-81.6,-33H-79.2M64.4,-33H65.6M70.1,-33H71.3M86.1,-33H87.3M89.5,-33H90.7M94.1,-33H95.3M99.8,-33H106.7M-80.2,-34H-79M91.5,-34H97.3M101.7,-34H104.1M105.1,-34H106.4M109.7,-34H110.9M-81.1,-35.1H-78.7M94.6,-35.1H102.6M103.7,-35.1H106M108.2,-35.1H110.5M-85.3,-36.1H-84.1M-81.9,-36.1H-80.7M-75.1,-36.1H-72.8M98.8,-36.1H100M104.4,-36.1H109M-86.1,-37.1H-83.8M-82.7,-37.1H-81.5M-78.2,-37.1H-74.8M-73.7,-37.1H-72.5M-69.2,-37.1H-68M99.5,-37.1H100.7M104,-37.1H106.4M113,-37.1H114.2M-85.8,-38.1H-84.6M-82.4,-38.1H-81.2M-79.1,-38.1H-77.9M-75.7,-38.1H-70M-85.4,-39.1H-82M-79.9,-39.1H-78.7M-74.3,-39.1H-72M42.9,-39.1H48.6M125.6,-39.1H126.8M-85.1,-40.1H-82.8M-80.6,-40.1H-79.5M-76.2,-40.1H-75M-74,-40.1H-72.8M-70.6,-40.1H-69.5M42.8,-40.1H45.1M110.6,-40.1H111.8M-109.1,-41.1H-107.9M-84.7,-41.1H-83.5M-80.3,-41.1H-79.1M-77,-41.1H-75.8M110.1,-41.1H111.3M-109.7,-42.2H-108.5M-84.4,-42.2H-83.2M-82.1,-42.2H-81M-77.7,-42.2H-76.6M109.6,-42.2H110.8M-107,-43.2H-105.8M-78.5,-43.2H-77.3M-73,-43.2H-71.8M-81.4,-44.2H-79.1M10.3,-44.2H12.6M18,-44.2H19.1M25.6,-44.2H26.8M34.3,-44.2H38.8M109.7,-44.2H110.8M-79.9,-45.2H-78.7M-73.3,-45.2H-71.1M-66.8,-45.2H-63.5M-7.1,-45.2H-5.9M-4.9,-45.2H-0.5M11.4,-45.2H12.5M15.7,-45.2H20.1M106.9,-45.2H108.1M122.1,-45.2H123.3M-79.4,-46.2H-77.2M-73,-46.2H-69.6M-65.4,-46.2H-62.1M-0.6,-46.2H1.7M8.1,-46.2H9.2M11.3,-46.2H12.5M106.4,-46.2H108.6M120.4,-46.2H121.6M-73.6,-47.2H-68.2M-67.2,-47.2H-63.9M-5.9,-47.2H-4.8M-1.7,-47.2H2.7M8,-47.2H9.2M10.2,-47.2H13.5M18.8,-47.2H21M32.7,-47.2H38.2M104.7,-47.2H107M-77.5,-48.2H-76.4M-70,-48.2H-68.9M-52.9,-48.2H-51.8M-1.6,-48.2H-0.5M1.6,-48.2H3.8M9,-48.2H11.3M15.5,-48.2H16.6M18.7,-48.2H20.9M105.2,-48.2H106.4M-70.7,-49.2H-68.5M-1.6,-49.2H3.8M4.7,-49.2H6.9M9,-49.2H11.2M16.4,-49.2H17.6M19.6,-49.2H22.9M105.7,-49.2H107.9M120.6,-49.2H121.7M-78.7,-50.2H-73.4M-48.1,-50.2H-44.9M-0.6,-50.2H2.7M3.7,-50.2H4.8M11.1,-50.2H13.2M15.3,-50.2H18.5M104,-50.2H106.2M119.9,-50.2H121M-78.3,-51.2H-77.1M-74.1,-51.2H-69.8M-49.9,-51.2H-48.8M-45.7,-51.2H-44.6M2.6,-51.2H5.8M13.1,-51.2H17.4M21.5,-51.2H22.6M103.4,-51.2H104.5M105.5,-51.2H107.7M116,-51.2H117.1M-72.6,-52.2H-71.5M-49.6,-52.2H-48.5M1.5,-52.2H8.9M13,-52.2H16.2M21.4,-52.2H22.5M100.7,-52.2H101.8M105.9,-52.2H107M115.3,-52.2H116.4M119.5,-52.2H120.6M-93.9,-53.2H-92.8M-91.8,-53.2H-80.3M-79.4,-53.2H-78.3M-45.2,-53.2H-44M0.5,-53.2H3.7M5.7,-53.2H6.8M15,-53.2H22.3M99,-53.2H101.2M114.6,-53.2H115.7M118.7,-53.2H119.8M-101.5,-54.1H-100.4M-97.4,-54.1H-93.2M-88.1,-54.1H-87M-86.1,-54.1H-85M-84,-54.1H-81.9M-80.9,-54.1H-79.8M-54.1,-54.1H-48.9M-46.9,-54.1H-45.8M-3.6,-54.1H-2.5M-1.6,-54.1H-0.5M1.5,-54.1H5.7M13.9,-54.1H15M15.9,-54.1H21.2M68.5,-54.1H71.6M72.6,-54.1H75.8M97.3,-54.1H99.5M109.7,-54.1H110.8M112.8,-54.1H113.9M117.9,-54.1H119M-97.8,-55.1H-96.7M-86.5,-55.1H-85.4M-83.4,-55.1H-81.3M-54.8,-55.1H-51.6M-50.7,-55.1H-49.6M-4.6,-55.1H-2.5M-1.6,-55.1H-0.5M2.5,-55.1H6.7M8.7,-55.1H9.8M10.7,-55.1H13.9M14.8,-55.1H17.9M19.9,-55.1H22M67,-55.1H68.1M75.2,-55.1H77.3M96.7,-55.1H97.8M107.9,-55.1H113.1M117.1,-55.1H118.2M-100.1,-56.1H-97M-85.9,-56.1H-82.8M-62.5,-56.1H-61.4M-53.4,-56.1H-51.3M-50.3,-56.1H-49.2M-4.6,-56.1H-3.5M-0.5,-56.1H0.5M3.5,-56.1H7.7M8.6,-56.1H11.7M14.7,-56.1H17.8M18.8,-56.1H20.9M66.5,-56.1H67.6M75.6,-56.1H78.8M79.7,-56.1H84.9M85.8,-56.1H86.9M87.8,-56.1H90M96,-56.1H97.1M98,-56.1H99.1M108.2,-56.1H111.3M116.3,-56.1H117.4M128.5,-56.1H129.6M-104.4,-57.1H-103.3M-86.3,-57.1H-85.2M-84.2,-57.1H-83.2M-64.1,-57.1H-62M-61.1,-57.1H-55.9M-55,-57.1H-53.9M-53,-57.1H-49.9M-4.6,-57.1H0.5M5.5,-57.1H10.6M11.6,-57.1H15.7M16.6,-57.1H17.7M66,-57.1H68.1M72.1,-57.1H75.2M76.1,-57.1H77.2M87.2,-57.1H90.3M93.2,-57.1H94.3M97.3,-57.1H98.4M106.4,-57.1H108.5M114.4,-57.1H115.5M127.5,-57.1H129.6M-104.6,-58H-102.5M-68.6,-58H-67.5M-63.6,-58H-56.5M-55.6,-58H-50.5M-5.5,-58H-4.5M-2.5,-58H0.5M8.5,-58H11.5M12.5,-58H13.6M14.5,-58H15.6M68.5,-58H69.6M70.5,-58H73.6M88.5,-58H90.6M92.5,-58H93.6M103.5,-58H105.6M125.6,-58H127.7M128.6,-58H129.7M-104.8,-59H-101.8M-69.1,-59H-67M-63.1,-59H-53.1M-5.5,-59H-2.4M-1.5,-59H-0.5M32.2,-59H33.3M44.2,-59H46.2M65,-59H67.1M89.8,-59H92.9M101.8,-59H103.8M-105,-60H-101.9M-68.5,-60H-67.4M-3.5,-60H-1.4M7.3,-60H8.4M16.2,-60H17.3M21.1,-60H22.2M26.1,-60H29.1M33,-60H34M38.9,-60H40.9M41.8,-60H43.9M47.7,-60H49.8M52.7,-60H55.7M62.5,-60H64.6M87.1,-60H88.2M89.1,-60H92.2M95,-60H98.1M100.9,-60H102M122.6,-60H123.7M126.6,-60H127.6M-104.1,-60.9H-103M-75.8,-60.9H-73.7M-4.4,-60.9H-3.4M7.3,-60.9H8.3M21.9,-60.9H24M24.9,-60.9H25.9M26.8,-60.9H27.9M34.6,-60.9H35.7M48.3,-60.9H55.2M56.1,-60.9H59.2M60.1,-60.9H63.1M86.4,-60.9H91.4M93.3,-60.9H96.3M99.1,-60.9H105.1M121.6,-60.9H122.7M125.5,-60.9H126.6M-105.2,-61.9H-104.1M-73.2,-61.9H-72.1M-3.4,-61.9H-1.4M21.8,-61.9H23.8M24.7,-61.9H25.7M57.6,-61.9H61.6M81.8,-61.9H82.9M92.5,-61.9H94.5M95.4,-61.9H96.4M97.3,-61.9H98.4M99.3,-61.9H106.1M120.6,-61.9H121.6M124.5,-61.9H125.5M-105.2,-62.8H-104.2M-102.3,-62.8H-101.3M-77.4,-62.8H-76.3M-73.5,-62.8H-72.5M5.2,-62.8H8.2M21.6,-62.8H24.5M59,-62.8H60.1M81.1,-62.8H83.1M84,-62.8H86M92.7,-62.8H99.5M100.3,-62.8H103.3M104.2,-62.8H109.1M122.4,-62.8H123.5M-106.2,-63.7H-104.2M-100.5,-63.7H-99.5M-83.4,-63.7H-82.3M-77.6,-63.7H-76.6M-75.7,-63.7H-71.9M3.3,-63.7H5.3M6.1,-63.7H8.1M78.5,-63.7H81.5M86.1,-63.7H91.9M92.8,-63.7H93.8M94.7,-63.7H95.7M96.6,-63.7H98.6M101.4,-63.7H108.1M-106.2,-64.7H-104.2M-88.3,-64.7H-87.3M-84.5,-64.7H-83.5M-82.6,-64.7H-81.6M-78.8,-64.7H-74M7,-64.7H8.1M56.1,-64.7H59M76.9,-64.7H77.9M78.8,-64.7H85.4M86.3,-64.7H87.3M88.2,-64.7H89.2M93.9,-64.7H97.7M100.5,-64.7H101.5M102.4,-64.7H107.2M-111.8,-65.6H-110.8M-109.9,-65.6H-105.2M-91.2,-65.6H-90.2M-89.3,-65.6H-86.5M-85.6,-65.6H-77.1M5.1,-65.6H8M52.8,-65.6H53.8M54.7,-65.6H60.4M73.4,-65.6H82.8M83.7,-65.6H88.4M90.2,-65.6H91.2M93.9,-65.6H96.8M97.7,-65.6H103.4M104.2,-65.6H105.2M-116.3,-66.5H-111.6M-110.7,-66.5H-109.7M-107,-66.5H-106M-98.7,-66.5H-97.7M-96.9,-66.5H-95.8M-89.4,-66.5H-88.4M-87.6,-66.5H-81M3.2,-66.5H7M47.7,-66.5H48.7M54.2,-66.5H55.2M56,-66.5H61.6M71.8,-66.5H74.6M76.4,-66.5H77.4M78.2,-66.5H81.1M83.8,-66.5H89.4M90.3,-66.5H91.3M92.1,-66.5H101.5M-118,-67.4H-117M-116.1,-67.4H-115.1M-110.6,-67.4H-109.6M-96.8,-67.4H-94.9M-94.1,-67.4H-91.3M-90.4,-67.4H-89.4M-87.7,-67.4H-83.9M5,-67.4H7.8M47.2,-67.4H56.5M57.3,-67.4H60.1M61,-67.4H73.9M74.7,-67.4H75.7M78.4,-67.4H82.2M83,-67.4H89.5M90.3,-67.4H98.7M-119.5,-68.3H-118.6M-117.7,-68.3H-115.8M-101.4,-68.3H-100.4M-95.9,-68.3H-94M-92.3,-68.3H-89.5M6.8,-68.3H8.7M26.8,-68.3H27.8M40.4,-68.3H41.4M44.9,-68.3H45.9M47.7,-68.3H48.7M52.2,-68.3H55M55.8,-68.3H67.7M69.5,-68.3H94.1M94.9,-68.3H95.9M-120.2,-69.2H-119.2M-117.5,-69.2H-116.5M-108.5,-69.2H-107.5M-101.3,-69.2H-94M7.6,-69.2H8.6M34.6,-69.2H36.5M38.2,-69.2H41M43.6,-69.2H44.6M46.3,-69.2H49.1M49.9,-69.2H56.3M76.9,-69.2H77.9M80.5,-69.2H83.3M-119.8,-70.1H-116.2M-109.2,-70.1H-106.4M-102.9,-70.1H-97.5M17.3,-70.1H18.3M25.3,-70.1H28.1M34.3,-70.1H36.1M36.9,-70.1H39.7M40.5,-70.1H42.3M44.9,-70.1H53M-118.6,-71H-115M-114.2,-71H-113.2M-112.4,-71H-111.5M-109.8,-71H-106.2M-104.5,-71H-103.5M15.4,-71H25.2M26.8,-71H28.7M31.3,-71H33.1M33.9,-71H35.7M37.4,-71H38.4M40.1,-71H47.2M-116.5,-71.8H-114.7M-113.9,-71.8H-107.7M10,-71.8H10.9M14.4,-71.8H21.4M23.9,-71.8H26.6M30.1,-71.8H32.8M34.4,-71.8H35.4M10.7,-72.7H12.6M15.1,-72.7H16M14,-73.5H15"/>
<path stroke="#18C0FA" d="M-61.1,52.2H-60M-62.5,51.2H-61.4M-62.9,50.2H-61.8M141.8,49.2H145.1M142.6,48.2H143.8M-62.2,46.2H-61M124.7,46.2H125.9M146.3,46.2H147.5M128.7,45.2H129.8M148.2,45.2H149.4M152.2,44.2H153.4M151.9,43.2H154.2M152.6,42.2H153.8M124.5,41.1H125.7M131.1,41.1H132.3M156.6,41.1H157.8M126.2,40.1H127.3M130.6,40.1H131.8M132.8,40.1H134M132.3,39.1H133.5M154.6,39.1H155.8M-65.6,38.1H-64.4M-65.9,37.1H-64.7M102.9,37.1H104.1M105.2,37.1H106.4M134.4,37.1H135.6M-49.2,36.1H-48M103.3,36.1H104.5M105.5,36.1H106.8M-51.8,34H-50.6M-53.1,33H-51.9M140.1,32H141.3M-54.5,31H-53.3M-45.4,31H-44.1M26.9,31H28.2M140.5,31H141.7M-61.6,30H-59.2M-54.7,30H-53.5M-45.5,30H-44.3M-54.8,29H-53.6M25.9,29H27.1M28.2,29H29.5M141.2,29H142.5M-59.6,27.9H-58.3M-55,27.9H-53.7M139.3,27.9H140.5M-62,26.9H-58.5M-56.3,25.9H-55.1M-43.6,25.9H-42.3M-62.3,24.9H-58.7M-49.5,24.9H-48.2M140.1,24.9H141.3M-63.5,23.9H-61.1M-60,23.9H-55.3M41.3,23.9H42.6M-62.5,22.9H-61.2M-55.5,22.9H-54.2M-43.8,22.9H-42.6M-40.3,22.9H-37.9M41.4,22.9H43.8M44.9,22.9H46.1M-63.7,21.8H-62.5M-47.4,21.8H-46.1M41.5,21.8H42.7M-63.8,20.8H-60.3M-55.7,20.8H-54.4M-49.8,20.8H-48.5M-46.3,20.8H-45M32.2,20.8H33.4M41.5,20.8H43.9M135.2,20.8H136.4M-61.6,19.8H-59.2M-55.7,19.8H-53.3M-51,19.8H-49.8M-45.2,19.8H-43.9M32.2,19.8H33.5M41.6,19.8H42.8M-65.2,18.8H-64M-62.9,18.8H-60.4M-59.3,18.8H-58.1M-38.2,18.8H-37M134.4,18.8H135.7M-67.7,17.8H-65.2M-60.6,17.8H-59.4M-55.9,17.8H-54.7M134.6,17.8H135.9M-71.3,16.8H-68.9M-54.8,16.8H-53.6M-40.7,16.8H-39.4M-38.3,16.8H-37.1M46.5,16.8H47.7M-71.4,15.8H-69M-54.9,15.8H-53.6M-51.3,15.8H-50.1M-49,15.8H-47.7M-43.1,15.8H-41.8M135,15.8H137.4M-71.5,14.7H-69M-49,14.7H-47.8M-39.6,14.7H-38.3M24.2,14.7H27.8M20.6,13.7H21.9M23,13.7H24.3M27.7,13.7H29M33.6,13.7H36.1M45.5,13.7H46.7M125.8,13.7H127.1M12.4,12.7H16M20.7,12.7H23.1M27.8,12.7H29M34.9,12.7H36.1M-50.4,11.7H-49.1M12.4,11.7H13.7M19.5,11.7H20.8M21.9,11.7H25.5M26.6,11.7H27.9M12.4,10.7H14.9M23.1,10.7H27.9M-75.4,9.7H-74.1M-48.1,9.7H-46.8M-41,9.7H-39.7M27.8,9.7H29.1M-41,8.6H-39.7M12.4,8.6H13.7M23.1,8.6H24.4M-43.4,7.6H-40.9M13.6,7.6H14.9M25.5,7.6H28M-41,6.6H-39.8M21.9,6.6H23.2M26.7,6.6H28M-43.4,5.6H-41M25.5,5.6H26.8M-76.8,4.6H-75.5M-42.3,4.6H-41M26.7,4.6H28M31.5,3.6H33.9M-76.8,2.5H-75.5M-43.5,2.5H-41M31.5,2.5H34M31.5,1.5H35.2M7.7,0.5H9M7.7,-0.5H9M27.9,-1.5H29.2M26.7,-2.5H28M5.3,-4.6H6.6M7.7,-5.6H9M-71.9,-6.6H-70.7M-64.8,-6.6H-63.5M-0.6,-6.6H0.6M1.7,-6.6H4.2M11.2,-6.6H12.5M-74.3,-7.6H-73M-70.7,-7.6H-69.4M-63.6,-7.6H-62.3M-8.9,-7.6H-6.5M-1.8,-7.6H-0.6M0.6,-7.6H3M4.1,-7.6H5.4M7.7,-7.6H8.9M-74.2,-8.6H-73M-69.5,-8.6H-67M-12.5,-8.6H-10M-12.5,-9.7H-10M75.3,-9.7H76.5M-71.7,-10.7H-69.3M-58.7,-10.7H-57.4M-70.5,-11.7H-69.2M-68.1,-11.7H-66.9M-61,-11.7H-58.6M94.1,-11.7H95.4M102.4,-11.7H103.7M-70.4,-12.7H-69.2M71.5,-12.7H72.8M94,-12.7H95.3M96.4,-12.7H97.7M98.8,-12.7H100M-84.6,-13.7H-83.3M93.9,-13.7H95.2M96.3,-13.7H98.7M99.8,-13.7H101.1M-86.8,-14.7H-85.6M88.6,-18.8H92.2M-95.6,-19.8H-94.4M-86.2,-19.8H-85M-83.9,-19.8H-82.6M-69.8,-19.8H-68.6M-67.5,-19.8H-65M88.5,-19.8H92.1M97.9,-19.8H100.3M101.4,-19.8H102.6M-95.5,-20.8H-94.2M-91.9,-20.8H-90.7M-86.1,-20.8H-84.8M87.2,-20.8H88.4M98.9,-20.8H100.1M-70.8,-21.8H-69.5M87,-21.8H88.3M-98.7,-22.9H-97.4M-74.1,-22.9H-72.9M-71.8,-22.9H-69.4M76.4,-22.9H77.6M98.6,-22.9H99.8M-77.5,-23.9H-72.8M97.2,-23.9H98.5M100.7,-23.9H102M103.1,-23.9H106.6M111.2,-23.9H112.5M-98.3,-24.9H-97.1M-78.5,-24.9H-73.8M95.9,-24.9H98.3M100.6,-24.9H101.8M102.9,-24.9H105.3M106.4,-24.9H107.6M108.7,-24.9H109.9M-98.1,-25.9H-96.9M85.3,-25.9H86.5M94.6,-25.9H95.8M98.1,-25.9H99.3M100.4,-25.9H102.8M105,-25.9H106.3M-75.9,-26.9H-74.7M82.8,-26.9H84M85.1,-26.9H86.4M92.1,-26.9H93.3M97.9,-26.9H99.1M100.2,-26.9H101.4M108.3,-26.9H110.7M-74.6,-27.9H-73.4M82.6,-27.9H83.9M90.7,-27.9H93.1M95.3,-27.9H96.6M108.1,-27.9H109.3M-98.7,-29H-97.4M-76.7,-29H-75.5M81.3,-29H83.7M96.3,-29H97.5M100.9,-29H102.1M109,-29H110.2M-76.5,-30H-73M83.4,-30H84.6M85.7,-30H86.9M90.3,-30H91.5M-75.2,-31H-74M70.5,-31H71.8M77.4,-31H78.6M86.6,-31H87.8M90,-31H91.3M94.6,-31H95.8M96.9,-31H98.1M-78.4,-32H-73.8M66.9,-32H68.1M72.6,-32H75M86.3,-32H87.6M88.6,-32H89.9M90.9,-32H93.3M95.5,-32H96.7M102.4,-32H103.6M104.6,-32H105.9M110.4,-32H111.6M-79.3,-33H-77M-75.9,-33H-73.5M65.5,-33H67.9M69,-33H70.2M87.2,-33H88.4M90.6,-33H93M95.2,-33H97.6M110,-33H111.3M-79.1,-34H-77.8M-76.8,-34H-74.4M97.2,-34H100.7M108.5,-34H109.8M118.8,-34H120M-75.4,-35.1H-71.9M105.9,-35.1H108.3M-79.7,-36.1H-78.4M-76.3,-36.1H-75.1M-72.9,-36.1H-70.5M-83.9,-37.1H-82.7M-80.5,-37.1H-78.2M-74.9,-37.1H-73.7M-72.6,-37.1H-69.2M114.2,-37.1H115.4M117.5,-37.1H118.7M-84.7,-38.1H-83.5M-77.9,-38.1H-76.7M-70.1,-38.1H-67.8M112.6,-38.1H113.8M119.3,-38.1H120.5M-82.1,-39.1H-80.9M-77.6,-39.1H-74.2M-72,-39.1H-70.9M-69.8,-39.1H-67.5M-82.9,-40.1H-81.7M-77.3,-40.1H-76.1M-75.1,-40.1H-73.9M-72.9,-40.1H-71.7M46.1,-40.1H48.4M-83.6,-41.1H-82.4M-75.9,-41.1H-74.7M-70.3,-41.1H-69.2M-108.6,-42.2H-107.4M-81,-42.2H-79.9M-73.3,-42.2H-72.2M-67.8,-42.2H-66.6M-65.6,-42.2H-64.4M-79.6,-43.2H-78.4M-68.6,-43.2H-67.4M112.4,-43.2H113.6M-106.5,-44.2H-105.3M-72.6,-44.2H-70.4M-69.4,-44.2H-68.2M-67.2,-44.2H-63.8M26.7,-44.2H27.9M33.3,-44.2H34.4M108.6,-44.2H109.7M110.8,-44.2H114.1M122.8,-44.2H123.9M-71.2,-45.2H-68.9M-67.9,-45.2H-66.8M9.2,-45.2H10.4M35.3,-45.2H37.5M38.5,-45.2H41.9M108,-45.2H110.3M124.3,-45.2H125.5M-69.7,-46.2H-65.3M-62.2,-46.2H-59.9M-8.1,-46.2H-7M9.1,-46.2H11.4M15.6,-46.2H16.8M17.8,-46.2H20M34,-46.2H35.2M38.3,-46.2H40.6M108.5,-46.2H110.8M-68.3,-47.2H-67.1M-64,-47.2H-61.7M-57.5,-47.2H-54.2M-8.1,-47.2H-5.9M-3.8,-47.2H-2.6M9.1,-47.2H10.2M15.5,-47.2H17.8M106.9,-47.2H110.2M112.2,-47.2H113.4M-69,-48.2H-67.8M-54,-48.2H-52.9M-0.6,-48.2H1.6M16.5,-48.2H18.7M106.3,-48.2H108.5M120.2,-48.2H121.3M-103.6,-49.2H-102.5M-68.6,-49.2H-67.4M-52.6,-49.2H-51.5M6.9,-49.2H9.1M17.5,-49.2H19.7M107.8,-49.2H108.9M-69.2,-50.2H-68.1M4.7,-50.2H5.9M19.5,-50.2H22.8M107.2,-50.2H108.3M116.7,-50.2H117.8M-102.4,-51.2H-101.3M-75.1,-51.2H-74M-69.9,-51.2H-68.7M-48.9,-51.2H-47.7M5.7,-51.2H6.9M11,-51.2H13.2M17.3,-51.2H18.4M119.1,-51.2H120.3M-101.8,-52.2H-100.7M-73.6,-52.2H-72.5M-70.5,-52.2H-69.4M8.8,-52.2H11M12,-52.2H13.1M16.1,-52.2H18.3M19.3,-52.2H21.4M101.7,-52.2H104.9M-48.3,-53.2H-47.1M4.6,-53.2H5.7M6.7,-53.2H8.9M12.9,-53.2H15.1M105.2,-53.2H108.4M113.5,-53.2H114.6M-93.3,-54.1H-88M-87.1,-54.1H-86M-81.9,-54.1H-80.8M-79.9,-54.1H-78.8M-68.6,-54.1H-67.4M-59.3,-54.1H-54M-2.6,-54.1H-1.5M5.6,-54.1H13.9M14.9,-54.1H16M105.6,-54.1H107.7M108.7,-54.1H109.8M-96.7,-55.1H-95.6M-94.7,-55.1H-92.6M-88.5,-55.1H-87.4M-81.4,-55.1H-80.3M-63,-55.1H-57.8M-56.8,-55.1H-54.7M-2.6,-55.1H-1.5M6.6,-55.1H8.7M9.7,-55.1H10.8M13.8,-55.1H14.9M68,-55.1H70.1M73.1,-55.1H75.2M97.7,-55.1H98.8M116.1,-55.1H117.2M-97.1,-56.1H-96M-82.8,-56.1H-81.7M-67.6,-56.1H-65.5M-63.5,-56.1H-62.4M-61.5,-56.1H-57.4M-56.4,-56.1H-53.3M-3.6,-56.1H-0.5M7.6,-56.1H8.7M11.6,-56.1H14.8M67.5,-56.1H68.6M74.6,-56.1H75.7M78.7,-56.1H79.8M84.8,-56.1H85.9M86.8,-56.1H87.9M95,-56.1H96M97,-56.1H98.1M106.1,-56.1H108.2M115.3,-56.1H116.4M-68.1,-57.1H-66M-62.1,-57.1H-61M-56,-57.1H-54.9M-54,-57.1H-52.9M68,-57.1H72.1M75.1,-57.1H76.2M85.2,-57.1H86.3M94.3,-57.1H97.4M105.3,-57.1H106.4M-85.6,-58H-83.5M-69.6,-58H-68.5M-67.6,-58H-65.5M-56.6,-58H-55.5M-3.5,-58H-2.5M11.5,-58H12.6M13.5,-58H14.6M69.5,-58H70.6M73.5,-58H75.6M76.5,-58H77.6M86.5,-58H88.6M93.5,-58H95.6M127.6,-58H128.7M-70.1,-59H-69M-67.1,-59H-66M-2.5,-59H-1.4M9.4,-59H11.5M14.4,-59H15.4M67,-59H69.1M73,-59H75M86.9,-59H88.9M92.8,-59H93.9M96.8,-59H97.9M99.8,-59H101.8M124.6,-59H128.6M-102,-60H-100.9M-83.3,-60H-82.2M-75.4,-60H-68.4M9.3,-60H11.4M17.2,-60H18.3M20.2,-60H21.2M29,-60H31.1M32,-60H33M43.8,-60H45.9M46.8,-60H47.8M64.5,-60H67.5M72.4,-60H73.4M86.2,-60H87.2M92.1,-60H93.1M94,-60H95.1M123.6,-60H124.7M-105.1,-60.9H-104M-103.1,-60.9H-101.1M-73.8,-60.9H-68.8M21,-60.9H22M25.9,-60.9H26.9M35.6,-60.9H37.7M39.5,-60.9H42.5M55.2,-60.9H56.2M63,-60.9H65M79.6,-60.9H80.7M81.5,-60.9H86.5M91.3,-60.9H93.4M124.5,-60.9H125.6M-104.2,-61.9H-102.2M-101.3,-61.9H-100.2M-81.9,-61.9H-80.9M-80,-61.9H-78.9M-78,-61.9H-77M-76.1,-61.9H-73.1M25.6,-61.9H26.7M48.9,-61.9H50.9M51.8,-61.9H54.8M55.7,-61.9H57.7M61.5,-61.9H64.5M78.9,-61.9H80.9M82.8,-61.9H92.6M122.5,-61.9H124.5M-104.3,-62.8H-102.3M-101.4,-62.8H-100.3M-83.1,-62.8H-81.1M-80.3,-62.8H-77.3M-76.4,-62.8H-73.4M8.1,-62.8H9.2M20.6,-62.8H21.7M52.3,-62.8H53.4M57.1,-62.8H59.1M60,-62.8H63M80.2,-62.8H81.2M83.1,-62.8H84.1M85.9,-62.8H92.7M99.4,-62.8H100.4M121.5,-62.8H122.5M-104.3,-63.7H-103.3M-101.5,-63.7H-100.4M-85.3,-63.7H-83.3M-82.4,-63.7H-77.6M21.4,-63.7H22.4M56.6,-63.7H61.5M77.6,-63.7H78.6M81.4,-63.7H86.2M91.9,-63.7H92.9M93.8,-63.7H94.8M95.7,-63.7H96.7M98.5,-63.7H101.5M-99.6,-64.7H-98.6M-90.2,-64.7H-89.1M-87.3,-64.7H-86.3M-85.4,-64.7H-84.4M-83.6,-64.7H-82.5M-81.7,-64.7H-78.8M44.8,-64.7H45.8M46.7,-64.7H47.7M53.3,-64.7H54.3M55.2,-64.7H56.2M58.9,-64.7H61.9M62.7,-64.7H63.7M75,-64.7H77M89.1,-64.7H93.9M97.6,-64.7H100.5M-105.2,-65.6H-104.2M-101.5,-65.6H-100.5M-98.7,-65.6H-96.7M-90.3,-65.6H-89.3M43.4,-65.6H44.5M48.1,-65.6H52.9M53.7,-65.6H54.7M60.3,-65.6H64.1M72.4,-65.6H73.4M82.7,-65.6H83.7M88.3,-65.6H90.3M91.1,-65.6H92.1M93,-65.6H94M96.7,-65.6H97.8M-111.7,-66.5H-110.7M-109.8,-66.5H-107.9M-106.1,-66.5H-105.1M-104.3,-66.5H-103.3M-102.4,-66.5H-101.4M-97.8,-66.5H-96.8M-95.9,-66.5H-91.2M6.9,-66.5H7.9M41.2,-66.5H45M48.6,-66.5H54.2M55.1,-66.5H56.1M61.6,-66.5H65.4M69.9,-66.5H71.8M81,-66.5H83.9M89.4,-66.5H90.4M91.2,-66.5H92.2M-117,-67.4H-116M-115.2,-67.4H-110.5M-105.1,-67.4H-104.1M-103.3,-67.4H-101.4M-100.5,-67.4H-99.5M-98.7,-67.4H-96.8M7.8,-67.4H8.8M41.7,-67.4H43.6M60.1,-67.4H61.1M82.1,-67.4H83.1M89.4,-67.4H90.4M-115.9,-68.3H-114.9M-110.5,-68.3H-108.6M-105,-68.3H-104M-102.3,-68.3H-101.3M-96.8,-68.3H-95.8M23.1,-68.3H25M25.9,-68.3H26.8M28.6,-68.3H29.6M38.6,-68.3H40.5M41.3,-68.3H45M45.9,-68.3H47.7M48.6,-68.3H52.3M-116.6,-69.2H-114.7M-103.1,-69.2H-101.2M8.5,-69.2H9.5M22,-69.2H23M24.7,-69.2H25.7M28.3,-69.2H29.3M33.7,-69.2H34.7M36.4,-69.2H38.3M41.8,-69.2H43.7M44.5,-69.2H46.4M49,-69.2H50M-116.3,-70.1H-113.5M-106.5,-70.1H-102.8M8.4,-70.1H9.4M18.2,-70.1H19.2M21.8,-70.1H25.4M28,-70.1H30.8M31.6,-70.1H34.3M36,-70.1H37M-115.1,-71H-114.1M-110.7,-71H-109.7M28.6,-71H29.6M30.4,-71H31.3M10.9,-71.8H12.7M12.5,-72.7H15.1M12.3,-73.5H14.1"/>
<path stroke="#A0D4F5" d="M-61.5,51.2H-60.3M126.2,47.2H127.4M146.6,47.2H147.8M125.4,45.2H126.6M153.3,44.2H154.5M154.8,42.2H157.1M-65.9,41.1H-64.7M125.6,41.1H126.8M-65.1,40.1H-63.9M131.7,40.1H132.9M156.2,40.1H157.4M-65.4,39.1H-64.2M133.4,39.1H134.6M132.8,38.1H134M-48,36.1H-46.8M-49.3,35.1H-48.1M104.8,35.1H106M138.1,34H139.3M-53.2,32H-52M-60.3,31H-59.1M28.1,31H29.3M28.1,30H29.4M-60.6,29H-59.4M-47.9,29H-46.7M-60.7,27.9H-59.5M-48,27.9H-45.6M-45.9,25.9H-44.7M-55.3,24.9H-54M-61.2,23.9H-60M-54.2,23.9H-53M-43.7,23.9H-42.5M-61.3,22.9H-60.1M-57.8,22.9H-55.4M-38,22.9H-36.7M-62.6,21.8H-61.3M-57.9,21.8H-54.3M-49.7,21.8H-48.5M-39.2,21.8H-36.8M-56.8,20.8H-55.6M-48.6,20.8H-47.4M-45.1,20.8H-43.9M-38.1,20.8H-36.8M-58.1,19.8H-55.7M-53.4,19.8H-52.1M33.4,19.8H34.6M135.4,19.8H136.7M-58.2,18.8H-55.7M-52.3,18.8H-51M136.8,18.8H138M-65.3,17.8H-61.7M-58.3,17.8H-55.8M-40.6,17.8H-39.4M-59.5,16.8H-57.1M-69,15.8H-67.8M-40.7,15.8H-38.3M44.2,15.8H45.4M-73.9,13.7H-71.5M21.8,13.7H23.1M24.2,13.7H25.5M26.6,13.7H27.8M-74,12.7H-71.5M-51.5,12.7H-50.2M23,12.7H24.3M26.6,12.7H27.8M13.6,11.7H18.4M25.4,11.7H26.7M-74.1,10.7H-72.9M18.3,10.7H20.8M21.9,10.7H23.2M12.4,9.7H13.7M21.9,9.7H23.2M24.3,9.7H25.5M26.6,9.7H27.9M-76.6,8.6H-75.3M-46.9,8.6H-45.7M16,8.6H17.3M26.7,8.6H29.1M-47,7.6H-45.7M14.8,7.6H16.1M-77.9,6.6H-76.6M-43.4,6.6H-42.1M14.8,6.6H16.1M23.1,6.6H24.4M-77.9,5.6H-74.3M-44.6,5.6H-43.4M-45.8,4.6H-43.4M-47,3.6H-45.8M-42.3,3.6H-41M-78,1.5H-76.7M7.7,1.5H9M-76.8,0.5H-75.6M-45.9,0.5H-44.6M12.4,-4.6H14.9M22,-4.6H23.2M-9,-5.6H-7.7M4.1,-5.6H5.4M8.9,-5.6H12.5M-70.7,-6.6H-69.5M-11.3,-6.6H-10.1M-3,-6.6H-0.6M0.6,-6.6H1.8M4.1,-6.6H5.4M6.5,-6.6H9M-11.3,-7.6H-10.1M75.4,-7.6H77.8M-80.2,-8.6H-78.9M-70.7,-8.6H-69.4M-8.9,-8.6H-7.7M75.3,-8.6H76.6M-63.5,-9.7H-62.2M76.5,-9.7H77.7M-81.2,-10.7H-80M-69.4,-10.7H-68.1M-63.5,-10.7H-58.6M-62.2,-11.7H-61M97.7,-11.7H98.9M101.1,-12.7H102.4M71.5,-13.7H72.7M-84.5,-14.7H-83.2M98.6,-14.7H99.8M-86.7,-15.8H-85.5M71.3,-15.8H72.6M98.4,-15.8H99.7M102,-15.8H103.2M-87.8,-16.8H-86.5M101.8,-16.8H103.1M-87.5,-18.8H-85.1M71,-18.8H72.3M93.3,-18.8H94.6M100.4,-18.8H101.6M-94.4,-19.8H-92M-89.7,-19.8H-88.5M-87.4,-19.8H-86.1M-82.7,-19.8H-81.5M70.9,-19.8H72.2M94.4,-19.8H96.8M-94.3,-20.8H-91.9M-83.8,-20.8H-82.5M-69.7,-20.8H-67.3M88.4,-20.8H89.6M90.7,-20.8H91.9M103.6,-20.8H104.8M91.3,-24.9H93.7M94.7,-24.9H96M105.2,-24.9H106.5M107.5,-24.9H108.8M91.1,-25.9H92.3M93.4,-25.9H94.7M102.7,-25.9H103.9M110.8,-25.9H112.1M-74.8,-26.9H-73.5M99,-26.9H100.3M103.6,-26.9H104.9M107.1,-26.9H108.4M111.8,-26.9H113M93,-27.9H94.3M97.6,-27.9H101.2M103.4,-27.9H108.1M-74.4,-29H-73.2M79,-29H80.2M94,-29H95.2M98.6,-29H101M102,-29H104.4M107.8,-29H109M86.8,-30H88.1M89.1,-30H90.4M93.7,-30H96.1M88.9,-31H90.1M92.3,-31H93.6M108.4,-31H109.6M68,-32H69.3M71.5,-32H72.7M87.5,-32H88.7M93.2,-32H95.6M96.6,-32H99M100.1,-32H102.4M108.1,-32H110.4M-77,-33H-75.8M67.8,-33H69.1M92.9,-33H94.1M97.5,-33H98.7M106.6,-33H107.8M108.9,-33H110.1M-77.9,-34H-76.7M-74.5,-34H-73.3M107.4,-34H108.6M-78.8,-35.1H-75.3M117.2,-35.1H118.5M-78.5,-36.1H-76.2M118.7,-37.1H119.9M124.3,-37.1H125.5M-76.8,-38.1H-75.6M113.7,-38.1H116M124.9,-38.1H126.1M-70.9,-39.1H-69.7M120,-39.1H121.2M124.4,-39.1H125.6M-69.5,-40.1H-67.2M45,-40.1H46.2M125,-40.1H126.2M-73.7,-41.1H-71.4M-67,-41.1H-65.8M-66.7,-42.2H-65.5M125.1,-42.2H126.2M-71.9,-43.2H-70.7M-67.5,-43.2H-66.3M-65.3,-43.2H-64.1M-70.4,-44.2H-69.3M-68.3,-44.2H-67.1M27.8,-44.2H29M32.2,-44.2H33.3M-105.9,-45.2H-104.8M-69,-45.2H-67.8M10.3,-45.2H11.4M37.4,-45.2H38.6M110.2,-45.2H111.4M112.4,-45.2H113.5M123.2,-45.2H124.4M-1.7,-46.2H-0.5M16.7,-46.2H17.9M111.8,-46.2H114M115,-46.2H116.2M121.5,-46.2H122.7M-61.8,-47.2H-59.6M-4.9,-47.2H-3.7M17.7,-47.2H18.8M110.1,-47.2H112.3M113.3,-47.2H114.5M115.5,-47.2H116.6M-67.9,-48.2H-63.5M114.8,-48.2H116M121.2,-48.2H123.5M-63.3,-49.2H-62.1M-53.7,-49.2H-52.6M108.9,-49.2H110M-103,-50.2H-101.9M-68.2,-50.2H-67M5.8,-50.2H6.9M8.9,-50.2H11.1M18.4,-50.2H19.6M-77.2,-51.2H-75M-60.4,-51.2H-59.3M-46.8,-51.2H-45.6M8.9,-51.2H11.1M18.3,-51.2H19.5M20.4,-51.2H21.6M107.6,-51.2H108.7M-76.8,-52.2H-75.6M-71.5,-52.2H-70.4M-48.6,-52.2H-47.4M-45.4,-52.2H-44.3M10.9,-52.2H12M18.2,-52.2H19.3M106.9,-52.2H108.1M114.2,-52.2H115.4M118.4,-52.2H119.5M-102.2,-53.2H-101.1M-78.3,-53.2H-76.2M-70,-53.2H-67.9M-60.7,-53.2H-59.6M-58.6,-53.2H-57.5M-47.2,-53.2H-45.1M8.8,-53.2H13M101.1,-53.2H105.3M111.4,-53.2H112.6M117.7,-53.2H118.8M-78.9,-54.1H-76.7M-70.6,-54.1H-69.5M-61.3,-54.1H-59.2M71.6,-54.1H72.7M99.4,-54.1H101.5M107.6,-54.1H108.7M111.7,-54.1H112.9M-95.7,-55.1H-94.6M-92.6,-55.1H-91.5M-90.6,-55.1H-88.5M-87.5,-55.1H-86.4M-76.3,-55.1H-75.2M-67.1,-55.1H-62.9M-57.9,-55.1H-56.7M70.1,-55.1H71.2M72.1,-55.1H73.2M98.7,-55.1H99.8M-96,-56.1H-95M-86.9,-56.1H-85.8M-81.8,-56.1H-80.7M-64.6,-56.1H-63.5M-57.4,-56.1H-56.3M72.6,-56.1H74.7M99,-56.1H100.1M104.1,-56.1H105.2M-99.4,-57.1H-97.3M-87.3,-57.1H-86.2M-82.2,-57.1H-81.1M-70.1,-57.1H-68M77.1,-57.1H82.2M84.2,-57.1H85.3M98.3,-57.1H99.4M104.3,-57.1H105.4M-72.6,-58H-69.5M78.5,-58H79.6M83.5,-58H84.6M95.5,-58H96.6M97.5,-58H98.6M100.5,-58H103.6M-85.9,-59H-83.9M-82,-59H-80.9M-76,-59H-74.9M-73,-59H-70M69,-59H73M74.9,-59H76M79.9,-59H81M85.9,-59H86.9M93.8,-59H94.9M95.8,-59H96.9M97.8,-59H99.8M-84.3,-60H-83.2M-76.4,-60H-75.3M12.3,-60H13.3M18.2,-60H19.3M31,-60H32.1M45.8,-60H46.8M73.4,-60H74.4M75.3,-60H76.4M80.3,-60H82.3M85.2,-60H86.2M93.1,-60H94.1M124.6,-60H126.6M-82.6,-60.9H-79.6M-78.7,-60.9H-75.7M16.1,-60.9H17.1M27.8,-60.9H28.9M32.7,-60.9H34.7M37.6,-60.9H39.6M42.5,-60.9H43.5M46.4,-60.9H48.4M64.9,-60.9H66M71.8,-60.9H74.8M78.6,-60.9H79.7M80.6,-60.9H81.6M122.6,-60.9H124.6M-102.3,-61.9H-101.2M-83.9,-61.9H-81.8M-80.9,-61.9H-79.9M-79,-61.9H-78M-77.1,-61.9H-76M8.2,-61.9H9.2M26.6,-61.9H27.7M47.9,-61.9H49M50.8,-61.9H51.9M54.7,-61.9H55.8M64.4,-61.9H65.4M77,-61.9H78M80.9,-61.9H81.9M121.6,-61.9H122.6M-100.4,-62.8H-99.4M-85.1,-62.8H-83.1M-81.2,-62.8H-80.2M19.7,-62.8H20.7M24.5,-62.8H25.5M39.8,-62.8H40.9M47.5,-62.8H49.5M55.2,-62.8H56.2M62.9,-62.8H64.9M77.3,-62.8H80.3M-99.5,-63.7H-98.5M-89.1,-63.7H-88M22.3,-63.7H24.3M39.5,-63.7H40.5M46.1,-63.7H48.1M51.9,-63.7H52.9M55.7,-63.7H56.7M61.4,-63.7H66.2M-104.3,-64.7H-102.4M-100.5,-64.7H-99.5M-98.7,-64.7H-97.6M-93,-64.7H-91M-89.2,-64.7H-88.2M-86.4,-64.7H-85.4M22.1,-64.7H25M39.1,-64.7H41.1M47.6,-64.7H49.6M51.4,-64.7H53.4M54.2,-64.7H55.2M61.8,-64.7H62.8M63.7,-64.7H65.6M-104.3,-65.6H-102.4M-99.6,-65.6H-98.6M-96.8,-65.6H-91.1M41.6,-65.6H43.5M44.4,-65.6H46.3M47.2,-65.6H48.2M64,-65.6H66.9M69.6,-65.6H70.6M71.5,-65.6H72.5M92.1,-65.6H93.1M-105.2,-66.5H-104.2M-103.3,-66.5H-102.3M-101.5,-66.5H-100.5M7.8,-66.5H8.8M45.8,-66.5H47.8M65.3,-66.5H70M-108.8,-67.4H-107.8M-101.4,-67.4H-100.4M-99.6,-67.4H-98.6M22.4,-67.4H23.4M24.3,-67.4H25.3M37.1,-67.4H38.1M40.8,-67.4H41.8M43.5,-67.4H47.3M-114.1,-68.3H-113.1M-111.4,-68.3H-110.4M-104.1,-68.3H-102.2M-100.5,-68.3H-96.7M22.2,-68.3H23.2M25,-68.3H25.9M27.7,-68.3H28.7M34.9,-68.3H38.7M-114.8,-69.2H-113.8M-110.3,-69.2H-108.4M-107.6,-69.2H-105.7M-104,-69.2H-103M22.9,-69.2H24.8M29.2,-69.2H32M32.8,-69.2H33.8M-113.6,-70.1H-111.7M-110,-70.1H-109.1M14.7,-70.1H17.4M19.1,-70.1H20.1M20.9,-70.1H21.9M30.7,-70.1H31.7M-113.3,-71H-112.4M-111.6,-71H-110.6M9.2,-71H10.2M11,-71H11.9M14.5,-71H15.5M13.5,-71.8H14.4"/>
<path stroke="#FFF580" d="M-61.8,50.2H-60.7M-63.6,48.2H-62.5M144.7,48.2H145.9M144.5,47.2H145.6M-63.2,46.2H-62.1M127.1,44.2H128.3M-64.2,43.2H-63M-65.6,42.2H-64.4M130,41.1H131.2M155.5,41.1H156.7M-66.2,40.1H-65M127.3,40.1H128.5M129.5,40.1H130.7M155.1,40.1H156.3M133.9,38.1H135.1M104,37.1H105.2M-48.2,35.1H-47M-50.6,34H-49.4M-51.9,33H-50.7M-53.4,31H-52.2M-53.5,30H-52.3M-47.8,30H-46.6M139.7,30H141M-55.1,26.9H-53.8M-49.3,26.9H-48M-61,25.9H-59.7M-55.2,25.9H-53.9M-44.8,24.9H-42.4M-50.7,23.9H-49.5M-44.9,23.9H-43.6M-40.2,23.9H-39M-60.1,22.9H-57.7M-54.3,22.9H-53.1M-61.4,21.8H-57.8M-54.4,21.8H-53.1M45,21.8H46.2M-60.3,20.8H-59.1M-53.3,20.8H-52.1M-39.3,20.8H-38M-59.3,19.8H-58M-52.2,19.8H-51M46.4,18.8H47.6M-61.8,17.8H-60.5M-38.3,17.8H-37M46.4,17.8H47.7M-67.8,16.8H-64.2M-60.7,16.8H-59.4M-56,16.8H-54.7M44.1,16.8H45.4M-59.6,15.8H-58.3M-59.7,14.7H-58.4M-53.8,14.7H-52.5M44.2,14.7H46.7M-71.6,13.7H-70.3M-52.6,13.7H-51.4M124.7,13.7H125.9M-74.1,11.7H-72.8M20.7,10.7H22M13.6,9.7H14.9M16,9.7H17.2M20.7,9.7H22M25.5,9.7H26.7M-75.4,8.6H-74.1M13.6,8.6H14.9M21.9,8.6H23.2M25.5,8.6H26.7M-76.6,7.6H-75.4M-45.8,7.6H-44.5M16,7.6H18.4M21.9,7.6H25.6M-76.7,6.6H-75.4M-45.8,6.6H-44.5M17.2,6.6H18.5M20.8,6.6H22M24.3,6.6H25.6M12.4,5.6H13.7M-77.9,4.6H-76.7M-75.6,4.6H-74.3M-43.5,4.6H-42.2M-76.8,3.6H-75.5M-43.5,3.6H-42.2M-78,2.5H-76.7M-75.6,2.5H-74.3M-44.7,1.5H-43.4M27.9,0.5H29.2M27.9,-0.5H29.2M24.3,-3.6H25.6M14.8,-4.6H16.1M-70.8,-5.6H-69.5M6.5,-5.6H7.8M-73.1,-6.6H-71.9M-79,-8.6H-77.7M-73,-8.6H-71.8M-10.1,-8.6H-8.9M-81.3,-9.7H-78.8M-71.8,-9.7H-70.5M97.6,-12.7H98.8M102.3,-12.7H103.6M98.7,-13.7H99.9M102.2,-13.7H103.5M70.2,-14.7H72.7M99.7,-14.7H101M-79.6,-15.8H-78.4M-81.9,-16.8H-79.5M71.2,-16.8H72.5M-87.7,-17.8H-86.4M71.1,-17.8H72.4M100.5,-17.8H101.8M-88.7,-18.8H-87.5M-85.2,-18.8H-83.9M98,-18.8H99.3M-88.6,-19.8H-87.3M-68.6,-19.8H-67.4M96.7,-19.8H98M102.6,-19.8H103.8M-84.9,-20.8H-83.7M-66.2,-20.8H-64.9M89.5,-20.8H90.8M101.2,-20.8H102.5M98.7,-21.8H100M91.4,-23.9H92.7M85.4,-24.9H86.7M93.6,-24.9H94.8M111,-24.9H112.3M103.9,-25.9H105.1M107.3,-25.9H109.7M84,-26.9H85.2M90.9,-26.9H92.1M93.2,-26.9H95.6M101.3,-26.9H102.6M104.8,-26.9H107.2M102.3,-27.9H103.5M80.1,-29H81.4M91.7,-29H92.9M104.3,-29H107.9M74.2,-30H76.5M84.5,-30H85.7M91.4,-30H93.8M98.3,-30H100.7M101.8,-30H103M106.4,-30H107.6M76.3,-31H77.5M87.7,-31H89M91.2,-31H92.4M93.5,-31H94.7M98.1,-31H102.7M103.8,-31H106.2M69.2,-32H71.5M98.9,-32H100.2M103.5,-32H104.7M105.8,-32H108.2M98.6,-33H99.8M107.8,-33H109M106.3,-34H107.5M120.2,-36.1H121.4M122.5,-36.1H123.7M119.8,-37.1H121M112.2,-39.1H113.4M114.4,-39.1H115.6M-71.8,-40.1H-70.6M120.6,-40.1H121.8M-69.2,-41.1H-66.9M113.4,-41.1H114.6M-70,-42.2H-67.7M-109.2,-43.2H-108M-70.8,-43.2H-68.5M110.2,-43.2H112.5M122.3,-43.2H124.5M28.9,-44.2H32.2M111.3,-45.2H112.4M113.5,-45.2H114.6M-105.4,-46.2H-104.2M-4.9,-46.2H-3.7M-2.7,-46.2H-1.6M37.2,-46.2H38.4M110.7,-46.2H111.9M113.9,-46.2H115.1M124.7,-46.2H125.9M-104.8,-47.2H-103.6M-59.7,-47.2H-58.5M114.4,-47.2H115.5M120.8,-47.2H122M-63.6,-48.2H-61.4M-57.2,-48.2H-56.1M-55.1,-48.2H-53.9M110.6,-48.2H111.7M113.8,-48.2H114.9M115.9,-48.2H117M-65.4,-49.2H-63.2M113.1,-49.2H114.3M116.3,-49.2H117.4M-67.1,-50.2H-66M6.8,-50.2H8M-68.8,-51.2H-67.7M-61.5,-51.2H-60.3M6.8,-51.2H9M108.6,-51.2H109.8M-77.8,-52.2H-76.7M-75.7,-52.2H-73.5M-69.4,-52.2H-68.3M-60.1,-52.2H-58.9M-47.5,-52.2H-46.4M108,-52.2H109.1M111.1,-52.2H112.2M-76.3,-53.2H-75.2M-73.2,-53.2H-70M-57.6,-53.2H-56.5M108.3,-53.2H109.5M110.4,-53.2H111.5M-67.5,-54.1H-66.4M-64.4,-54.1H-61.3M101.4,-54.1H102.6M103.5,-54.1H105.6M110.7,-54.1H111.8M116.9,-54.1H118M-91.6,-55.1H-90.5M-80.4,-55.1H-79.3M-78.3,-55.1H-76.2M-70.1,-55.1H-67M71.1,-55.1H72.2M99.7,-55.1H101.9M103.8,-55.1H108M-95,-56.1H-93.9M-93,-56.1H-91.9M-91,-56.1H-89.9M-80.8,-56.1H-79.7M-70.6,-56.1H-69.6M-68.6,-56.1H-67.5M68.5,-56.1H69.6M70.6,-56.1H71.7M100,-56.1H103.2M-97.4,-57.1H-96.3M-91.3,-57.1H-90.2M-74.2,-57.1H-73.1M82.2,-57.1H84.2M86.2,-57.1H87.3M102.3,-57.1H104.4M-98.6,-58H-97.5M-87.6,-58H-85.5M-80.6,-58H-79.5M-73.6,-58H-72.5M75.5,-58H76.6M77.5,-58H78.6M80.5,-58H81.6M96.5,-58H97.6M99.5,-58H100.6M-98.9,-59H-97.8M-86.9,-59H-85.9M-84,-59H-82.9M-78,-59H-76.9M-75,-59H-73M75.9,-59H80M94.8,-59H95.9M-82.3,-60H-80.3M-78.4,-60H-76.3M11.3,-60H12.4M19.2,-60H20.2M67.4,-60H69.5M70.4,-60H72.4M74.3,-60H75.4M76.3,-60H77.4M78.3,-60H79.3M82.2,-60H85.3M-101.2,-60.9H-100.1M-83.6,-60.9H-82.5M-79.7,-60.9H-78.6M9.2,-60.9H11.3M17.1,-60.9H18.1M20,-60.9H21M28.8,-60.9H30.8M31.7,-60.9H32.8M44.4,-60.9H45.5M65.9,-60.9H67M74.7,-60.9H76.7M77.6,-60.9H78.7M27.6,-61.9H28.6M33.4,-61.9H34.4M37.3,-61.9H38.3M40.2,-61.9H41.2M42.1,-61.9H43.2M66.3,-61.9H67.4M78,-61.9H79M-99.5,-62.8H-98.4M18.7,-62.8H19.7M49.4,-62.8H52.4M56.2,-62.8H57.2M64.8,-62.8H65.8M76.3,-62.8H77.4M-103.4,-63.7H-101.4M-90,-63.7H-89M-88.1,-63.7H-85.2M8.1,-63.7H9.1M17.6,-63.7H18.6M24.2,-63.7H27.2M48,-63.7H50M50.9,-63.7H51.9M52.8,-63.7H53.8M67.1,-63.7H68.1M69,-63.7H70M75.7,-63.7H77.6M-102.4,-64.7H-100.5M-97.7,-64.7H-95.7M-91.1,-64.7H-90.1M8,-64.7H9M15.5,-64.7H16.6M20.3,-64.7H22.2M25,-64.7H26M42.9,-64.7H44.9M49.5,-64.7H51.5M66.5,-64.7H67.5M69.3,-64.7H70.3M73.1,-64.7H75.1M-102.4,-65.6H-101.4M-100.6,-65.6H-99.6M7.9,-65.6H8.9M15.4,-65.6H16.4M21,-65.6H23.9M37.8,-65.6H38.8M39.7,-65.6H41.7M46.2,-65.6H47.3M-108,-66.5H-107M-100.6,-66.5H-98.6M21.7,-66.5H23.7M24.5,-66.5H25.5M37.5,-66.5H41.3M44.9,-66.5H45.9M-106,-67.4H-105M-104.2,-67.4H-103.2M20.6,-67.4H21.6M23.4,-67.4H24.4M25.2,-67.4H26.2M27,-67.4H28.9M36.2,-67.4H37.2M38,-67.4H40.9M-115,-68.3H-114M-108.6,-68.3H-107.6M-105.9,-68.3H-104.9M29.5,-68.3H30.5M33.1,-68.3H35M-113,-69.2H-112M-111.2,-69.2H-110.2M-104.9,-69.2H-103.9M9.4,-69.2H10.4M19.3,-69.2H21.2M31.9,-69.2H32.9M-111.8,-70.1H-110M9.3,-70.1H11.2M20,-70.1H21M10.1,-71H11.1M13.6,-71H14.6M12.6,-71.8H13.6"/>
<path stroke="#FFC018" d="M-63.3,49.2H-61.1M143.7,48.2H144.8M-64,47.2H-62.8M125.1,47.2H126.3M-64.3,46.2H-63.2M147.4,46.2H148.6M-64.7,45.2H-63.5M-63.9,44.2H-62.7M128.2,44.2H129.4M-65.3,43.2H-64.1M154.1,43.2H155.3M-64.5,42.2H-63.3M153.7,42.2H154.9M-64.8,41.1H-63.6M126.7,41.1H127.9M128.9,41.1H130.1M128.4,40.1H129.6M104.4,36.1H105.6M137.6,35.1H138.9M-49.5,34H-47.1M138.6,33H139.8M139.4,31H140.6M27,30H28.2M-53.7,29H-52.4M-49.1,29H-47.8M-53.8,27.9H-52.6M-49.2,27.9H-47.9M-50.6,24.9H-49.4M-48.3,24.9H-47.1M-41.4,23.9H-40.2M-59.2,20.8H-56.7M-51,20.8H-49.7M-39.3,19.8H-36.9M135.8,17.8H138.2M-64.2,16.8H-60.6M-57.2,16.8H-55.9M-39.5,16.8H-38.2M-67.9,15.8H-66.6M-62,15.8H-59.5M-58.4,15.8H-57.2M-56.1,15.8H-54.8M-58.5,14.7H-57.2M25.4,13.7H26.6M-71.6,12.7H-70.4M24.2,12.7H26.7M-72.9,11.7H-71.6M-75.3,10.7H-74M-50.4,10.7H-49.1M14.8,10.7H18.4M14.8,9.7H16.1M17.2,9.7H18.4M19.5,9.7H20.8M23.1,9.7H24.4M-48.1,8.6H-46.8M14.8,8.6H16.1M17.2,8.6H18.4M20.7,8.6H22M24.3,8.6H25.6M20.7,7.6H22M16,6.6H17.3M19.6,6.6H20.8M-45.8,5.6H-44.5M24.3,5.6H25.6M-47,4.6H-45.7M10.1,4.6H11.3M-75.6,3.6H-74.3M-45.8,3.6H-43.4M8.9,3.6H10.2M-44.7,2.5H-43.4M11.3,2.5H12.5M27.9,2.5H29.2M-45.9,1.5H-44.6M-47.1,0.5H-45.8M10.1,0.5H12.5M8.9,-0.5H10.2M20.8,-4.6H22M-69.6,-5.6H-68.3M5.3,-5.6H6.6M-74.3,-6.6H-73M-69.6,-6.6H-67.1M-63.6,-6.6H-62.3M5.3,-6.6H6.6M-73.1,-7.6H-70.6M-77.8,-8.6H-75.3M-71.9,-8.6H-70.6M-62.4,-8.6H-61.1M93.1,-8.6H94.4M-75.4,-9.7H-74.1M-57.6,-9.7H-56.3M93.1,-9.7H94.3M-80,-10.7H-77.6M101,-13.7H102.3M-83.3,-14.7H-82M-79.7,-14.7H-78.5M102.1,-14.7H103.4M-85.5,-15.8H-84.3M-80.8,-15.8H-79.6M-86.5,-17.8H-85.2M-84,-18.8H-82.8M92.2,-18.8H93.4M92,-19.8H94.4M-67.4,-20.8H-66.1M97.7,-20.8H99M102.4,-20.8H103.7M97.6,-21.8H98.8M86.9,-22.9H88.1M97.4,-22.9H98.7M86.8,-23.9H88M96.1,-23.9H97.3M106.2,-25.9H107.4M86.3,-26.9H87.5M83.8,-27.9H85M86.1,-27.9H87.3M94.2,-27.9H95.4M101.1,-27.9H102.3M89.3,-29H90.6M92.8,-29H94M76.5,-30H77.7M79.9,-30H81.1M88,-30H89.2M100.6,-30H101.9M102.9,-30H106.5M107.5,-30H108.8M102.7,-31H103.9M107.2,-31H108.5M116.8,-36.1H118M121.4,-36.1H122.6M111.2,-41.1H112.4M124.5,-41.1H125.7M-72.2,-42.2H-69.9M110.7,-42.2H111.9M-66.4,-43.2H-65.2M-7.1,-46.2H-4.8M-3.8,-46.2H-2.7M35.1,-46.2H37.3M123.7,-46.2H124.8M-104.2,-48.2H-103.1M-61.5,-48.2H-60.3M-56.1,-48.2H-55M108.4,-48.2H110.6M112.7,-48.2H113.8M-67.5,-49.2H-66.4M-62.2,-49.2H-61.1M114.2,-49.2H116.4M-66.1,-50.2H-64.9M-61.8,-50.2H-60.7M7.9,-50.2H9M108.2,-50.2H109.4M112.5,-50.2H113.6M115.6,-50.2H116.8M-67.8,-51.2H-66.6M-62.5,-51.2H-61.4M-47.8,-51.2H-46.7M19.4,-51.2H20.5M-62.1,-52.2H-60M-59,-52.2H-57.9M-54.8,-52.2H-53.7M-46.5,-52.2H-45.4M109,-52.2H111.2M-59.7,-53.2H-58.6M-56.6,-53.2H-55.4M109.4,-53.2H110.5M-105.6,-54.1H-104.5M-76.8,-54.1H-75.7M-69.6,-54.1H-68.5M-65.5,-54.1H-64.4M102.5,-54.1H103.6M-79.3,-55.1H-78.2M101.8,-55.1H103.9M-94,-56.1H-92.9M-92,-56.1H-90.9M-88.9,-56.1H-86.8M-79.8,-56.1H-76.7M-74.7,-56.1H-73.6M-69.6,-56.1H-68.5M69.6,-56.1H70.6M71.6,-56.1H72.7M103.1,-56.1H104.2M105.1,-56.1H106.2M-96.4,-57.1H-94.3M-92.3,-57.1H-91.2M-90.3,-57.1H-89.2M-88.3,-57.1H-87.2M-83.2,-57.1H-82.2M-80.2,-57.1H-79.1M-76.2,-57.1H-75.1M-73.2,-57.1H-70.1M99.3,-57.1H102.4M-99.6,-58H-98.5M-97.6,-58H-96.5M-91.6,-58H-90.5M-89.6,-58H-87.5M-83.6,-58H-80.5M-75.6,-58H-73.5M79.5,-58H80.6M82.5,-58H83.6M84.5,-58H86.6M98.5,-58H99.6M-97.9,-59H-95.8M-88.9,-59H-86.9M-83,-59H-81.9M-79,-59H-77.9M-77,-59H-75.9M80.9,-59H83M83.9,-59H85.9M-97.1,-60H-96M-86.2,-60H-85.2M-79.3,-60H-78.3M79.3,-60H80.3M-100.2,-60.9H-99.1M11.2,-60.9H13.2M30.7,-60.9H31.8M43.4,-60.9H44.5M45.4,-60.9H46.5M66.9,-60.9H67.9M69.8,-60.9H71.9M-100.3,-61.9H-99.3M-84.8,-61.9H-83.8M9.2,-61.9H10.2M16.9,-61.9H18M19.8,-61.9H21.8M28.5,-61.9H29.6M31.5,-61.9H33.5M36.3,-61.9H37.3M39.2,-61.9H40.3M41.1,-61.9H42.2M43.1,-61.9H44.1M45,-61.9H46.1M65.4,-61.9H66.4M68.3,-61.9H69.3M70.2,-61.9H71.3M75.1,-61.9H77.1M-87,-62.8H-85M9.1,-62.8H10.1M17.7,-62.8H18.8M25.4,-62.8H27.4M28.3,-62.8H29.3M38.9,-62.8H39.9M40.8,-62.8H42.8M46.6,-62.8H47.6M53.3,-62.8H55.3M65.8,-62.8H66.8M68.6,-62.8H69.7M70.6,-62.8H72.6M74.4,-62.8H75.5M-98.6,-63.7H-97.6M-93.8,-63.7H-92.8M-91.9,-63.7H-90.9M9,-63.7H10M13.8,-63.7H14.8M16.6,-63.7H17.7M18.5,-63.7H21.5M37.6,-63.7H39.6M40.4,-63.7H42.4M44.2,-63.7H45.3M50,-63.7H51M53.8,-63.7H55.7M68,-63.7H69.1M71.9,-63.7H75.7M8.9,-64.7H9.9M25.9,-64.7H26.9M37.2,-64.7H38.3M45.7,-64.7H46.8M65.5,-64.7H66.6M67.4,-64.7H69.4M70.3,-64.7H72.2M12.6,-65.6H13.6M23.8,-65.6H25.8M26.6,-65.6H27.6M36.9,-65.6H37.9M38.8,-65.6H39.8M66.8,-65.6H69.7M70.6,-65.6H71.6M15.2,-66.5H16.3M20.8,-66.5H21.8M23.6,-66.5H24.6M25.4,-66.5H26.4M27.3,-66.5H28.3M29.1,-66.5H30.1M-109.7,-67.4H-108.7M-106.9,-67.4H-105.9M8.7,-67.4H9.7M21.5,-67.4H22.5M26.1,-67.4H27.1M28.9,-67.4H30.8M34.4,-67.4H35.4M-113.2,-68.3H-111.3M-106.8,-68.3H-105.8M8.6,-68.3H9.6M15,-68.3H15.9M17.7,-68.3H18.7M20.4,-68.3H22.3M30.4,-68.3H33.2M-113.9,-69.2H-112.9M-112.1,-69.2H-111.1M-105.8,-69.2H-104.8M14.8,-69.2H15.8M16.6,-69.2H17.6M18.4,-69.2H19.4M21.1,-69.2H22.1M11.1,-70.1H12.1M13.8,-70.1H14.7M11.9,-71H12.8"/>
<path stroke="#FF7800" d="M-62.5,48.2H-61.4M-63.6,45.2H-62.4M127.6,45.2H128.7M-65,44.2H-63.8M127.8,41.1H129M-46.2,33H-45M-52.1,32H-50.9M-46.4,32H-45.2M139,32H140.2M-52.2,31H-51M-48.8,31H-47.6M-46.5,31H-45.3M-48.9,30H-47.7M-50.3,27.9H-49.1M-50.4,26.9H-49.2M-48.1,26.9H-46.9M-48.2,25.9H-47M-54.1,24.9H-52.9M-42.5,24.9H-41.2M45,20.8H46.3M-39.4,18.8H-38.1M45.2,18.8H46.4M135.6,18.8H136.9M-39.4,17.8H-38.2M-64.3,15.8H-61.9M-57.2,15.8H-56M45.4,15.8H46.6M-69.1,14.7H-67.9M-70.4,13.7H-69.1M-64.5,13.7H-63.2M-59.7,13.7H-58.5M-52.7,12.7H-51.4M-51.6,11.7H-50.3M-72.9,10.7H-71.7M-51.6,10.7H-50.3M-74.2,9.7H-72.9M-49.3,9.7H-48M18.3,9.7H19.6M-74.2,8.6H-73M-75.5,7.6H-73M18.4,7.6H19.6M-75.5,6.6H-74.2M-47,6.6H-45.7M18.4,6.6H19.6M-47,5.6H-45.7M10.1,3.6H12.5M-47,2.5H-44.6M10.1,2.5H11.3M8.9,1.5H12.5M10.1,-0.5H12.5M8.9,-1.5H11.3M25.5,-2.5H26.8M-70.8,-4.6H-69.5M8.9,-4.6H10.1M-67.2,-5.6H-64.8M-10.1,-6.6H-7.7M-69.5,-7.6H-68.3M-56.5,-7.6H-54M-10.1,-7.6H-8.9M-75.4,-8.6H-74.1M-58.8,-8.6H-57.5M-56.4,-8.6H-55.2M76.5,-8.6H77.8M-77.7,-9.7H-76.5M-69.4,-9.7H-68.2M-59.9,-9.7H-57.5M-82.3,-11.7H-78.7M-79.9,-12.7H-78.6M70.4,-12.7H71.6M-84.4,-15.8H-83.1M-82,-15.8H-80.7M100.8,-15.8H102.1M-83.1,-16.8H-81.8M98.3,-16.8H99.6M100.7,-16.8H101.9M-85.3,-17.8H-84.1M92.3,-17.8H93.5M98.2,-17.8H99.4M99.2,-18.8H100.5M91.9,-20.8H94.3M90.6,-21.8H91.8M112.4,-23.9H113.6M90.1,-24.9H91.3M112,-25.9H113.2M102.5,-26.9H103.7M89.6,-27.9H90.8M83.6,-29H84.8M78.8,-30H80M72.8,-31H76.3M106.1,-31H107.3M119.5,-35.1H120.7M123.2,-37.1H124.4M120.5,-38.1H121.7M123.8,-38.1H125M121.1,-39.1H122.3M111.7,-40.1H112.9M113.9,-40.1H115.1M123.9,-40.1H125.1M-71.4,-41.1H-70.3M111.8,-42.2H113M122.8,-42.2H125.1M-108.1,-43.2H-106.9M-108.7,-44.2H-107.5M123,-47.2H125.2M-58.3,-48.2H-57.1M111.6,-48.2H112.8M-66.4,-49.2H-65.3M-61.1,-49.2H-60M111,-49.2H112.1M-62.9,-50.2H-61.8M-60.8,-50.2H-58.6M-65.7,-51.2H-64.5M-59.4,-51.2H-58.2M109.7,-51.2H112.9M114.9,-51.2H116.1M-102.8,-52.2H-101.7M-68.4,-52.2H-66.2M-58,-52.2H-55.8M-75.2,-53.2H-73.1M-68,-53.2H-65.8M-63.8,-53.2H-62.7M-61.7,-53.2H-60.6M112.5,-53.2H113.6M-75.8,-54.1H-73.6M-71.6,-54.1H-70.5M-66.5,-54.1H-65.4M-104.9,-55.1H-103.8M-75.2,-55.1H-73.1M-72.2,-55.1H-70.1M-101.1,-56.1H-100M-90,-56.1H-88.9M-76.7,-56.1H-74.6M-73.7,-56.1H-72.6M-71.7,-56.1H-70.6M-100.4,-57.1H-99.3M-94.3,-57.1H-92.2M-89.3,-57.1H-88.2M-81.2,-57.1H-80.1M-77.2,-57.1H-76.1M-96.6,-58H-95.5M-90.6,-58H-89.5M-77.6,-58H-75.5M81.5,-58H82.6M-101.8,-59H-100.8M-89.9,-59H-88.8M-81,-59H-78.9M82.9,-59H84M-101,-60H-100M-98.1,-60H-97M-87.2,-60H-86.2M-85.3,-60H-84.2M-80.3,-60H-79.3M69.4,-60H70.5M77.3,-60H78.4M-98.2,-60.9H-97.2M-96.3,-60.9H-95.2M-85.5,-60.9H-83.5M19,-60.9H20.1M67.9,-60.9H69.9M76.7,-60.9H77.7M-99.4,-61.9H-98.3M-85.8,-61.9H-84.7M29.5,-61.9H31.5M34.4,-61.9H36.4M38.2,-61.9H39.3M46,-61.9H48M69.2,-61.9H70.3M71.2,-61.9H75.1M-95.6,-62.8H-94.6M-91.8,-62.8H-87.9M12.9,-62.8H14.9M27.3,-62.8H28.4M42.7,-62.8H43.7M45.6,-62.8H46.6M66.7,-62.8H67.8M69.6,-62.8H70.6M75.4,-62.8H76.4M-92.9,-63.7H-91.9M-91,-63.7H-89.9M27.1,-63.7H30M36.6,-63.7H37.7M45.2,-63.7H46.2M66.1,-63.7H67.2M70.9,-63.7H71.9M-94.9,-64.7H-92.9M16.5,-64.7H17.5M18.4,-64.7H20.3M27.8,-64.7H28.8M35.4,-64.7H37.3M38.2,-64.7H39.2M41,-64.7H43M72.2,-64.7H73.2M8.8,-65.6H9.9M16.3,-65.6H18.3M19.1,-65.6H20.1M25.7,-65.6H26.7M28.5,-65.6H29.5M31.3,-65.6H32.3M36,-65.6H37M8.8,-66.5H9.8M16.2,-66.5H17.2M18,-66.5H19M26.4,-66.5H27.4M35.6,-66.5H36.6M-107.9,-67.4H-106.9M18.8,-67.4H19.8M35.3,-67.4H36.3M-107.7,-68.3H-106.7M9.5,-68.3H10.5M16.8,-68.3H17.8M18.6,-68.3H20.5M10.3,-69.2H11.3M13,-69.2H14.9M15.7,-69.2H16.7M17.5,-69.2H18.5M12,-70.1H13.8M12.7,-71H13.7"/>
<path stroke="#FC0000" d="M-62.9,47.2H-61.7M145.6,47.2H146.7M125.8,46.2H128.1M126.5,45.2H127.7M-47.2,34H-46M-50.8,33H-46.2M-47.5,32H-46.3M-47.7,31H-46.4M-52.4,30H-51.2M-52.5,29H-51.3M-50.2,29H-49M-51.5,27.9H-50.2M-53.9,26.9H-52.7M-51.6,26.9H-50.4M-51.7,25.9H-50.5M-53,24.9H-51.7M-51.9,23.9H-50.6M-53.2,21.8H-52M-52.1,20.8H-50.9M45.2,17.8H46.5M45.3,16.8H46.6M136,16.8H137.3M-66.7,15.8H-64.2M-64.4,14.7H-59.6M-56.1,14.7H-53.7M-69.2,13.7H-67.9M-62.1,13.7H-60.8M-53.8,13.7H-52.6M-71.7,11.7H-70.4M-52.7,11.7H-51.5M-73,9.7H-71.7M-49.3,8.6H-48M18.4,8.6H20.8M-48.1,7.6H-46.9M19.6,7.6H20.8M11.3,4.6H12.5M26.7,3.6H28M8.9,2.5H10.2M12.5,2.5H13.7M-75.6,1.5H-74.4M-72.1,1.5H-70.8M-47.1,1.5H-45.8M27.9,1.5H29.2M8.9,0.5H10.2M-72.1,-0.5H-70.8M26.7,-1.5H28M-68.5,-3.6H-67.2M23.2,-3.6H24.4M-74.4,-4.6H-73.1M-69.6,-4.6H-67.2M11.3,-4.6H12.5M16,-4.6H17.3M19.6,-4.6H20.9M-74.3,-5.6H-70.7M-68.4,-5.6H-67.1M-57.7,-6.6H-56.4M-52.9,-6.6H-50.5M-62.4,-7.6H-61.1M-58.8,-7.6H-56.4M-57.6,-8.6H-56.3M-78.9,-9.7H-77.7M-70.6,-9.7H-69.3M-62.3,-9.7H-59.9M-81.1,-12.7H-79.8M-83.4,-13.7H-82.1M-81,-13.7H-79.7M70.3,-13.7H71.6M-82.1,-14.7H-80.8M100.9,-14.7H102.2M-83.2,-15.8H-81.9M-86.6,-16.8H-85.4M95.4,-20.8H96.6M88.2,-21.8H90.6M88.1,-22.9H89.3M91.6,-22.9H94M96.2,-22.9H97.5M87.9,-23.9H89.2M90.3,-23.9H91.5M92.6,-23.9H95M86.6,-24.9H87.8M86.4,-25.9H88.8M89.7,-26.9H91M84.7,-29H89.4M77.6,-30H78.8M118.4,-35.1H119.6M119.1,-36.1H120.3M120.9,-37.1H123.2M113.3,-39.1H114.5M121.7,-40.1H122.9M122.3,-41.1H124.6M122.6,-46.2H123.7M121.9,-47.2H123.1M-59.3,-48.2H-58.2M-54.8,-49.2H-53.6M109.9,-49.2H111.1M112.1,-49.2H113.2M-65,-50.2H-62.8M-54.4,-50.2H-53.3M109.3,-50.2H112.5M113.5,-50.2H114.7M-66.7,-51.2H-65.6M-64.6,-51.2H-62.4M-58.3,-51.2H-57.2M112.8,-51.2H115M-66.3,-52.2H-64.1M-63.2,-52.2H-62.1M-55.9,-52.2H-54.8M112.2,-52.2H114.3M-65.9,-53.2H-63.7M-62.8,-53.2H-61.7M-102.6,-54.1H-101.4M-73.7,-54.1H-71.6M-73.2,-55.1H-72.1M-79.2,-57.1H-77.1M-75.2,-57.1H-74.1M-102.6,-58H-101.5M-95.6,-58H-94.5M-79.6,-58H-77.5M-90.9,-59H-89.8M-96.1,-60H-94M-88.2,-60H-87.1M-97.3,-60.9H-96.2M-95.3,-60.9H-92.3M-86.5,-60.9H-85.5M18,-60.9H19.1M-95.5,-61.9H-92.5M10.1,-61.9H11.2M12.1,-61.9H14.1M17.9,-61.9H18.9M44,-61.9H45.1M67.3,-61.9H68.4M-98.5,-62.8H-97.5M-94.7,-62.8H-93.6M-87.9,-62.8H-86.9M29.3,-62.8H31.3M32.1,-62.8H38.9M67.7,-62.8H68.7M72.5,-62.8H74.5M-97.6,-63.7H-93.8M12.8,-63.7H13.8M30.9,-63.7H31.9M34.7,-63.7H35.7M42.3,-63.7H44.3M69.9,-63.7H71M-95.8,-64.7H-94.8M9.9,-64.7H10.9M17.4,-64.7H18.4M26.9,-64.7H27.9M28.7,-64.7H29.8M31.6,-64.7H32.6M33.5,-64.7H35.4M18.2,-65.6H19.2M27.5,-65.6H28.6M29.4,-65.6H31.4M32.2,-65.6H33.2M35,-65.6H36M9.7,-66.5H10.7M11.5,-66.5H13.5M17.1,-66.5H18.1M19.9,-66.5H20.9M31,-66.5H32.9M34.7,-66.5H35.7M36.6,-66.5H37.6M9.6,-67.4H11.5M12.3,-67.4H13.3M14.2,-67.4H15.2M16,-67.4H17.9M19.7,-67.4H20.7M30.7,-67.4H32.6M33.5,-67.4H34.5M10.4,-68.3H12.3M13.1,-68.3H15M11.2,-69.2H13.1"/>
<path stroke="#D42828" d="M-51,32H-47.4M-51.1,31H-48.7M-51.2,30H-48.9M-46.6,30H-45.4M-51.4,29H-50.1M-46.8,29H-45.5M-52.6,27.9H-51.4M-52.8,26.9H-51.5M-54,25.9H-51.6M-50.5,25.9H-48.1M-51.8,24.9H-50.6M-53.1,23.9H-51.8M-53.1,22.9H-49.6M-52.1,21.8H-50.8M45.1,19.8H46.4M-67.9,14.7H-64.3M-57.3,14.7H-56M-68,13.7H-64.4M-63.3,13.7H-62M-60.9,13.7H-59.7M-58.6,13.7H-53.7M-70.4,12.7H-52.6M-70.5,11.7H-52.7M-71.7,10.7H-51.5M116.7,10.7H120.3M-71.8,9.7H-49.2M107.3,9.7H116.9M118,9.7H121.6M132.2,9.7H137M138.1,9.7H141.8M-73,8.6H-49.2M101.4,8.6H117M131.1,8.6H141.9M-73.1,7.6H-48.1M99.1,7.6H108.7M131.2,7.6H140.8M-74.3,6.6H-46.9M99.2,6.6H102.8M103.9,6.6H106.4M131.3,6.6H144.4M-74.3,5.6H-46.9M13.6,5.6H24.4M96.9,5.6H101.7M113.5,5.6H114.8M115.9,5.6H117.1M129,5.6H139.7M140.8,5.6H145.7M-74.4,4.6H-46.9M12.4,4.6H26.8M96.9,4.6H101.7M107.6,4.6H110.1M113.5,4.6H117.2M125.4,4.6H138.6M143.3,4.6H145.7M-74.4,3.6H-47M12.5,3.6H26.8M95.7,3.6H101.8M105.3,3.6H111.3M112.4,3.6H117.2M121.9,3.6H124.4M125.5,3.6H137.5M143.3,3.6H145.8M-74.4,2.5H-47M13.6,2.5H28M95.8,2.5H100.6M104.1,2.5H111.3M112.4,2.5H117.3M125.5,2.5H135.1M-74.4,1.5H-72M-70.9,1.5H-47M12.5,1.5H28M94.6,1.5H100.6M104.1,1.5H118.5M124.4,1.5H128M-75.6,0.5H-47M12.5,0.5H28M94.6,0.5H99.5M102.9,0.5H112.5M113.7,0.5H116.1M124.4,0.5H128M-75.6,-0.5H-72M-70.9,-0.5H-47M12.5,-0.5H28M93.4,-0.5H99.5M102.9,-0.5H118.5M120.8,-0.5H123.3M-75.6,-1.5H-47M11.3,-1.5H26.8M93.4,-1.5H99.4M102.9,-1.5H113.7M114.8,-1.5H117.3M120.8,-1.5H123.2M-75.6,-2.5H-47M8.9,-2.5H25.6M92.2,-2.5H99.4M104.1,-2.5H112.5M-74.4,-3.6H-68.4M-67.3,-3.6H-47M8.9,-3.6H23.2M91,-3.6H99.4M105.3,-3.6H112.5M-73.2,-4.6H-70.7M-67.2,-4.6H-48.1M10.1,-4.6H11.3M17.2,-4.6H19.7M90.9,-4.6H99.3M107.6,-4.6H113.6M-64.8,-5.6H-49.3M90.9,-5.6H93.4M94.5,-5.6H99.3M108.7,-5.6H113.6M-62.4,-6.6H-57.6M-56.5,-6.6H-52.8M94.4,-6.6H98.1M109.9,-6.6H113.5M118.2,-6.6H120.7M-61.2,-7.6H-58.7M93.2,-7.6H96.8M109.8,-7.6H112.3M116.9,-7.6H120.6M-61.2,-8.6H-58.7M115.7,-8.6H120.5M-76.5,-9.7H-75.3M110.9,-9.7H113.3M116.8,-9.7H120.4M93,-10.7H94.3M112,-10.7H113.2M115.5,-10.7H119.2M92.9,-11.7H94.2M111.9,-11.7H114.3M115.4,-11.7H119.1M-82.3,-12.7H-81M92.8,-12.7H94.1M115.3,-12.7H119M-82.2,-13.7H-80.9M-79.8,-13.7H-78.6M92.7,-13.7H94M116.4,-13.7H118.8M-80.9,-14.7H-79.7M92.6,-14.7H93.9M113.9,-14.7H117.5M92.5,-15.8H93.8M99.6,-15.8H100.9M112.6,-15.8H116.2M-85.4,-16.8H-83M92.4,-16.8H93.7M99.5,-16.8H100.7M112.4,-16.8H114.9M-84.1,-17.8H-82.9M99.3,-17.8H100.6M112.3,-17.8H115.9M112.1,-18.8H115.7M111.9,-19.8H115.5M94.2,-20.8H95.5M96.5,-20.8H97.8M91.7,-21.8H97.6M89.2,-22.9H91.7M93.9,-22.9H96.3M89.1,-23.9H90.3M94.9,-23.9H96.2M87.8,-24.9H90.2M112.2,-24.9H113.4M88.8,-25.9H91.2M87.4,-26.9H89.8M84.9,-27.9H86.2M87.2,-27.9H89.6M118,-36.1H119.2M121.6,-38.1H123.9M122.2,-39.1H124.5M112.8,-40.1H114M122.8,-40.1H124M112.3,-41.1H113.5M-107.6,-44.2H-106.4M-108.1,-45.2H-105.9M-107.5,-46.2H-105.3M-107,-47.2H-104.7M-106.4,-48.2H-104.1M-60.4,-48.2H-59.3M-105.8,-49.2H-103.6M-60.1,-49.2H-54.7M-105.1,-50.2H-103M-58.7,-50.2H-54.4M114.6,-50.2H115.7M-105.6,-51.2H-102.3M-57.3,-51.2H-54M-104.9,-52.2H-102.8M-64.2,-52.2H-63.1M-105.3,-53.2H-102.1M-104.6,-54.1H-102.5M-103.9,-55.1H-100.7M-104.2,-56.1H-101M-72.7,-56.1H-71.6M-103.4,-57.1H-100.3M-101.6,-58H-99.5M-94.6,-58H-91.5M-100.8,-59H-98.8M-95.9,-59H-90.8M-100,-60H-98M-94.1,-60H-88.1M-99.2,-60.9H-98.2M-92.4,-60.9H-86.4M-98.4,-61.9H-95.4M-92.6,-61.9H-85.7M11.1,-61.9H12.2M18.9,-61.9H19.9M-97.5,-62.8H-95.5M-93.7,-62.8H-91.7M10,-62.8H13M31.2,-62.8H32.2M43.7,-62.8H45.7M10,-63.7H12.9M30,-63.7H31M31.9,-63.7H34.8M35.7,-63.7H36.7M10.8,-64.7H13.7M29.7,-64.7H31.7M32.5,-64.7H33.5M9.8,-65.6H12.7M20.1,-65.6H21.1M33.2,-65.6H35.1M10.6,-66.5H11.6M13.4,-66.5H14.4M19,-66.5H20M28.2,-66.5H29.2M30.1,-66.5H31.1M32.8,-66.5H34.8M11.4,-67.4H12.4M13.3,-67.4H14.3M17.9,-67.4H18.9M32.5,-67.4H33.5M12.2,-68.3H13.2"/>
</g>
<use href="#C"/><use href="#O"/>
</g>
<!-- map 3 -->
<g transform="translate(174.9,497)">
<g shape-rendering="crispEdges" fill="none" stroke-width="1.09">
<use href="#L" stroke="#FFF060"/>
<path stroke="#4010F0" d="M-65.3,-43.2H-64.1"/>
<path stroke="#4068E0" d="M113.3,-39.1H114.5M-66.4,-43.2H-65.2M-65,-44.2H-63.8M5.8,-49.2H6.9M5.8,-50.2H6.9M4.6,-54.1H5.7"/>
<path stroke="#08A8F8" d="M112.8,-40.1H114M-66.1,-44.2H-64.9M98.2,-45.2H99.4M4.8,-48.2H7M3.7,-49.2H5.9M6.9,-49.2H9.1M0.5,-50.2H1.6M3.7,-50.2H5.9M6.8,-50.2H9M0.5,-51.2H7.9M56.1,-51.2H57.3M-0.6,-52.2H2.6M5.7,-52.2H8.9M0.5,-53.2H9.9M0.5,-54.1H4.7M5.6,-54.1H8.8M5.6,-55.1H7.7M-59,-57.1H-57.9M-57,-57.1H-55.9M-55.6,-58H-54.5M-53.6,-58H-52.5M-58.1,-59H-57.1M-56.1,-59H-55.1M-5.5,-59H-4.4M-55.7,-60H-52.7M79.9,-65.6H80.9M-86.7,-66.5H-85.7M79.2,-66.5H80.2M13.3,-67.4H14.3M72,-67.4H73M12.2,-68.3H15M76.7,-68.3H78.6M94.9,-68.3H95.9M96.7,-68.3H97.7M13,-69.2H14M14.8,-69.2H15.8M33.7,-69.2H34.7M35.5,-69.2H36.5M37.3,-69.2H38.3M76.9,-69.2H77.9M93.1,-69.2H94.1M94.9,-69.2H95.9M15.5,-70.1H16.5M32.5,-70.1H37M91.3,-70.1H92.2M19.8,-71H20.8M33,-71H34M36.5,-71H37.5M89.4,-71H90.4M78,-71.8H79M88.5,-71.8H89.5M87.6,-72.7H88.5"/>
<path stroke="#98D0F0" d="M-56.8,55.1H-55.7M-58.3,54.1H-56.1M-58.6,53.2H-55.4M-59,52.2H-56.8M-59.4,51.2H-58.2M-59,49.2H-57.9M-60.4,48.2H-57.1M-60.7,47.2H-57.4M-61.1,46.2H-57.8M-61.4,45.2H-60.2M-64.2,39.1H-63M-64.5,38.1H-63.3M-64.7,37.1H-63.5M-65,36.1H-63.8M-65.2,35.1H-64M-65.4,34H-64.2M-65.6,33H-64.4M-65.8,32H-64.6M18.8,32H20.1M110.4,32H112.7M-66,31H-64.8M18.9,31H20.1M-66.2,30H-65M15.5,30H16.7M18.9,30H20.2M21.2,30H22.5M122.5,30H127.2M-66.4,29H-65.1M16.7,29H17.9M121.6,29H122.9M123.9,29H127.5M-66.5,27.9H-65.3M21.3,27.9H24.9M20.2,26.9H21.5M123.3,26.9H124.6M19.1,25.9H20.4M21.4,25.9H22.7M15.7,24.9H16.9M18,24.9H21.6M16.9,23.9H19.3M12.2,22.9H13.5M-53.2,21.8H-52M20.4,21.8H21.7M-60,8.6H-57.5M-62.4,7.6H-58.7M-63.6,6.6H-58.8M133.6,6.6H134.9M-63.6,5.6H-60M129,5.6H132.6M-67.2,4.6H-61.2M127.8,4.6H136.2M-68.5,3.6H-61.2M130.2,3.6H135.1M-68.5,2.5H-62.4M-69.7,1.5H-62.5M-69.7,0.5H-64.8M-57.7,-4.6H-54.1M38.6,-4.6H43.5M-57.7,-5.6H-54.1M38.6,-5.6H43.4M-57.7,-6.6H-54M37.4,-6.6H43.4M-1.8,-7.6H-0.6M37.4,-7.6H42.2M37.3,-8.6H43.4M37.3,-9.7H43.3M37.3,-10.7H42.1M39.6,-11.7H42.1M43.8,-21.8H45M5.2,-23.9H6.4M47,-25.9H48.2M-5.3,-26.9H-4M22.6,-26.9H23.8M41.1,-26.9H42.3M45.7,-26.9H47M-1.8,-27.9H-0.5M8.6,-27.9H9.9M5.2,-29H6.4M44.3,-30H45.5M5.1,-31H6.4M-7.5,-32H-6.3M9.7,-32H10.9M-105.6,-33H-104.3M-0.6,-33H0.6M15.4,-33H16.6M-97.3,-34H-96M-9.7,-34H-8.5M11.9,-34H13.1M17.6,-34H18.8M-5.1,-35.1H-3.9M-0.6,-35.1H0.6M5.1,-35.1H6.3M120.2,-36.1H121.4M-2.9,-37.1H-1.6M1.6,-37.1H2.9M114.2,-37.1H115.4M119.8,-37.1H122.1M-94.8,-38.1H-93.6M-90.3,-38.1H-89.1M0.5,-38.1H1.7M112.6,-38.1H116M119.3,-38.1H125M112.2,-39.1H113.4M114.4,-39.1H115.6M120,-39.1H125.6M-89.5,-40.1H-88.4M111.7,-40.1H112.9M113.9,-40.1H115.1M120.6,-40.1H126.2M90.2,-41.1H91.4M112.3,-41.1H114.6M122.3,-41.1H125.7M94.2,-42.2H95.4M122.8,-42.2H126.2M76.2,-43.2H77.4M83.9,-43.2H85.1M90.5,-43.2H92.7M94.8,-43.2H96M122.3,-43.2H124.5M-63.9,-44.2H-62.7M10.3,-44.2H11.5M121.7,-44.2H123.9M9.2,-45.2H12.5M51.5,-45.2H52.7M85.2,-45.2H86.4M91.7,-45.2H92.9M9.1,-46.2H12.5M54.5,-46.2H56.8M64.2,-46.2H65.4M82.6,-46.2H83.8M91.2,-46.2H92.4M94.5,-46.2H95.7M3.7,-47.2H12.4M54.2,-47.2H55.4M62.8,-47.2H64M81.1,-47.2H82.2M83.2,-47.2H84.4M91.8,-47.2H93M102.6,-47.2H103.7M-0.6,-48.2H4.8M6.9,-48.2H11.3M47.5,-48.2H48.7M58.2,-48.2H59.3M61.4,-48.2H62.5M88.1,-48.2H89.3M91.3,-48.2H92.5M-1.6,-49.2H3.8M9,-49.2H12.3M49.4,-49.2H50.5M53.6,-49.2H54.8M56.8,-49.2H59M64.2,-49.2H65.4M82.3,-49.2H83.4M-1.6,-50.2H0.6M1.5,-50.2H3.7M8.9,-50.2H12.2M53.3,-50.2H54.4M95.6,-50.2H96.7M-47.8,-51.2H-45.6M-1.6,-51.2H0.6M7.8,-51.2H13.2M48.8,-51.2H51M57.2,-51.2H58.3M-59,-52.2H-55.8M-48.6,-52.2H-45.4M-1.6,-52.2H-0.5M2.6,-52.2H5.8M8.8,-52.2H13.1M51.6,-52.2H52.7M55.8,-52.2H58M63.1,-52.2H64.2M-59.7,-53.2H-55.4M-48.3,-53.2H-45.1M-1.6,-53.2H0.6M9.8,-53.2H14M45.1,-53.2H47.2M56.5,-53.2H57.6M-105.6,-54.1H-104.5M-58.3,-54.1H-54M-46.9,-54.1H-45.8M-3.6,-54.1H0.6M8.7,-54.1H11.9M56.1,-54.1H57.2M-104.9,-55.1H-103.8M-59.9,-55.1H-48.6M-6.7,-55.1H-5.6M-4.6,-55.1H5.7M7.6,-55.1H9.8M54.7,-55.1H55.8M-104.2,-56.1H-103.1M-60.5,-56.1H-48.2M-4.6,-56.1H1.6M2.5,-56.1H9.7M-104.4,-57.1H-101.3M-61.1,-57.1H-59M-58,-57.1H-56.9M-56,-57.1H-47.9M-5.6,-57.1H-3.5M-2.6,-57.1H0.5M3.5,-57.1H8.6M-104.6,-58H-100.5M-60.6,-58H-55.5M-54.6,-58H-53.5M-52.6,-58H-47.5M-6.5,-58H-4.5M-3.5,-58H-2.5M-1.5,-58H0.5M-102.8,-59H-100.8M-61.1,-59H-58.1M-57.1,-59H-56.1M-55.2,-59H-46.1M-7.5,-59H-5.4M-4.5,-59H-3.4M-1.5,-59H-0.5M85.9,-59H92.9M93.8,-59H95.9M-103,-60H-100M-72.4,-60H-70.4M-68.5,-60H-67.4M-59.6,-60H-55.6M-52.7,-60H-46.8M-4.5,-60H-1.4M78.3,-60H82.3M84.2,-60H96.1M103.9,-60H105M126.6,-60H127.6M-102.1,-60.9H-100.1M-80.7,-60.9H-74.7M-72.8,-60.9H-68.8M-59.2,-60.9H-47.3M-5.4,-60.9H-1.4M71.8,-60.9H95.3M102.1,-60.9H105.1M124.5,-60.9H127.6M-101.3,-61.9H-99.3M-80,-61.9H-73.1M-57.7,-61.9H-47.9M-5.4,-61.9H-1.4M9.2,-61.9H10.2M59.5,-61.9H63.5M64.4,-61.9H84.8M85.7,-61.9H98.4M99.3,-61.9H100.3M101.2,-61.9H104.2M108,-61.9H110M121.6,-61.9H126.5M-121.6,-62.8H-119.6M-85.1,-62.8H-81.1M-79.3,-62.8H-71.5M-56.2,-62.8H-51.4M-3.4,-62.8H-2.4M8.1,-62.8H14M45.6,-62.8H49.5M59,-62.8H91.8M94.6,-62.8H104.3M106.1,-62.8H110M115.7,-62.8H118.7M121.5,-62.8H124.4M-122.4,-63.7H-118.5M-91,-63.7H-86.1M-84.3,-63.7H-81.4M-77.6,-63.7H-71.9M7.1,-63.7H14.8M16.6,-63.7H17.7M37.6,-63.7H42.4M43.3,-63.7H51M58.5,-63.7H87.2M89.9,-63.7H91M92.8,-63.7H104.3M105.2,-63.7H118.6M121.4,-63.7H122.4M123.3,-63.7H124.3M125.2,-63.7H130M-121.3,-64.7H-116.5M-90.2,-64.7H-82.5M-81.7,-64.7H-78.8M-77.9,-64.7H-74M-73.2,-64.7H-70.3M6.1,-64.7H13.7M15.5,-64.7H17.5M20.3,-64.7H22.2M30.6,-64.7H34.5M36.3,-64.7H50.5M51.4,-64.7H52.4M53.3,-64.7H54.3M58,-64.7H62.8M63.7,-64.7H86.4M88.2,-64.7H103.4M104.2,-64.7H118.5M121.2,-64.7H122.3M123.1,-64.7H129.8M-121.1,-65.6H-113.6M-96.8,-65.6H-68.7M-58.5,-65.6H-57.5M5.1,-65.6H13.6M15.4,-65.6H16.4M19.1,-65.6H23.9M27.5,-65.6H28.6M29.4,-65.6H38.8M39.7,-65.6H53.8M55.6,-65.6H60.4M63.1,-65.6H69.7M70.6,-65.6H80M80.8,-65.6H83.7M87.4,-65.6H95.9M96.7,-65.6H128.6M-121.9,-66.5H-111.6M-98.7,-66.5H-86.6M-85.7,-66.5H-81M-80.2,-66.5H-68.1M-57.9,-66.5H-56.9M4.1,-66.5H14.4M15.2,-66.5H17.2M19,-66.5H41.3M42.1,-66.5H47.8M48.6,-66.5H53.3M54.2,-66.5H55.2M56,-66.5H59.8M62.5,-66.5H70M70.8,-66.5H75.5M77.3,-66.5H79.2M80.1,-66.5H82M82.9,-66.5H83.9M87.5,-66.5H127.4M-120.7,-67.4H-110.5M-99.6,-67.4H-91.3M-90.4,-67.4H-64.7M-63.8,-67.4H-60.1M5,-67.4H13.3M14.2,-67.4H15.2M16,-67.4H17.9M18.8,-67.4H30.8M31.6,-67.4H53.7M54.6,-67.4H68.4M69.2,-67.4H72.1M72.9,-67.4H74.8M75.7,-67.4H84M87.6,-67.4H124.4M-119.5,-68.3H-110.4M-99.5,-68.3H-91.3M-87.7,-68.3H-69.5M-67.7,-68.3H-61.3M6.8,-68.3H12.3M15,-68.3H15.9M16.8,-68.3H30.5M32.2,-68.3H56.8M57.7,-68.3H74.1M75.8,-68.3H76.8M78.6,-68.3H95M95.8,-68.3H96.8M97.6,-68.3H120.4M121.3,-68.3H122.3M-117.5,-69.2H-113.8M-112.1,-69.2H-109.3M-97.7,-69.2H-90.4M-87.8,-69.2H-68.8M-68,-69.2H-61.6M7.6,-69.2H13.1M13.9,-69.2H14.9M15.7,-69.2H25.7M28.3,-69.2H33.8M34.6,-69.2H35.6M36.4,-69.2H37.4M38.2,-69.2H60.8M61.6,-69.2H62.6M63.4,-69.2H73.4M75.1,-69.2H77M77.8,-69.2H93.2M94,-69.2H95M95.8,-69.2H104M104.8,-69.2H105.8M109.3,-69.2H119.3M121,-69.2H122M-114.5,-70.1H-113.5M-97.6,-70.1H-73.4M-72.6,-70.1H-69M-66.4,-70.1H-62.8M8.4,-70.1H15.6M16.4,-70.1H32.6M36.9,-70.1H44.1M44.9,-70.1H72.6M75.2,-70.1H91.3M92.2,-70.1H103.8M110,-70.1H110.9M111.7,-70.1H117.2M-95.7,-71H-93M-92.2,-71H-80.6M-78.9,-71H-73.6M-70.1,-71H-68.3M-64.8,-71H-63.9M9.2,-71H11.9M12.7,-71H19.9M20.7,-71H27.8M28.6,-71H29.6M30.4,-71H33.1M33.9,-71H36.6M37.4,-71H82.5M84.2,-71H89.5M90.3,-71H100.1M100.9,-71H101.9M104.4,-71H107.2M108,-71H115.1M-89.5,-71.8H-79.8M-77.2,-71.8H-72.8M13.5,-71.8H28.4M30.1,-71.8H32.8M34.4,-71.8H47.6M48.4,-71.8H78.1M78.9,-71.8H81.6M84.1,-71.8H88.6M89.4,-71.8H92.1M93.7,-71.8H113M-86.8,-72.7H-84.1M-82.5,-72.7H-78.1M-73,-72.7H-72M12.5,-72.7H25.5M40.1,-72.7H45.3M48.7,-72.7H56.6M59.1,-72.7H80.7M85,-72.7H87.6M88.4,-72.7H90.2M91,-72.7H98M98.8,-72.7H104.9M105.7,-72.7H110.1M-84.1,-73.5H-83.2M12.3,-73.5H21.8M38.8,-73.5H39.7M48.2,-73.5H55.9M57.6,-73.5H60.2M61.8,-73.5H72.2M72.9,-73.5H80.7M82.3,-73.5H101.2M105.4,-73.5H107.1M15.6,-74.4H18.2M34.1,-74.4H37.6M48.5,-74.4H58.7M61.1,-74.4H64.6M65.4,-74.4H72.2M72.9,-74.4H97.5M98.3,-74.4H99.2M34.6,-75.2H35.5M48.7,-75.2H52.2M52.9,-75.2H58M64.6,-75.2H65.5M66.3,-75.2H86.3M97.9,-75.2H98.9M54.7,-76H55.6M66.3,-76H76.2M77.8,-76H85.3M66.2,-76.8H70.4M73.6,-76.8H74.5"/>
<path stroke="#FFA000" d="M141,50.2H142.1M143.1,50.2H144.2M140.7,49.2H141.9M143.9,49.2H145.1M143.4,47.2H144.6M-64.3,46.2H-62.1M149.6,46.2H150.7M-64.7,45.2H-63.5M-65,44.2H-63.8M150.1,44.2H152.3M153.3,44.2H154.5M-65.3,43.2H-64.1M-64.5,42.2H-63.3M130,41.1H132.3M157.7,41.1H158.9M129.5,40.1H131.8M130,39.1H131.2M154.6,39.1H155.8M130.5,38.1H132.9M133.9,38.1H135.1M155.2,38.1H156.4M-51.2,37.1H-48.9M102.9,37.1H106.4M134.4,37.1H135.6M-53.7,36.1H-48M103.3,36.1H106.8M-49.3,35.1H-48.1M104.8,35.1H106M137.6,35.1H138.9M-54,34H-51.7M24.4,34H25.6M137,34H139.3M-53.1,33H-48.4M23.3,33H24.6M138.6,33H139.8M-52.1,32H-48.6M23.4,32H24.6M137.8,32H140.2M-52.2,31H-49.9M23.5,31H24.7M29.2,31H30.4M138.2,31H140.6M-52.4,30H-51.2M23.5,30H25.9M27,30H30.5M138.6,30H141M-53.7,29H-52.4M28.2,29H30.6M138.9,29H140.2M-53.8,27.9H-52.6M26,27.9H28.4M-55.1,26.9H-52.7M139.6,26.9H140.8M-54,25.9H-52.8M139.8,25.9H141.1M-54.1,24.9H-52.9M-42.5,24.9H-41.2M41.2,24.9H42.5M-54.2,23.9H-53M41.3,23.9H42.6M-55.5,22.9H-53.1M-54.4,21.8H-53.1M-38,21.8H-36.8M23.9,21.8H26.3M30.9,21.8H32.2M-55.7,20.8H-54.4M31,20.8H33.4M135.2,20.8H136.4M-60.4,19.8H-59.2M-55.7,19.8H-54.5M31,19.8H34.6M45.1,19.8H46.4M136.6,19.8H137.8M-62.9,18.8H-61.6M-60.5,18.8H-56.9M-55.8,18.8H-54.6M-37,18.8H-35.8M31.1,18.8H32.3M136.8,18.8H138M-63,17.8H-54.7M-38.3,17.8H-35.8M31.1,17.8H32.4M137,17.8H138.2M-57.2,16.8H-54.7M-38.3,16.8H-37.1M31.2,16.8H32.4M37.1,16.8H38.3M136,16.8H137.3M-64.3,15.8H-63.1M-43.1,15.8H-41.8M-38.4,15.8H-37.1M27.7,15.8H28.9M31.2,15.8H32.5M37.1,15.8H38.4M45.4,15.8H46.6M-63.2,14.7H-61.9M-58.5,14.7H-57.2M-54.9,14.7H-52.5M-38.4,14.7H-37.2M32.4,14.7H36.1M37.2,14.7H38.4M-64.5,13.7H-59.7M-57.4,13.7H-56.1M-53.8,13.7H-52.6M32.5,13.7H36.1M-66.9,12.7H-65.6M-64.5,12.7H-60.9M-59.8,12.7H-58.5M-57.4,12.7H-56.2M-55.1,12.7H-53.8M-39.7,12.7H-38.4M-58.7,11.7H-57.4M-55.1,11.7H-53.8M-40.9,11.7H-38.4M-75.3,10.7H-72.9M-54,10.7H-52.7M-43.3,10.7H-39.7M-74.2,9.7H-72.9M-54,9.7H-51.6M-43.3,9.7H-40.9M24.3,9.7H25.5M-76.6,8.6H-75.3M-74.2,8.6H-73M-54,8.6H-51.6M-50.5,8.6H-48M-44.6,8.6H-43.3M11.2,8.6H12.5M20.7,8.6H23.2M-74.3,7.6H-73M-52.9,7.6H-51.6M-50.5,7.6H-48.1M11.2,7.6H13.7M21.9,7.6H23.2M-77.9,6.6H-76.6M-48.2,6.6H-46.9M12.4,6.6H13.7M20.8,6.6H22M23.1,6.6H25.6M27.9,6.6H29.2M-77.9,5.6H-76.6M-74.3,5.6H-73.1M-44.6,5.6H-43.4M14.8,5.6H16.1M18.4,5.6H19.7M20.8,5.6H22M24.3,5.6H28M-77.9,4.6H-76.7M-44.6,4.6H-43.4M12.4,4.6H13.7M16,4.6H18.5M19.6,4.6H22M24.3,4.6H26.8M-44.7,3.6H-43.4M13.6,3.6H14.9M16,3.6H17.3M18.4,3.6H22.1M24.3,3.6H25.6M26.7,3.6H28M113.6,3.6H116M-49.4,2.5H-48.2M-44.7,2.5H-43.4M13.6,2.5H16.1M18.4,2.5H19.7M24.4,2.5H25.6M26.7,2.5H30.4M112.4,2.5H117.3M7.7,1.5H9M13.6,1.5H14.9M16,1.5H18.5M19.6,1.5H22.1M24.4,1.5H25.6M26.7,1.5H28M29.1,1.5H31.6M112.4,1.5H116.1M16,0.5H17.3M23.2,0.5H24.4M26.7,0.5H28M31.5,0.5H32.8M102.9,0.5H104.2M108.9,0.5H110.2M114.8,0.5H116.1M-48.3,-0.5H-47M12.5,-0.5H13.7M20.8,-0.5H22.1M23.2,-0.5H25.6M26.7,-0.5H29.2M31.5,-0.5H32.8M104.1,-0.5H105.4M107.7,-0.5H110.2M112.5,-0.5H117.3M-75.6,-1.5H-74.4M-73.2,-1.5H-72M-70.9,-1.5H-67.2M-63.7,-1.5H-61.3M12.5,-1.5H13.7M19.6,-1.5H22.1M27.9,-1.5H29.2M30.3,-1.5H32.8M116,-1.5H117.3M-75.6,-2.5H-70.8M-68.5,-2.5H-63.6M-62.5,-2.5H-61.2M-48.2,-2.5H-47M20.8,-2.5H23.2M-74.4,-3.6H-73.1M16,-3.6H17.3M24.3,-3.6H25.6M-64.9,-4.6H-61.2M13.6,-4.6H14.9M16,-4.6H17.3M18.4,-4.6H19.7M-63.6,-5.6H-62.4M11.3,-5.6H12.5M18.4,-5.6H19.7M0.6,-6.6H1.8M2.9,-6.6H4.2M14.8,-6.6H18.5M-0.6,-7.6H0.6M1.7,-7.6H3M-4.2,-8.6H-2.9M-63.5,-9.7H-62.2M-3,-9.7H-0.6M75.3,-9.7H76.5M-63.5,-10.7H-62.2M-13.7,-10.7H-12.4M-8.9,-10.7H-2.9M75.2,-10.7H76.5M93,-10.7H95.5M-63.4,-11.7H-62.1M-13.7,-11.7H-12.4M-11.3,-11.7H-8.8M92.9,-11.7H95.4M96.5,-11.7H97.7M100,-11.7H101.3M-65.7,-12.7H-64.4M70.4,-12.7H72.8M92.8,-12.7H95.3M96.4,-12.7H102.4M70.3,-13.7H73.9M92.7,-13.7H94M96.3,-13.7H97.6M98.7,-13.7H102.3M-86.8,-14.7H-85.6M70.2,-14.7H71.5M91.5,-14.7H93.9M95,-14.7H96.3M100.9,-14.7H102.2M-87.9,-15.8H-86.6M70.1,-15.8H72.6M92.5,-15.8H95M99.6,-15.8H100.9M72.4,-16.8H73.7M75.9,-16.8H77.2M92.4,-16.8H93.7M99.5,-16.8H103.1M-94.7,-17.8H-93.5M71.1,-17.8H72.4M92.3,-17.8H93.5M99.3,-17.8H100.6M-96.9,-18.8H-94.5M-67.6,-18.8H-66.3M92.2,-18.8H94.6M99.2,-18.8H101.6M-95.6,-19.8H-93.2M-63.9,-19.8H-62.7M90.8,-19.8H93.3M96.7,-19.8H98M114.3,-19.8H115.5M-95.5,-20.8H-94.2M90.7,-20.8H93.1M95.4,-20.8H97.8M98.9,-20.8H100.1M103.6,-20.8H104.8M-91.8,-21.8H-89.4M-83.6,-21.8H-81.2M77.7,-21.8H78.9M88.2,-21.8H90.6M92.9,-21.8H94.1M96.4,-21.8H97.6M98.7,-21.8H100M-95.2,-22.9H-93.9M-92.8,-22.9H-91.6M-83.5,-22.9H-82.2M70.6,-22.9H71.8M86.9,-22.9H88.1M90.4,-22.9H95.2M96.2,-22.9H98.7M103.2,-22.9H104.5M-93.8,-23.9H-90.3M-79.8,-23.9H-78.6M85.6,-23.9H88M92.6,-23.9H93.8M94.9,-23.9H96.2M97.2,-23.9H104.3M105.4,-23.9H107.8M111.2,-23.9H113.6M-99.5,-24.9H-98.2M-93.7,-24.9H-91.3M86.6,-24.9H87.8M91.3,-24.9H96M98.2,-24.9H103M104.1,-24.9H106.5M107.5,-24.9H108.8M-99.3,-25.9H-98.1M85.3,-25.9H87.7M95.7,-25.9H102.8M106.2,-25.9H109.7M-97.9,-26.9H-96.7M-75.9,-26.9H-74.7M90.9,-26.9H92.1M97.9,-26.9H100.3M109.4,-26.9H110.7M112.9,-26.9H114.2M-98.9,-27.9H-96.5M67.6,-27.9H68.8M80.3,-27.9H86.2M88.4,-27.9H91.9M96.5,-27.9H102.3M-99.8,-29H-97.4M77.8,-29H80.2M81.3,-29H88.3M97.4,-29H99.8M109,-29H111.3M-100.7,-30H-97.2M71.9,-30H73.1M77.6,-30H78.8M82.2,-30H83.4M88,-30H89.2M96,-30H100.7M109.8,-30H111.1M-100.4,-31H-99.2M-98.1,-31H-96.9M68.2,-31H71.8M77.4,-31H78.6M86.6,-31H87.8M88.9,-31H90.1M95.8,-31H102.7M109.5,-31H111.9M-100.2,-32H-97.8M-86.4,-32H-82.9M-76.1,-32H-74.9M65.7,-32H69.3M72.6,-32H73.8M74.9,-32H76.1M96.6,-32H99M101.2,-32H103.6M104.6,-32H105.9M108.1,-32H111.6M-86.2,-33H-84.9M-77,-33H-74.7M64.4,-33H66.8M69,-33H70.2M96.3,-33H97.6M98.6,-33H99.8M100.9,-33H105.6M106.6,-33H110.1M-80.2,-34H-79M-75.7,-34H-74.4M97.2,-34H105.2M106.3,-34H108.6M-86.7,-35.1H-85.5M99.1,-35.1H104.9M-78.5,-36.1H-77.3M-76.3,-36.1H-73.9M-71.7,-36.1H-70.5M104.4,-36.1H105.6M-85,-37.1H-83.8M-76,-37.1H-73.7M-72.6,-37.1H-71.4M-84.7,-38.1H-83.5M-69,-38.1H-67.8M-70.9,-39.1H-67.5M89.8,-39.1H91M-68.4,-40.1H-67.2M-84.7,-41.1H-83.5M-73.7,-41.1H-72.5M-68.1,-41.1H-65.8M-84.4,-42.2H-83.2M-68.9,-42.2H-67.7M-84,-43.2H-82.8M-71.9,-43.2H-68.5M-83.5,-44.2H-82.4M-72.6,-44.2H-66M-83.1,-45.2H-82M-72.3,-45.2H-70M-67.9,-45.2H-66.8M16.8,-45.2H19M20.1,-45.2H21.2M109.1,-45.2H110.3M-81.6,-46.2H-80.4M-78.4,-46.2H-77.2M-73,-46.2H-70.7M18.9,-46.2H20M21,-46.2H22.2M107.5,-46.2H110.8M111.8,-46.2H112.9M-81.2,-47.2H-80M-77.9,-47.2H-76.8M-72.6,-47.2H-71.4M15.5,-47.2H22.1M106.9,-47.2H108M110.1,-47.2H113.4M-81.8,-48.2H-80.6M-79.6,-48.2H-76.4M-73.2,-48.2H-72.1M15.5,-48.2H18.7M19.7,-48.2H21.9M105.2,-48.2H106.4M107.3,-48.2H109.6M111.6,-48.2H112.8M-82.4,-49.2H-78.1M-76,-49.2H-72.7M16.4,-49.2H18.6M27.1,-49.2H28.2M30.2,-49.2H32.4M103.6,-49.2H106.8M111,-49.2H112.1M-78.7,-50.2H-77.6M16.3,-50.2H18.5M26.9,-50.2H28M31.1,-50.2H33.3M103,-50.2H104.1M110.4,-50.2H112.5M-78.3,-51.2H-77.1M21.5,-51.2H23.7M24.6,-51.2H27.9M28.8,-51.2H30M32,-51.2H33.1M102.3,-51.2H103.5M109.7,-51.2H110.8M-77.8,-52.2H-76.7M20.3,-52.2H22.5M27.6,-52.2H31.9M109,-52.2H110.2M-82.5,-53.2H-81.4M-77.3,-53.2H-76.2M19.1,-53.2H20.3M23.3,-53.2H27.5M28.5,-53.2H30.6M31.6,-53.2H33.7M101.1,-53.2H102.2M107.3,-53.2H109.5M-84,-54.1H-81.9M-78.9,-54.1H-77.7M-76.8,-54.1H-75.7M19,-54.1H20.1M25.2,-54.1H26.3M27.3,-54.1H29.4M30.4,-54.1H31.5M101.4,-54.1H103.6M104.5,-54.1H107.7M-85.5,-55.1H-82.3M-80.4,-55.1H-79.3M-78.3,-55.1H-77.2M17.9,-55.1H20M27.1,-55.1H28.2M29.1,-55.1H31.2M70.1,-55.1H71.2M73.1,-55.1H74.2M83.4,-55.1H87.5M101.8,-55.1H104.9M-86.9,-56.1H-85.8M-81.8,-56.1H-80.7M17.7,-56.1H20.9M21.8,-56.1H22.9M27.9,-56.1H29M65.5,-56.1H75.7M81.7,-56.1H84.9M86.8,-56.1H87.9M101,-56.1H102.1M103.1,-56.1H104.2M-92.3,-57.1H-86.2M-83.2,-57.1H-82.2M16.6,-57.1H19.7M20.6,-57.1H21.7M23.7,-57.1H24.7M26.7,-57.1H28.8M33.7,-57.1H35.8M36.8,-57.1H38.9M40.8,-57.1H43.9M44.8,-57.1H45.9M65,-57.1H67.1M73.1,-57.1H75.2M80.1,-57.1H85.3M86.2,-57.1H88.3M-87.6,-58H-85.5M-84.6,-58H-83.5M16.5,-58H18.6M19.5,-58H20.6M22.5,-58H23.6M26.5,-58H27.6M29.5,-58H30.6M32.5,-58H33.6M34.5,-58H39.6M40.5,-58H46.6M47.5,-58H48.6M49.5,-58H50.6M64.5,-58H66.6M69.5,-58H71.6M73.5,-58H74.6M76.5,-58H77.6M80.5,-58H81.6M83.5,-58H84.6M-94.9,-59H-92.8M-88.9,-59H-87.8M-86.9,-59H-84.9M15.4,-59H19.4M20.3,-59H21.4M22.3,-59H24.4M25.3,-59H27.3M28.3,-59H29.3M30.2,-59H31.3M32.2,-59H35.3M41.2,-59H46.2M63,-59H64.1M65,-59H69.1M72,-59H73M-92.2,-60H-90.1M17.2,-60H24.2M27.1,-60H29.1M30,-60H33M38.9,-60H39.9M41.8,-60H44.9M45.8,-60H46.8M66.5,-60H67.5M70.4,-60H71.5M19,-60.9H22M25.9,-60.9H26.9M29.8,-60.9H39.6M40.5,-60.9H41.6M43.4,-60.9H44.5M32.4,-61.9H34.4M36.3,-61.9H37.3M17.3,-65.6H19.2"/>
<path stroke="#FF1000" d="M141.8,49.2H142.9M142.6,48.2H143.8M144.7,48.2H147M144.5,47.2H145.6M147.7,47.2H148.9M147.4,46.2H149.7M-63.6,45.2H-62.4M148.2,45.2H150.5M-63.9,44.2H-62.7M-64.2,43.2H-63M151.9,43.2H153.1M153.7,42.2H154.9M155.9,42.2H157.1M132.8,40.1H134M155.1,40.1H156.3M132.8,38.1H134M-52.7,35.1H-51.5M-50.5,35.1H-49.3M-48.2,35.1H-47M-51.8,34H-50.6M-49.5,34H-48.3M25.5,34H26.8M-48.5,33H-47.3M24.5,33H25.7M24.6,32H25.8M24.6,31H25.9M25.8,30H27.1M-52.5,29H-51.3M27.1,29H28.3M140.1,29H141.3M140.4,27.9H141.7M-52.8,26.9H-51.5M42.2,26.9H43.5M140.7,26.9H142M-52.9,25.9H-51.6M-50.5,25.9H-49.3M42.3,25.9H43.6M-52,22.9H-50.7M-38,22.9H-36.7M41.4,22.9H42.6M41.5,21.8H42.7M45,21.8H46.2M-38.2,19.8H-36.9M29.9,19.8H31.1M41.6,19.8H42.8M135.4,19.8H136.7M-38.2,18.8H-37M32.3,18.8H33.5M-40.6,17.8H-39.4M30,17.8H31.2M32.3,17.8H33.6M37,17.8H38.3M-63.1,16.8H-59.4M-58.3,16.8H-57.1M-54.8,16.8H-53.6M-39.5,16.8H-38.2M32.3,16.8H33.6M35.9,16.8H37.1M45.3,16.8H46.6M-63.1,15.8H-60.7M-58.4,15.8H-53.6M-39.5,15.8H-38.3M13.5,15.8H14.8M32.4,15.8H33.7M35.9,15.8H37.2M-62,14.7H-59.6M-39.6,14.7H-38.3M36,14.7H37.2M-55,13.7H-53.7M-39.6,13.7H-38.4M-53.9,12.7H-52.6M-42,12.7H-39.6M26.6,12.7H27.8M-42.1,11.7H-40.8M18.3,11.7H19.6M-57.5,10.7H-56.3M-75.4,9.7H-74.1M-51.6,9.7H-49.2M18.4,8.6H19.6M24.3,8.6H25.6M-76.6,7.6H-74.2M-44.6,7.6H-43.3M27.9,7.6H29.1M-44.6,6.6H-43.3M19.6,6.6H20.8M25.5,6.6H26.8M-48.2,5.6H-46.9M12.4,5.6H13.7M27.9,5.6H29.2M31.5,5.6H32.7M113.5,5.6H114.8M115.9,5.6H117.1M-48.2,4.6H-46.9M114.7,4.6H117.2M-48.2,3.6H-47M17.2,3.6H18.5M22,3.6H23.2M25.5,3.6H26.8M27.9,3.6H29.2M112.4,3.6H113.7M116,3.6H117.2M22,2.5H23.2M25.5,2.5H26.8M-75.6,1.5H-74.4M-48.2,1.5H-47M-44.7,1.5H-43.4M27.9,1.5H29.2M116,1.5H118.5M-75.6,0.5H-74.4M-48.3,0.5H-47M17.2,0.5H18.5M27.9,0.5H30.4M107.7,0.5H109M113.7,0.5H114.9M7.7,-0.5H9M17.2,-0.5H19.7M102.9,-0.5H104.2M106.5,-0.5H107.8M117.2,-0.5H118.5M120.8,-0.5H122.1M29.1,-1.5H30.4M106.5,-1.5H110.1M112.4,-1.5H113.7M114.8,-1.5H116.1M120.8,-1.5H122.1M-69.7,-2.5H-68.4M-63.7,-2.5H-62.4M24.4,-2.5H25.6M107.7,-2.5H108.9M-67.3,-3.6H-66M-64.9,-3.6H-61.2M22,-3.6H23.2M7.7,-4.6H9M11.3,-4.6H12.5M14.8,-4.6H16.1M-0.6,-5.6H0.6M8.9,-5.6H11.3M14.8,-5.6H18.5M108.7,-5.6H110M-64.8,-6.6H-62.3M1.7,-6.6H3M75.4,-6.6H76.7M-76.6,-7.6H-75.4M-63.6,-7.6H-62.3M0.6,-7.6H1.8M-64.7,-8.6H-62.3M-3,-8.6H-1.7M75.3,-8.6H76.6M119.2,-8.6H120.5M-13.7,-9.7H-12.4M-4.2,-9.7H-2.9M-78.9,-10.7H-77.6M-12.5,-10.7H-8.8M-64.6,-11.7H-63.3M-68.1,-12.7H-65.6M-79.8,-13.7H-78.6M95.1,-13.7H96.4M97.5,-13.7H98.7M71.4,-14.7H72.7M93.8,-14.7H95.1M96.2,-14.7H101M-86.7,-15.8H-85.5M94.9,-15.8H97.3M98.4,-15.8H99.7M100.8,-15.8H102.1M-91.3,-16.8H-88.9M71.2,-16.8H72.5M93.6,-16.8H94.9M97.1,-16.8H99.6M-87.7,-17.8H-86.4M93.5,-17.8H97.1M98.2,-17.8H99.4M-94.6,-18.8H-93.3M96.9,-18.8H99.3M93.2,-19.8H95.6M97.9,-19.8H100.3M101.4,-19.8H102.6M-93.1,-20.8H-90.7M-84.9,-20.8H-83.7M-82.6,-20.8H-81.3M93,-20.8H95.5M97.7,-20.8H99M-94.1,-21.8H-91.7M-73.1,-21.8H-69.5M-68.4,-21.8H-67.2M94.1,-21.8H96.5M97.6,-21.8H98.8M102.2,-21.8H103.5M-94,-22.9H-92.7M71.7,-22.9H73M88.1,-22.9H90.5M98.6,-22.9H99.8M90.3,-23.9H91.5M96.1,-23.9H97.3M87.8,-24.9H89M106.4,-24.9H107.6M111,-24.9H113.4M91.1,-25.9H92.3M102.7,-25.9H106.3M110.8,-25.9H112.1M86.3,-26.9H88.7M89.7,-26.9H91M100.2,-26.9H103.7M107.1,-26.9H109.5M111.8,-26.9H113M-75.8,-27.9H-74.5M86.1,-27.9H87.3M102.3,-27.9H103.5M108.1,-27.9H110.4M-76.7,-29H-74.4M76.7,-29H77.9M80.1,-29H81.4M88.2,-29H89.4M99.7,-29H103.3M-76.5,-30H-74.2M73,-30H74.2M76.5,-30H77.7M100.6,-30H101.9M105.2,-30H106.5M107.5,-30H109.9M-99.3,-31H-98.1M-76.3,-31H-74M72.8,-31H74M76.3,-31H77.5M102.7,-31H103.9M106.1,-31H109.6M-83,-32H-80.6M-75,-32H-73.8M69.2,-32H72.7M100.1,-32H101.3M103.5,-32H104.7M106.9,-32H108.2M-81.6,-33H-80.4M99.8,-33H101M105.5,-33H106.7M-85.9,-34H-84.7M105.1,-34H106.4M-79.9,-35.1H-78.7M-74.3,-35.1H-73.1M-85.3,-36.1H-84.1M-74,-36.1H-71.7M-77.1,-37.1H-75.9M-70.4,-37.1H-69.2M-76.8,-38.1H-74.5M-71.2,-38.1H-68.9M-84.3,-39.1H-83.1M-84,-40.1H-82.8M-74,-40.1H-72.8M-69.5,-40.1H-68.3M-83.6,-41.1H-82.4M-71.4,-41.1H-70.3M-69.2,-41.1H-68M-83.3,-42.2H-82.1M-73.3,-42.2H-68.8M-67.8,-42.2H-66.6M-82.9,-43.2H-81.7M-73,-43.2H-71.8M-68.6,-43.2H-67.4M-82.5,-44.2H-80.2M-82,-45.2H-80.9M17.8,-46.2H18.9M19.9,-46.2H21.1M-80.1,-47.2H-77.9M-73.6,-47.2H-72.5M-76.4,-48.2H-73.2M18.7,-48.2H19.8M109.5,-48.2H111.7M-83,-50.2H-79.7M104,-50.2H106.2M107.2,-50.2H108.3M-82.5,-51.2H-81.3M-79.3,-51.2H-78.2M27.8,-51.2H28.9M103.4,-51.2H104.5M106.5,-51.2H107.7M108.6,-51.2H109.8M22.4,-52.2H27.7M102.8,-52.2H103.9M106.9,-52.2H109.1M-81.5,-53.2H-80.3M-78.3,-53.2H-77.2M20.2,-53.2H23.4M27.4,-53.2H28.6M30.6,-53.2H31.7M102.1,-53.2H104.3M106.3,-53.2H107.4M-81.9,-54.1H-79.8M-77.8,-54.1H-76.7M20.1,-54.1H24.3M26.2,-54.1H27.3M29.3,-54.1H30.4M103.5,-54.1H104.6M-82.4,-55.1H-80.3M19.9,-55.1H22M23,-55.1H25.1M26.1,-55.1H27.2M28.1,-55.1H29.2M-84.9,-56.1H-83.8M-82.8,-56.1H-81.7M20.8,-56.1H21.9M22.8,-56.1H28M84.8,-56.1H86.9M19.6,-57.1H20.7M21.6,-57.1H23.7M25.7,-57.1H26.8M67,-57.1H68.1M69,-57.1H73.2M85.2,-57.1H86.3M-93.6,-58H-87.5M-85.6,-58H-84.5M18.5,-58H19.6M20.5,-58H22.6M23.5,-58H26.6M39.5,-58H40.6M66.5,-58H67.6M71.5,-58H73.6M-92.9,-59H-91.8M-89.9,-59H-88.8M19.3,-59H20.4M21.3,-59H22.4M24.3,-59H25.4M35.2,-59H36.3M37.2,-59H41.3M70,-59H72M33,-60H39M39.9,-60H40.9"/>
<path stroke="#D42828" d="M142.9,49.2H144M143.7,48.2H144.8M145.6,47.2H147.8M146.3,46.2H147.5M152.2,44.2H153.4M153,43.2H155.3M152.6,42.2H153.8M154.8,42.2H156M154.4,41.1H157.8M131.7,40.1H132.9M156.2,40.1H157.4M131.1,39.1H134.6M155.7,39.1H156.9M-51.6,35.1H-50.4M-50.6,34H-49.4M-48.4,34H-46M26.7,34H27.9M-47.4,33H-45M25.6,33H29.1M-48.7,32H-45.2M25.7,32H29.2M-50,31H-44.1M25.8,31H29.3M-51.2,30H-44.3M-51.4,29H-44.4M-52.6,27.9H-44.5M-51.6,26.9H-43.4M-51.7,25.9H-50.5M-49.4,25.9H-41.2M43.5,25.9H44.7M-53,24.9H-42.4M-41.3,24.9H-37.8M42.4,24.9H44.8M-53.1,23.9H-37.8M42.5,23.9H44.9M-50.8,22.9H-37.9M42.6,22.9H46.1M-52.1,21.8H-37.9M42.6,21.8H45M-54.5,20.8H-36.8M33.3,20.8H34.6M41.5,20.8H46.3M-54.6,19.8H-38.1M42.8,19.8H45.2M-54.7,18.8H-38.1M33.4,18.8H37M41.7,18.8H46.4M135.6,18.8H136.9M-54.7,17.8H-40.5M-39.4,17.8H-38.2M33.5,17.8H37.1M41.7,17.8H46.5M135.8,17.8H137.1M-59.5,16.8H-58.3M-53.6,16.8H-39.4M33.5,16.8H36M41.8,16.8H45.4M-60.8,15.8H-58.3M-53.7,15.8H-43M-41.9,15.8H-39.5M33.6,15.8H36M44.2,15.8H45.4M136.2,15.8H137.4M-59.7,14.7H-58.4M-52.6,14.7H-39.5M44.2,14.7H45.5M-59.7,13.7H-58.5M-52.6,13.7H-39.6M-52.7,12.7H-42M-53.9,11.7H-42M-52.8,10.7H-43.2M-49.3,9.7H-43.3M21.9,9.7H23.2M107.3,9.7H114.5M-75.4,8.6H-74.1M-51.7,8.6H-50.4M-48.1,8.6H-44.5M23.1,8.6H24.4M101.4,8.6H114.6M-51.7,7.6H-50.4M-48.1,7.6H-44.5M25.5,7.6H26.8M99.1,7.6H108.7M-76.7,6.6H-74.2M-47,6.6H-44.5M11.2,6.6H12.5M99.2,6.6H102.8M103.9,6.6H106.4M-76.7,5.6H-74.3M-47,5.6H-44.5M11.3,5.6H12.5M23.1,5.6H24.4M96.9,5.6H101.7M-76.8,4.6H-74.3M-47,4.6H-44.6M10.1,4.6H12.5M96.9,4.6H101.7M107.6,4.6H110.1M113.5,4.6H114.8M-76.8,3.6H-74.3M-47,3.6H-44.6M8.9,3.6H13.7M95.7,3.6H101.8M105.3,3.6H111.3M-78,2.5H-74.3M-48.2,2.5H-44.6M8.9,2.5H13.7M20.8,2.5H22.1M95.8,2.5H100.6M104.1,2.5H111.3M-78,1.5H-75.5M-47.1,1.5H-44.6M8.9,1.5H13.7M94.6,1.5H100.6M104.1,1.5H112.5M-76.8,0.5H-75.6M-47.1,0.5H-44.6M7.7,0.5H13.7M18.4,0.5H19.7M30.3,0.5H31.6M94.6,0.5H99.5M104.1,0.5H107.8M110.1,0.5H112.5M-76.8,-0.5H-75.6M8.9,-0.5H12.5M29.1,-0.5H31.6M93.4,-0.5H99.5M105.3,-0.5H106.6M110.1,-0.5H112.5M8.9,-1.5H12.5M22,-1.5H23.3M93.4,-1.5H99.4M102.9,-1.5H106.6M110.1,-1.5H112.5M-70.9,-2.5H-69.6M8.9,-2.5H12.5M92.2,-2.5H99.4M104.1,-2.5H107.7M108.9,-2.5H112.5M-73.2,-3.6H-67.2M-66.1,-3.6H-64.8M8.9,-3.6H12.5M20.8,-3.6H22.1M91,-3.6H99.4M105.3,-3.6H112.5M-74.4,-4.6H-64.8M-7.8,-4.6H-5.3M8.9,-4.6H11.3M17.2,-4.6H18.5M90.9,-4.6H99.3M107.6,-4.6H113.6M-74.3,-5.6H-63.6M-9,-5.6H-0.6M90.9,-5.6H93.4M94.5,-5.6H99.3M109.9,-5.6H113.6M-74.3,-6.6H-64.7M-11.3,-6.6H0.6M76.6,-6.6H77.9M94.4,-6.6H98.1M109.9,-6.6H113.5M118.2,-6.6H120.7M-74.3,-7.6H-63.5M-12.5,-7.6H-1.7M75.4,-7.6H77.8M93.2,-7.6H96.8M109.8,-7.6H112.3M116.9,-7.6H120.6M-80.2,-8.6H-64.6M-12.5,-8.6H-4.1M76.5,-8.6H77.8M115.7,-8.6H119.3M-81.3,-9.7H-63.4M-12.5,-9.7H-4.1M76.5,-9.7H77.7M110.9,-9.7H113.3M116.8,-9.7H120.4M-81.2,-10.7H-78.8M-72.9,-10.7H-63.4M112,-10.7H113.2M115.5,-10.7H119.2M-82.3,-11.7H-78.7M-71.7,-11.7H-64.5M111.9,-11.7H114.3M115.4,-11.7H119.1M-82.3,-12.7H-78.6M-70.4,-12.7H-68M115.3,-12.7H119M-84.6,-13.7H-79.7M116.4,-13.7H118.8M-85.6,-14.7H-78.5M113.9,-14.7H117.5M-85.5,-15.8H-78.4M97.3,-15.8H98.5M112.6,-15.8H116.2M-89,-16.8H-78.3M94.8,-16.8H97.2M112.4,-16.8H114.9M-93.5,-17.8H-87.6M-86.5,-17.8H-82.9M97,-17.8H98.3M112.3,-17.8H115.9M-93.4,-18.8H-82.8M94.5,-18.8H96.9M112.1,-18.8H115.7M-93.3,-19.8H-81.5M-69.8,-19.8H-63.9M95.5,-19.8H96.8M102.6,-19.8H103.8M111.9,-19.8H114.4M-90.8,-20.8H-89.5M-86.1,-20.8H-84.8M-83.8,-20.8H-82.5M-69.7,-20.8H-63.8M101.2,-20.8H103.7M-86,-21.8H-83.5M-75.3,-22.9H-69.4M-78.7,-23.9H-71.6M87.9,-23.9H90.3M-78.5,-24.9H-73.8M88.9,-24.9H91.3M87.6,-25.9H91.2M112,-25.9H113.2M88.6,-26.9H89.8M103.6,-26.9H107.2M87.2,-27.9H88.5M103.4,-27.9H108.1M103.2,-29H109M74.2,-30H76.5M101.8,-30H105.3M106.4,-30H107.6M71.7,-31H72.9M74,-31H76.3M103.8,-31H106.2M105.8,-32H107M-85,-33H-81.5M-84.7,-34H-80.1M-85.6,-35.1H-79.9M-84.2,-36.1H-78.4M-83.9,-37.1H-77M-73.7,-37.1H-72.5M-71.5,-37.1H-70.3M-83.5,-38.1H-76.7M-74.6,-38.1H-71.1M-83.2,-39.1H-70.9M-82.9,-40.1H-73.9M-72.9,-40.1H-69.5M-82.5,-41.1H-73.6M-72.6,-41.1H-71.4M-70.3,-41.1H-69.2M-82.1,-42.2H-73.3M-81.8,-43.2H-72.9M-80.3,-44.2H-72.6M-81,-45.2H-72.2M-80.5,-46.2H-78.3M-77.3,-46.2H-72.9M-76.9,-47.2H-73.6M106.7,-49.2H111.1M-79.8,-50.2H-78.7M106.1,-50.2H107.3M108.2,-50.2H110.4M-81.4,-51.2H-79.2M104.4,-51.2H106.6M107.6,-51.2H108.7M-82,-52.2H-77.7M103.8,-52.2H107M-80.4,-53.2H-78.3M104.2,-53.2H106.3M-79.9,-54.1H-78.8M24.2,-54.1H25.3M22,-55.1H23.1M25,-55.1H26.1M-85.9,-56.1H-84.8M-83.9,-56.1H-82.8M-86.3,-57.1H-83.2M24.7,-57.1H25.8M68,-57.1H69.1M67.5,-58H69.6M-91.9,-59H-89.8M36.2,-59H37.3"/>
</g>
<use href="#C"/><use href="#O"/>
</g>
<!-- map 4 -->
<g transform="translate(525,497)">
<g shape-rendering="crispEdges" fill="none" stroke-width="1.09">
<path stroke="#FC0000" d="M-57.1,59H-51.1M-29.3,59H-28.3M-58.6,58H-52.5M-30.6,58H-28.5M-60,57.1H-53.9M-61.5,56.1H-55.3M-49.3,56.1H-47.2M-61.9,55.1H-57.8M-56.8,55.1H-55.7M-50.7,55.1H-47.5M-62.4,54.1H-57.1M-62.8,53.2H-58.6M56.5,53.2H58.6M-63.2,52.2H-60M-56.9,52.2H-55.8M-63.6,51.2H-60.3M-57.3,51.2H-56.1M-64,50.2H-60.7M-58.7,50.2H-57.5M141,50.2H144.2M-64.3,49.2H-61.1M-59,49.2H-57.9M140.7,49.2H146.1M-63.6,48.2H-59.3M-58.3,48.2H-57.1M-56.1,48.2H-55M142.6,48.2H147M-64,47.2H-58.5M-56.5,47.2H-55.3M125.1,47.2H127.4M143.4,47.2H148.9M-64.3,46.2H-61M-56.8,46.2H-54.5M124.7,46.2H128.1M146.3,46.2H150.7M-64.7,45.2H-62.4M-61.4,45.2H-60.2M-59.2,45.2H-58.1M-57.1,45.2H-54.8M125.4,45.2H129.8M148.2,45.2H151.5M-65,44.2H-60.5M-58.4,44.2H-54M126,44.2H130.5M150.1,44.2H154.5M-65.3,43.2H-63M-62,43.2H-59.7M-58.7,43.2H-54.3M151.9,43.2H155.3M-65.6,42.2H-60M-59,42.2H-51.2M126.2,42.2H127.3M128.4,42.2H129.5M152.6,42.2H157.1M-65.9,41.1H-61.4M-59.3,41.1H-57M-55.9,41.1H-51.4M123.4,41.1H132.3M154.4,41.1H158.9M-66.2,40.1H-61.7M-59.5,40.1H-57.2M-56.2,40.1H-52.8M-51.7,40.1H-50.5M123.9,40.1H134M155.1,40.1H157.4M-65.4,39.1H-56.3M-54.2,39.1H-50.8M124.4,39.1H134.6M154.6,39.1H156.9M-65.6,38.1H-56.6M-55.5,38.1H-51M104.8,38.1H106M123.8,38.1H135.1M154.1,38.1H156.4M-65.9,37.1H-47.8M17.4,37.1H18.6M102.9,37.1H108.6M120.9,37.1H136.7M154.7,37.1H155.9M-65,36.1H-46.8M24.2,36.1H25.4M103.3,36.1H112.4M120.2,36.1H137.2M-65.2,35.1H-47M24.3,35.1H26.7M103.7,35.1H108.3M109.3,35.1H112.8M113.8,35.1H115.1M124,35.1H138.9M-65.4,34H-46M24.4,34H27.9M104,34H105.2M107.4,34H108.6M109.7,34H112M116.5,34H117.7M124.5,34H139.3M-65.6,33H-45M15.4,33H16.6M24.5,33H29.1M104.3,33H111.3M123.7,33H124.9M128.3,33H129.5M131.7,33H139.8M-65.8,32H-45.2M15.4,32H16.6M23.4,32H24.6M25.7,32H29.2M126.4,32H129.9M131,32H132.2M133.3,32H141.3M-66,31H-44.1M22.3,31H30.4M104.9,31H107.3M123.3,31H125.7M129,31H130.3M132.5,31H141.7M-66.2,30H-65M-63.9,30H-44.3M15.5,30H16.7M23.5,30H30.5M123.6,30H124.9M135.1,30H142.1M-66.4,29H-65.1M-64.1,29H-55.9M-54.8,29H-53.6M-52.5,29H-44.4M13.2,29H14.5M15.5,29H16.8M21.3,29H22.5M24.8,29H30.6M121.6,29H122.9M134.3,29H142.5M-66.5,27.9H-65.3M-64.2,27.9H-44.5M19,27.9H21.4M23.7,27.9H30.7M134.6,27.9H135.9M137,27.9H141.7M-65.5,26.9H-60.8M-59.7,26.9H-58.5M-57.4,26.9H-53.8M-52.8,26.9H-43.4M22.6,26.9H33.1M41.1,26.9H43.5M125.7,26.9H126.9M130.3,26.9H132.7M136.1,26.9H142M-65.6,25.9H-58.6M-55.2,25.9H-52.8M-51.7,25.9H-41.2M21.4,25.9H33.1M40,25.9H44.7M131.7,25.9H133M137.5,25.9H141.1M-64.6,24.9H-62.2M-55.3,24.9H-54M-53,24.9H-37.8M22.6,24.9H33.2M40.1,24.9H44.8M135.5,24.9H141.3M-65.9,23.9H-61.1M-60,23.9H-58.8M-56.5,23.9H-55.3M-54.2,23.9H-37.8M22.7,23.9H33.2M40.2,23.9H44.9M138,23.9H140.4M154.3,23.9H155.6M-64.8,22.9H-62.4M-61.3,22.9H-58.9M-57.8,22.9H-55.4M-54.3,22.9H-36.7M21.5,22.9H33.3M40.2,22.9H46.1M50.7,22.9H53.1M130.1,22.9H133.7M138.3,22.9H139.5M153.4,22.9H155.8M-64.9,21.8H-60.2M-57.9,21.8H-36.8M23.9,21.8H33.4M40.3,21.8H46.2M138.5,21.8H139.7M153.7,21.8H154.9M-65,20.8H-61.4M-60.3,20.8H-57.9M-56.8,20.8H-36.8M11.1,20.8H12.3M22.8,20.8H34.6M41.5,20.8H46.3M-67.5,19.8H-66.2M-65.1,19.8H-62.7M-60.4,19.8H-54.5M-53.4,19.8H-35.7M20.5,19.8H34.6M40.4,19.8H46.4M129.5,19.8H130.8M134.2,19.8H135.5M165.9,19.8H168.3M-68.7,18.8H-66.3M-65.2,18.8H-61.6M-60.5,18.8H-59.3M-57,18.8H-54.6M-53.5,18.8H-35.8M12.3,18.8H14.7M15.8,18.8H17.1M18.2,18.8H37M40.5,18.8H47.6M122.7,18.8H123.9M133.3,18.8H135.7M136.8,18.8H138M166.1,18.8H168.6M-70,17.8H-60.5M-57.1,17.8H-35.8M11.1,17.8H13.6M15.8,17.8H17.1M19.4,17.8H20.6M21.7,17.8H24.2M27.6,17.8H38.3M41.7,17.8H47.7M122.9,17.8H124.1M128.8,17.8H130M137,17.8H138.2M157,17.8H158.2M-71.3,16.8H-68.9M-67.8,16.8H-66.5M-64.2,16.8H-60.6M-57.2,16.8H-55.9M-54.8,16.8H-35.9M11.1,16.8H14.8M15.9,16.8H19.5M21.7,16.8H23M24.1,16.8H25.4M27.6,16.8H38.3M41.8,16.8H47.7M125.4,16.8H126.7M134.8,16.8H137.3M156,16.8H158.5M-72.6,15.8H-64.2M-63.1,15.8H-59.5M-58.4,15.8H-57.2M-56.1,15.8H-35.9M11.2,15.8H20.7M21.8,15.8H38.4M44.2,15.8H47.8M135,15.8H137.4M-72.7,14.7H-67.9M-62,14.7H-60.8M-59.7,14.7H-57.2M-56.1,14.7H-54.9M-53.8,14.7H-36M11.2,14.7H24.2M25.3,14.7H38.4M44.2,14.7H47.9M132.8,14.7H134.1M-73.9,13.7H-70.3M-69.2,13.7H-66.7M-63.3,13.7H-62M-57.4,13.7H-56.1M-53.8,13.7H-52.6M-49.1,13.7H-38.4M12.4,13.7H38.5M45.5,13.7H47.9M124.7,13.7H125.9M128.2,13.7H129.5M132.9,13.7H136.6M-74,12.7H-70.4M-69.3,12.7H-65.6M-49.1,12.7H-47.9M-46.8,12.7H-42M-36.1,12.7H-34.9M12.4,12.7H38.5M45.5,12.7H46.8M124.8,12.7H127.2M128.3,12.7H129.6M134.3,12.7H135.5M-74.1,11.7H-71.6M-70.5,11.7H-63.3M-57.5,11.7H-56.2M-49.2,11.7H-47.9M-46.8,11.7H-43.2M-36.2,11.7H-33.7M12.4,11.7H16M17.1,11.7H29.1M32.5,11.7H38.5M134.4,11.7H135.6M141.5,11.7H142.7M-75.3,10.7H-69.3M-68.2,10.7H-64.6M-49.2,10.7H-43.2M-36.2,10.7H-32.6M12.4,10.7H14.9M18.3,10.7H29.1M33.7,10.7H38.6M116.7,10.7H120.3M139.2,10.7H144M151.1,10.7H152.3M-75.4,9.7H-68.2M-51.6,9.7H-49.2M-48.1,9.7H-42.1M-36.2,9.7H-32.6M12.4,9.7H14.9M16,9.7H26.7M31.4,9.7H38.6M107.3,9.7H113.3M115.6,9.7H116.9M118,9.7H121.6M132.2,9.7H133.5M135.8,9.7H137M138.1,9.7H141.8M150,9.7H151.3M-76.6,8.6H-71.8M-70.7,8.6H-68.2M-52.9,8.6H-43.3M-38.6,8.6H-37.3M-35.1,8.6H-32.6M11.2,8.6H25.6M30.2,8.6H31.5M33.8,8.6H37.4M101.4,8.6H117M135.9,8.6H137.1M138.2,8.6H141.9M148.9,8.6H152.6M-76.6,7.6H-70.6M-67.1,7.6H-65.9M-51.7,7.6H-48.1M-45.8,7.6H-42.1M-39.8,7.6H-38.6M-36.3,7.6H-32.6M11.2,7.6H23.2M24.3,7.6H28M31.4,7.6H33.9M36.2,7.6H37.5M99.1,7.6H108.7M135.9,7.6H137.2M139.5,7.6H140.8M147.8,7.6H150.3M-77.9,6.6H-73M-68.4,6.6H-67.1M-54.1,6.6H-51.7M-48.2,6.6H-45.7M-44.6,6.6H-42.1M-39.8,6.6H-37.4M-36.3,6.6H-32.6M11.2,6.6H22M23.1,6.6H24.4M27.9,6.6H31.5M32.6,6.6H33.9M36.2,6.6H37.5M99.2,6.6H102.8M103.9,6.6H106.4M139.6,6.6H144.4M-77.9,5.6H-73.1M-72,5.6H-70.7M-55.3,5.6H-54.1M-48.2,5.6H-41M-39.9,5.6H-32.7M11.3,5.6H31.5M32.7,5.6H33.9M36.2,5.6H37.5M96.9,5.6H101.7M113.5,5.6H114.8M115.9,5.6H117.1M140.8,5.6H145.7M-77.9,4.6H-74.3M-73.2,4.6H-71.9M-56.5,4.6H-55.3M-50.6,4.6H-49.3M-48.2,4.6H-46.9M-45.8,4.6H-35M10.1,4.6H16.1M17.2,4.6H19.7M20.8,4.6H24.4M25.5,4.6H30.4M32.7,4.6H33.9M35,4.6H38.7M96.9,4.6H101.7M107.6,4.6H110.1M113.5,4.6H117.2M125.4,4.6H126.7M143.3,4.6H145.7M-76.8,3.6H-75.5M-50.6,3.6H-36.2M8.9,3.6H10.2M11.3,3.6H16.1M19.6,3.6H22.1M23.2,3.6H32.8M36.2,3.6H38.7M95.7,3.6H101.8M105.3,3.6H111.3M112.4,3.6H117.2M121.9,3.6H124.4M125.5,3.6H126.7M136.2,3.6H137.5M143.3,3.6H145.8M-78,2.5H-75.5M-72,2.5H-70.8M-54.2,2.5H-52.9M-50.6,2.5H-41M8.9,2.5H10.2M11.3,2.5H17.3M18.4,2.5H19.7M22,2.5H34M36.3,2.5H39.9M95.8,2.5H100.6M104.1,2.5H111.3M112.4,2.5H117.3M125.5,2.5H126.8M129.1,2.5H132.7M133.8,2.5H135.1M-87.5,1.5H-85.1M-75.6,1.5H-72M-54.2,1.5H-42.2M7.7,1.5H19.7M20.8,1.5H22.1M23.2,1.5H32.8M33.9,1.5H41.1M94.6,1.5H100.6M104.1,1.5H109M110.1,1.5H118.5M126.7,1.5H128M-87.5,0.5H-85.1M-76.8,0.5H-75.6M-74.4,0.5H-72M-70.9,0.5H-69.6M-68.5,0.5H-67.2M-60.2,0.5H-58.9M-56.6,0.5H-51.7M-50.6,0.5H-44.6M7.7,0.5H16.1M17.2,0.5H18.5M19.6,0.5H20.9M23.2,0.5H24.4M25.6,0.5H30.4M31.5,0.5H34M35.1,0.5H41.1M94.6,0.5H99.5M102.9,0.5H106.6M111.3,0.5H112.5M113.7,0.5H116.1M124.4,0.5H128M-76.8,-0.5H-73.2M-72.1,-0.5H-69.6M-66.1,-0.5H-64.8M-63.7,-0.5H-62.5M-57.8,-0.5H-50.6M-49.4,-0.5H-47M7.7,-0.5H19.7M23.2,-0.5H31.6M32.7,-0.5H42.3M93.4,-0.5H99.5M102.9,-0.5H105.4M107.7,-0.5H109M110.1,-0.5H118.5M120.8,-0.5H123.3M-75.6,-1.5H-74.4M-73.2,-1.5H-70.8M-69.7,-1.5H-66M-64.9,-1.5H-63.6M-62.5,-1.5H-58.9M-57.8,-1.5H-47M8.9,-1.5H43.5M93.4,-1.5H99.4M102.9,-1.5H107.8M111.3,-1.5H113.7M114.8,-1.5H117.3M120.8,-1.5H123.2M-75.6,-2.5H-72M-70.9,-2.5H-63.6M-61.3,-2.5H-47M8.9,-2.5H42.3M92.2,-2.5H99.4M104.1,-2.5H106.6M111.2,-2.5H112.5M-74.4,-3.6H-63.6M-62.5,-3.6H-47M8.9,-3.6H43.5M91,-3.6H99.4M105.3,-3.6H110.1M111.2,-3.6H112.5M-74.4,-4.6H-64.8M-62.5,-4.6H-48.1M-7.8,-4.6H-5.3M5.3,-4.6H41.1M90.9,-4.6H99.3M107.6,-4.6H113.6M-74.3,-5.6H-70.7M-69.6,-5.6H-49.3M-9,-5.6H0.6M4.1,-5.6H6.6M7.7,-5.6H39.9M90.9,-5.6H93.4M94.5,-5.6H99.3M108.7,-5.6H113.6M-74.3,-6.6H-50.5M-11.3,-6.6H5.4M6.5,-6.6H39.8M75.4,-6.6H77.9M94.4,-6.6H98.1M109.9,-6.6H113.5M118.2,-6.6H120.7M-76.6,-7.6H-75.4M-74.3,-7.6H-54M-12.5,-7.6H17.3M20.7,-7.6H39.8M46.9,-7.6H48.1M75.4,-7.6H77.8M93.2,-7.6H96.8M109.8,-7.6H112.3M116.9,-7.6H120.6M-80.2,-8.6H-55.2M-12.5,-8.6H18.4M20.7,-8.6H22M25.5,-8.6H27.9M29,-8.6H32.7M33.8,-8.6H42.2M46.8,-8.6H48.1M73,-8.6H74.2M75.3,-8.6H77.8M93.1,-8.6H95.6M115.7,-8.6H120.5M-81.3,-9.7H-56.3M-13.7,-9.7H10.1M13.6,-9.7H17.2M24.3,-9.7H25.5M31.4,-9.7H41M43.3,-9.7H44.5M46.8,-9.7H48.1M71.7,-9.7H77.7M93.1,-9.7H95.5M99,-9.7H101.5M110.9,-9.7H113.3M116.8,-9.7H120.4M-81.2,-10.7H-77.6M-72.9,-10.7H-57.4M-13.7,-10.7H16M32.6,-10.7H42.1M44.4,-10.7H45.7M46.8,-10.7H49.2M71.7,-10.7H76.5M93,-10.7H95.5M97.7,-10.7H102.6M112,-10.7H113.2M115.5,-10.7H119.2M-82.3,-11.7H-78.7M-71.7,-11.7H-58.6M-14.8,-11.7H11.3M14.8,-11.7H16M29,-11.7H30.2M31.3,-11.7H32.6M34.9,-11.7H42.1M45.6,-11.7H49.2M71.6,-11.7H76.4M92.9,-11.7H95.4M96.5,-11.7H103.7M111.9,-11.7H114.3M115.4,-11.7H119.1M-82.3,-12.7H-78.6M-70.4,-12.7H-64.4M-16,-12.7H7.7M8.8,-12.7H11.3M14.8,-12.7H16M28.9,-12.7H30.2M33.7,-12.7H36.1M37.2,-12.7H42M46.7,-12.7H49.1M70.4,-12.7H76.4M92.8,-12.7H95.3M96.4,-12.7H103.6M115.3,-12.7H119M-84.6,-13.7H-78.6M-16,-13.7H13.6M25.4,-13.7H26.6M28.9,-13.7H30.2M32.5,-13.7H34.9M36,-13.7H38.5M40.7,-13.7H42M43.1,-13.7H44.4M50.2,-13.7H51.5M70.3,-13.7H76.3M92.7,-13.7H103.5M116.4,-13.7H118.8M-86.8,-14.7H-78.5M-17.2,-14.7H10.1M11.2,-14.7H12.4M14.7,-14.7H16M18.3,-14.7H19.5M25.3,-14.7H26.6M27.7,-14.7H30.1M32.4,-14.7H33.7M34.8,-14.7H39.6M44.2,-14.7H45.5M70.2,-14.7H76.2M91.5,-14.7H103.4M113.9,-14.7H117.5M-87.9,-15.8H-78.4M-17.1,-15.8H1.8M2.9,-15.8H8.9M10,-15.8H12.4M13.5,-15.8H16M17.1,-15.8H18.3M19.4,-15.8H20.7M25.3,-15.8H26.6M30,-15.8H31.3M33.6,-15.8H37.2M38.3,-15.8H39.5M45.4,-15.8H46.6M70.1,-15.8H76.1M91.4,-15.8H103.2M112.6,-15.8H116.2M-90.1,-16.8H-78.3M-17.1,-16.8H-6.4M-4.2,-16.8H-2.9M-1.8,-16.8H1.8M5.3,-16.8H8.9M11.1,-16.8H12.4M13.5,-16.8H17.1M25.3,-16.8H26.5M28.8,-16.8H30.1M31.2,-16.8H32.4M33.5,-16.8H36M37.1,-16.8H38.3M68.9,-16.8H77.2M88.9,-16.8H90.1M91.2,-16.8H103.1M112.4,-16.8H114.9M-94.7,-17.8H-82.9M-15.9,-17.8H-6.4M7.6,-17.8H8.9M15.8,-17.8H18.3M22.9,-17.8H24.2M31.1,-17.8H32.4M33.5,-17.8H37.1M40.5,-17.8H41.8M49.9,-17.8H51.2M68.8,-17.8H78.3M88.8,-17.8H101.8M112.3,-17.8H115.9M-96.9,-18.8H-82.8M-73.4,-18.8H-72.2M-67.6,-18.8H-66.3M-15.9,-18.8H-14.6M-10,-18.8H-8.8M7.6,-18.8H8.8M31.1,-18.8H32.3M51,-18.8H53.5M68.7,-18.8H79.3M88.6,-18.8H94.6M95.7,-18.8H101.6M112.1,-18.8H115.7M-98,-19.8H-81.5M-74.5,-19.8H-70.9M-69.8,-19.8H-61.5M-12.4,-19.8H-11.1M34.6,-19.8H35.8M39.2,-19.8H40.5M53.3,-19.8H54.6M67.4,-19.8H80.4M87.3,-19.8H90.9M92,-19.8H100.3M101.4,-19.8H103.8M111.9,-19.8H115.5M-147,-20.8H-144.6M-99,-20.8H-89.5M-86.1,-20.8H-81.3M-69.7,-20.8H-63.8M34.5,-20.8H35.7M52.1,-20.8H53.3M67.3,-20.8H80.2M87.2,-20.8H100.1M101.2,-20.8H104.8M-146.7,-21.8H-144.3M-98.8,-21.8H-89.4M-86,-21.8H-81.2M-73.1,-21.8H-69.5M-68.4,-21.8H-67.2M52,-21.8H53.2M54.3,-21.8H55.6M67.2,-21.8H71.9M73,-21.8H81.3M85.9,-21.8H100M102.2,-21.8H103.5M-98.7,-22.9H-90.4M-84.6,-22.9H-81.1M-75.3,-22.9H-69.4M-7.6,-22.9H-6.4M33.2,-22.9H34.5M47.2,-22.9H48.5M49.6,-22.9H50.8M53.1,-22.9H55.5M64.7,-22.9H82.3M85.7,-22.9H104.5M-99.7,-23.9H-90.3M-79.8,-23.9H-71.6M47.1,-23.9H49.6M50.6,-23.9H56.5M63.5,-23.9H107.8M111.2,-23.9H113.6M-103,-24.9H-101.7M-99.5,-24.9H-90.1M-78.5,-24.9H-73.8M33.1,-24.9H34.3M40.1,-24.9H41.3M48.2,-24.9H51.8M52.9,-24.9H56.4M63.3,-24.9H109.9M111,-24.9H113.4M-103.9,-25.9H-101.5M-100.5,-25.9H-89.9M26.1,-25.9H27.3M35.4,-25.9H36.6M42.3,-25.9H43.6M44.7,-25.9H47.1M48.1,-25.9H49.4M51.6,-25.9H52.9M53.9,-25.9H55.2M62.1,-25.9H63.3M64.4,-25.9H109.7M110.8,-25.9H113.2M-104.9,-26.9H-102.5M-101.4,-26.9H-89.7M-75.9,-26.9H-73.5M28.3,-26.9H29.6M35.3,-26.9H36.5M43.4,-26.9H47M51.5,-26.9H52.8M53.8,-26.9H65.5M66.6,-26.9H110.7M111.8,-26.9H114.2M-104.7,-27.9H-102.3M-101.2,-27.9H-89.6M-75.8,-27.9H-73.4M12.1,-27.9H13.3M34.1,-27.9H35.3M51.4,-27.9H61.9M67.6,-27.9H111.6M-105.6,-29H-103.2M-102.1,-29H-89.3M-76.7,-29H-73.2M28.2,-29H29.5M34,-29H35.2M51.3,-29H61.7M66.3,-29H111.3M-106.5,-30H-104.1M-103,-30H-96M-95,-30H-88M-76.5,-30H-73M4,-30H5.2M7.4,-30H8.7M28.1,-30H29.4M37.4,-30H39.7M51.2,-30H61.6M67.3,-30H112.2M-106.2,-31H-103.8M-101.6,-31H-96.9M-93.6,-31H-92.3M-91.3,-31H-86.6M-76.3,-31H-74M5.1,-31H6.4M10.9,-31H12.1M28.1,-31H29.3M31.5,-31H32.7M33.8,-31H35M36.1,-31H40.8M49.9,-31H63.7M64.8,-31H111.9M-105.9,-32H-103.5M-101.3,-32H-96.6M-95.6,-32H-94.4M-92.1,-32H-80.6M-79.6,-32H-73.8M10.8,-32H12.1M18.8,-32H20.1M21.1,-32H24.6M28,-32H29.2M31.4,-32H32.6M33.7,-32H40.7M49.7,-32H111.6M-105.6,-33H-95.2M-91.9,-33H-73.5M-9.7,-33H-8.5M-7.5,-33H-6.2M-1.8,-33H-0.5M13.1,-33H14.3M18.8,-33H21.1M22.2,-33H30.3M31.3,-33H40.5M41.6,-33H42.8M48.4,-33H49.7M51.9,-33H55.4M57.6,-33H79.3M80.4,-33H81.6M83.8,-33H85M87.2,-33H111.3M-105.2,-34H-73.3M-9.7,-34H-8.5M-6.3,-34H-1.7M3.9,-34H5.2M11.9,-34H14.3M17.6,-34H25.6M26.7,-34H41.5M42.6,-34H43.8M44.9,-34H51.8M52.8,-34H75.7M76.7,-34H77.9M82.4,-34H83.6M88.1,-34H110.9M117.6,-34H120M-107.1,-35.1H-71.9M-8.5,-35.1H14.2M17.5,-35.1H22.1M31.1,-35.1H52.7M54.9,-35.1H70.9M71.9,-35.1H74.3M79.9,-35.1H81.1M86.7,-35.1H110.5M117.2,-35.1H120.7M-107.9,-36.1H-105.5M-103.4,-36.1H-102.2M-101.1,-36.1H-71.7M-8.5,-36.1H11.9M31,-36.1H52.6M53.6,-36.1H75.1M79.6,-36.1H81.9M86.3,-36.1H110.1M116.8,-36.1H123.7M-109.7,-37.1H-105.2M-101.9,-37.1H-93.9M-91.7,-37.1H-68M-7.4,-37.1H10.7M28.7,-37.1H31M32,-37.1H49M50,-37.1H71.5M84.9,-37.1H108.6M113,-37.1H114.2M117.5,-37.1H125.5M-109.3,-38.1H-104.8M-101.5,-38.1H-67.8M-6.2,-38.1H9.6M20.7,-38.1H24.1M28.5,-38.1H30.9M31.9,-38.1H73.5M79,-38.1H82.4M83.5,-38.1H108.2M114.8,-38.1H116M117.1,-38.1H121.7M122.7,-38.1H126.1M-108.9,-39.1H-104.3M-97.7,-39.1H-67.5M-6.2,-39.1H-3.9M-0.6,-39.1H10.6M19.5,-39.1H20.7M25.1,-39.1H30.7M31.8,-39.1H72M74.2,-39.1H75.4M77.6,-39.1H108.9M112.2,-39.1H113.4M120,-39.1H122.3M123.3,-39.1H124.5M125.6,-39.1H126.8M-109.6,-40.1H-103.9M-101.8,-40.1H-100.6M-99.5,-40.1H-96.1M-95.1,-40.1H-67.2M-8.4,-40.1H-0.5M2.7,-40.1H13.9M18.3,-40.1H20.6M23.9,-40.1H71.8M77.2,-40.1H109.6M110.6,-40.1H111.8M120.6,-40.1H122.9M123.9,-40.1H125.1M-109.1,-41.1H-105.7M-98,-41.1H-65.8M-8.3,-41.1H0.6M10.5,-41.1H15M18.2,-41.1H21.6M22.7,-41.1H68.1M76.9,-41.1H93.6M95.7,-41.1H105.8M110.1,-41.1H111.3M-109.7,-42.2H-103M-98.7,-42.2H-78.8M-77.7,-42.2H-64.4M-8.3,-42.2H0.6M7.1,-42.2H9.4M13.7,-42.2H16M17,-42.2H21.5M22.6,-42.2H70M74.4,-42.2H86.6M92,-42.2H93.2M95.3,-42.2H108.6M109.6,-42.2H113M122.8,-42.2H126.2M-109.2,-43.2H-104.7M-98.2,-43.2H-64.1M-8.3,-43.2H0.6M7.1,-43.2H9.4M12.6,-43.2H15.9M17,-43.2H21.4M22.4,-43.2H69.7M70.7,-43.2H71.9M72.9,-43.2H85.1M97,-43.2H113.6M123.4,-43.2H124.5M-108.7,-44.2H-104.2M-103.2,-44.2H-102M-94.5,-44.2H-61.6M-8.2,-44.2H2.8M7.1,-44.2H9.3M10.3,-44.2H15.9M16.9,-44.2H57.4M58.4,-44.2H59.5M60.5,-44.2H83.5M95.5,-44.2H96.6M97.7,-44.2H109.7M110.8,-44.2H114.1M121.7,-44.2H123.9M-108.1,-45.2H-102.6M-97.2,-45.2H-93.9M-91.8,-45.2H-60.2M-8.2,-45.2H2.8M7,-45.2H14.7M15.7,-45.2H25.6M27.7,-45.2H32.1M35.3,-45.2H47.3M49.4,-45.2H51.6M54.8,-45.2H57.1M61.3,-45.2H83.1M86.3,-45.2H87.5M90.6,-45.2H91.8M92.8,-45.2H94M95,-45.2H114.6M121.1,-45.2H124.4M-107.5,-46.2H-103.1M-102.1,-46.2H-99.9M-96.7,-46.2H-59.9M-8.1,-46.2H6M7,-46.2H12.5M14.5,-46.2H24.3M34,-46.2H44.9M45.9,-46.2H48.1M50.2,-46.2H51.4M53.4,-46.2H55.7M61,-46.2H82.7M83.7,-46.2H84.8M93.4,-46.2H94.6M96.7,-46.2H116.2M120.4,-46.2H122.7M-107,-47.2H-101.5M-96.2,-47.2H-92.9M-91.9,-47.2H-90.8M-89.8,-47.2H-58.5M-57.5,-47.2H-54.2M-8.1,-47.2H-2.6M-1.7,-47.2H25.3M32.7,-47.2H48.9M49.9,-47.2H51.1M60.7,-47.2H89.8M90.8,-47.2H93M94,-47.2H116.6M120.8,-47.2H122M124.1,-47.2H125.2M-106.4,-48.2H-98.8M-96.7,-48.2H-92.4M-89.3,-48.2H-51.8M-1.6,-48.2H11.3M12.2,-48.2H26.2M27.2,-48.2H30.5M31.5,-48.2H48.7M49.6,-48.2H50.8M52.9,-48.2H54M55,-48.2H58.3M60.3,-48.2H87.1M88.1,-48.2H117M120.2,-48.2H121.3M122.3,-48.2H123.5M-105.8,-49.2H-98.2M-97.3,-49.2H-95.1M-93,-49.2H-91.9M-90.9,-49.2H-89.7M-88.8,-49.2H-51.5M-1.6,-49.2H26.1M27.1,-49.2H47.3M48.3,-49.2H49.4M50.4,-49.2H52.6M53.6,-49.2H55.8M56.8,-49.2H57.9M58.9,-49.2H117.4M-105.1,-50.2H-96.6M-95.6,-50.2H-93.4M-87.2,-50.2H-53.3M-48.1,-50.2H-44.9M-2.7,-50.2H55.5M57.5,-50.2H58.7M59.6,-50.2H117.8M119.9,-50.2H121M-105.6,-51.2H-95M-88.8,-51.2H-87.6M-86.7,-51.2H-54M-49.9,-51.2H-43.5M-4.8,-51.2H117.1M-104.9,-52.2H-88.2M-87.2,-52.2H-53.7M-49.6,-52.2H-44.3M-4.7,-52.2H117.5M-105.3,-53.2H-55.4M-49.3,-53.2H-44M-1.6,-53.2H114.6M115.6,-53.2H116.7M-105.6,-54.1H-90.1M-89.2,-54.1H-76.7M-74.7,-54.1H-66.4M-65.5,-54.1H-59.2M-56.2,-54.1H-55.1M-54.1,-54.1H-45.8M-4.7,-54.1H102.6M106.6,-54.1H111.8M113.8,-54.1H115.9M116.9,-54.1H118M-146.9,-55.1H-144.7M-104.9,-55.1H-90.5M-88.5,-55.1H-76.2M-74.2,-55.1H-66M-65,-55.1H-57.8M-56.8,-55.1H-51.6M-50.7,-55.1H-49.6M-48.6,-55.1H-45.5M-7.7,-55.1H-5.6M-4.6,-55.1H86.5M88.5,-55.1H94.7M96.7,-55.1H101.9M105.9,-55.1H107M107.9,-55.1H109M110,-55.1H112.1M114,-55.1H115.2M127.4,-55.1H128.5M-145.8,-56.1H-139.7M-108.2,-56.1H-106.1M-104.2,-56.1H-91.9M-91,-56.1H-75.6M-73.7,-56.1H-72.6M-69.6,-56.1H-65.5M-64.6,-56.1H-56.3M-55.4,-56.1H-47.2M-46.3,-56.1H-45.2M-8.7,-56.1H-1.5M-0.5,-56.1H1.6M2.5,-56.1H85.9M87.8,-56.1H91M95,-56.1H98.1M100,-56.1H101.1M106.1,-56.1H108.2M109.2,-56.1H111.3M112.2,-56.1H114.3M115.3,-56.1H116.4M126.4,-56.1H127.5M128.5,-56.1H129.6M-136.7,-57.1H-133.6M-107.4,-57.1H-105.3M-104.4,-57.1H-92.2M-90.3,-57.1H-88.2M-87.3,-57.1H-85.2M-82.2,-57.1H-75.1M-73.2,-57.1H-72.1M-71.1,-57.1H-69M-63.1,-57.1H-59M-58,-57.1H-53.9M-53,-57.1H-51.9M-51,-57.1H-48.9M-47.9,-57.1H-44.8M-8.6,-57.1H-0.5M0.5,-57.1H1.6M3.5,-57.1H21.7M23.7,-57.1H87.3M88.2,-57.1H90.3M91.2,-57.1H92.3M96.3,-57.1H97.4M107.4,-57.1H108.5M127.5,-57.1H129.6M-135.7,-58H-132.6M-106.6,-58H-91.5M-90.6,-58H-87.5M-85.6,-58H-82.5M-81.6,-58H-79.5M-78.6,-58H-75.5M-71.6,-58H-70.5M-68.6,-58H-67.5M-60.6,-58H-53.5M-49.6,-58H-48.5M-47.6,-58H-45.5M-8.5,-58H-4.5M-3.5,-58H0.5M6.5,-58H84.6M87.5,-58H88.6M89.5,-58H90.6M96.5,-58H97.6M103.5,-58H105.6M126.6,-58H129.7M-131.6,-59H-129.6M-128.6,-59H-126.6M-104.8,-59H-102.7M-100.8,-59H-98.8M-97.9,-59H-92.8M-91.9,-59H-87.8M-86.9,-59H-84.9M-84,-59H-81.9M-81,-59H-77.9M-77,-59H-75.9M-75,-59H-73M-70.1,-59H-69M-66.1,-59H-65M-62.1,-59H-61M-58.1,-59H-54.1M-51.2,-59H-50.1M-49.2,-59H-48.1M-47.2,-59H-46.1M-7.5,-59H-0.5M6.4,-59H8.5M9.4,-59H11.5M14.4,-59H64.1M65,-59H66.1M67,-59H71M72,-59H73M73.9,-59H82M84.9,-59H85.9M88.8,-59H89.9M103.7,-59H104.8M125.6,-59H126.7M127.6,-59H129.6M-127.6,-60H-126.6M-105,-60H-102.9M-101,-60H-98M-95.1,-60H-94M-93.1,-60H-92.1M-91.2,-60H-90.1M-89.2,-60H-88.1M-82.3,-60H-80.3M-74.4,-60H-72.4M-56.7,-60H-53.7M-47.8,-60H-46.8M-4.5,-60H-1.4M6.4,-60H8.4M9.3,-60H13.3M16.2,-60H41.9M42.8,-60H67.5M73.4,-60H74.4M75.3,-60H77.4M79.3,-60H82.3M100.9,-60H103M103.9,-60H105M124.6,-60H125.6M126.6,-60H128.6M-102.1,-60.9H-100.1M-99.2,-60.9H-98.2M-93.4,-60.9H-91.3M-87.5,-60.9H-86.4M-83.6,-60.9H-82.5M-80.7,-60.9H-77.6M-75.8,-60.9H-74.7M-73.8,-60.9H-72.8M-5.4,-60.9H-1.4M6.3,-60.9H8.3M9.2,-60.9H13.2M16.1,-60.9H41.6M42.5,-60.9H50.4M51.3,-60.9H55.2M58.1,-60.9H60.1M61,-60.9H66M68.8,-60.9H69.9M72.8,-60.9H74.8M78.6,-60.9H79.7M82.5,-60.9H84.6M126.5,-60.9H127.6M-122.6,-61.9H-121.6M-103.2,-61.9H-102.2M-99.4,-61.9H-96.4M-91.6,-61.9H-89.6M-88.7,-61.9H-86.7M-84.8,-61.9H-83.8M-80,-61.9H-78.9M-5.4,-61.9H-1.4M4.3,-61.9H7.3M8.2,-61.9H14.1M16.9,-61.9H21.8M22.7,-61.9H23.8M24.7,-61.9H39.3M41.1,-61.9H43.2M44,-61.9H48M48.9,-61.9H49.9M52.8,-61.9H56.7M57.6,-61.9H59.6M61.5,-61.9H64.5M65.4,-61.9H66.4M68.3,-61.9H71.3M-124.4,-62.8H-123.4M-120.6,-62.8H-119.6M-98.5,-62.8H-96.5M-89.9,-62.8H-88.8M-53.4,-62.8H-52.3M-51.4,-62.8H-50.4M-4.4,-62.8H-2.4M3.3,-62.8H11.1M12,-62.8H14.9M17.7,-62.8H21.7M22.5,-62.8H24.5M25.4,-62.8H26.5M27.3,-62.8H28.4M36.9,-62.8H38M38.9,-62.8H39.9M40.8,-62.8H41.8M42.7,-62.8H50.5M56.2,-62.8H59.1M61,-62.8H63M70.6,-62.8H73.5M-119.5,-63.7H-118.5M-89.1,-63.7H-85.2M-75.7,-63.7H-74.7M-73.8,-63.7H-72.8M3.3,-63.7H7.2M8.1,-63.7H9.1M10,-63.7H11M11.9,-63.7H14.8M18.5,-63.7H19.6M20.4,-63.7H22.4M27.1,-63.7H30M30.9,-63.7H31.9M34.7,-63.7H36.7M42.3,-63.7H47.2M48,-63.7H50M55.7,-63.7H58.6M62.3,-63.7H64.3M70.9,-63.7H71.9M110.9,-63.7H111.9M128,-63.7H129.1M-96.8,-64.7H-94.8M-81.7,-64.7H-80.6M-74.1,-64.7H-73.1M-59,-64.7H-58M3.3,-64.7H4.3M5.2,-64.7H6.2M8.9,-64.7H10.9M11.8,-64.7H13.7M17.4,-64.7H18.4M25.9,-64.7H29.8M30.6,-64.7H31.7M33.5,-64.7H35.4M40.1,-64.7H45.8M48.6,-64.7H49.6M56.1,-64.7H57.1M60.8,-64.7H61.9M91,-64.7H92.1M92.9,-64.7H93.9M94.8,-64.7H95.8M128.8,-64.7H129.8M-124.9,-65.6H-122M-104.3,-65.6H-103.3M-88.4,-65.6H-86.5M-84.7,-65.6H-83.7M-80.9,-65.6H-79.9M-78.1,-65.6H-77.1M-74.4,-65.6H-72.4M-69.7,-65.6H-68.7M-58.5,-65.6H-57.5M3.2,-65.6H5.2M11.6,-65.6H13.6M15.4,-65.6H16.4M21.9,-65.6H23M24.7,-65.6H25.8M43.4,-65.6H45.4M47.2,-65.6H48.2M54.7,-65.6H55.7M58.4,-65.6H59.4M61.2,-65.6H62.2M91.1,-65.6H92.1M129.5,-65.6H130.5M131.3,-65.6H133.3M-126.5,-66.5H-124.6M-121.9,-66.5H-120.9M-87.6,-66.5H-86.6M-85.7,-66.5H-84.7M-75.5,-66.5H-74.5M3.2,-66.5H7.9M8.8,-66.5H9.8M11.5,-66.5H12.5M13.4,-66.5H14.4M15.2,-66.5H16.3M17.1,-66.5H18.1M26.4,-66.5H27.4M31,-66.5H32M32.8,-66.5H33.9M34.7,-66.5H35.7M41.2,-66.5H45.9M46.7,-66.5H48.7M91.2,-66.5H93.1M97.7,-66.5H98.7M128.3,-66.5H130.2M131,-66.5H133M-125.3,-67.4H-123.4M-104.2,-67.4H-103.2M-88.6,-67.4H-86.7M-85.8,-67.4H-84.8M-84,-67.4H-83M-68.4,-67.4H-65.6M-17,-67.4H-16M-13.3,-67.4H-11.4M9.6,-67.4H10.6M11.4,-67.4H12.4M13.3,-67.4H14.3M26.1,-67.4H28.9M29.8,-67.4H30.8M32.5,-67.4H33.5M39.9,-67.4H40.9M42.6,-67.4H44.5M45.4,-67.4H47.3M128,-67.4H129M129.8,-67.4H131.7M-130.9,-68.3H-130.4M-127.7,-68.3H-126.7M-125.9,-68.3H-124M-120.4,-68.3H-119.5M-117.7,-68.3H-116.7M-88.6,-68.3H-87.7M-86.8,-68.3H-84.9M-81.4,-68.3H-80.4M-74.1,-68.3H-73.1M-67.7,-68.3H-65.8M-59.6,-68.3H-58.6M-15,-68.3H-9.5M12.2,-68.3H15M18.6,-68.3H19.6M21.3,-68.3H22.3M23.1,-68.3H24.1M27.7,-68.3H28.7M30.4,-68.3H32.3M41.3,-68.3H42.3M43.1,-68.3H44.1M45.9,-68.3H47.7M53.1,-68.3H54.1M59.5,-68.3H60.5M106.7,-68.3H107.7M126.7,-68.3H130.4M-129.6,-69.2H-122.8M-121.1,-69.2H-118.3M-116.6,-69.2H-115.6M-90.5,-69.2H-89.5M-86.9,-69.2H-85.9M-85.1,-69.2H-83.2M-72.5,-69.2H-71.5M-68.9,-69.2H-67.9M-67.1,-69.2H-66.1M-16.7,-69.2H-9.4M7.6,-69.2H8.6M9.4,-69.2H10.4M12.1,-69.2H13.1M15.7,-69.2H17.6M21.1,-69.2H22.1M28.3,-69.2H29.3M30.1,-69.2H32M32.8,-69.2H35.6M39.1,-69.2H44.6M57.1,-69.2H59M75.1,-69.2H76.1M86.8,-69.2H87.8M88.6,-69.2H90.5M106.6,-69.2H107.6M109.3,-69.2H110.3M124.6,-69.2H126.5M128.2,-69.2H129.2M-128.3,-70.1H-122.4M-121.6,-70.1H-120.7M-116.3,-70.1H-114.4M-90.4,-70.1H-89.5M-84.2,-70.1H-83.2M-66.4,-70.1H-64.5M-15.6,-70.1H-13.8M-13,-70.1H-12M-11.2,-70.1H-10.2M10.2,-70.1H11.2M12.9,-70.1H13.8M15.5,-70.1H16.5M26.2,-70.1H27.2M28,-70.1H29M31.6,-70.1H32.6M33.4,-70.1H34.3M35.1,-70.1H36.1M40.5,-70.1H42.3M43.2,-70.1H45M46.7,-70.1H47.7M56.5,-70.1H57.5M80.6,-70.1H81.5M83.2,-70.1H84.2M85,-70.1H86M86.8,-70.1H87.8M118,-70.1H119M121.5,-70.1H123.4M125.1,-70.1H127.9M-127,-71H-121.2M-114.2,-71H-112.4M-88.6,-71H-87.7M-66.6,-71H-65.6M-64.8,-71H-63.9M9.2,-71H11.9M12.7,-71H13.7M16.3,-71H18.1M21.6,-71H24.3M32.1,-71H33.1M40.1,-71H41M41.8,-71H42.8M50.7,-71H51.6M52.4,-71H53.4M54.2,-71H55.1M74.5,-71H75.4M78.9,-71H79.8M83.3,-71H84.2M85.9,-71H87.8M117.7,-71H120.4M122.9,-71H123.9M124.7,-71H125.7M-125.7,-71.8H-122.5M-116.5,-71.8H-115.5M-86.8,-71.8H-84.1M-58.9,-71.8H-58M10,-71.8H10.9M12.6,-71.8H14.4M17.8,-71.8H18.8M19.6,-71.8H20.5M21.3,-71.8H22.3M39.7,-71.8H41.5M51,-71.8H51.9M52.7,-71.8H53.7M57.1,-71.8H58.1M77.2,-71.8H78.1M84.1,-71.8H86M122.5,-71.8H124.3M-110.1,-72.7H-109.1M-81.6,-72.7H-80.6M-79,-72.7H-78.1M-76.4,-72.7H-75.5M-73,-72.7H-72M-64.3,-72.7H-63.4M-62.6,-72.7H-61.7M10.7,-72.7H11.7M40.1,-72.7H41M41.8,-72.7H43.6M45.3,-72.7H46.2M50.4,-72.7H51.4M52.2,-72.7H53.1M60.8,-72.7H62.6M63.4,-72.7H66.1M77.2,-72.7H78.1M78.9,-72.7H81.6M119.5,-72.7H121.3M-88.4,-73.5H-87.4M-79,-73.5H-78.1M-75.6,-73.5H-73.8M-63.6,-73.5H-61.8M13.2,-73.5H14.1M14.9,-73.5H15.8M17.5,-73.5H19.2M49.9,-73.5H52.5M60.1,-73.5H62.8M65.2,-73.5H66.2M73.8,-73.5H74.7M76.3,-73.5H77.3M78.1,-73.5H79M81.5,-73.5H82.4M83.2,-73.5H85.8M108.8,-73.5H109.7M-121.5,-74.4H-120.2M-108.5,-74.4H-107.5M-80.6,-74.4H-78.9M-75.6,-74.4H-74.6M-73.9,-74.4H-72.9M-63.7,-74.4H-62.8M16.4,-74.4H18.2M18.9,-74.4H19.9M48.5,-74.4H50.2M51,-74.4H51.9M54.4,-74.4H55.3M60.3,-74.4H62.1M63.7,-74.4H64.6M65.4,-74.4H67.1M74.6,-74.4H75.6M78,-74.4H78.9M80.5,-74.4H81.5M89.8,-74.4H90.7M96.6,-74.4H98.3M120.2,-74.4H121.1M-61.3,-75.2H-60.4M-56.3,-75.2H-54.6M48.7,-75.2H49.7M50.4,-75.2H52.2M59.6,-75.2H60.5M63.8,-75.2H64.7M65.4,-75.2H66.3M77.1,-75.2H78.8M81.3,-75.2H83M84.6,-75.2H85.5M92.9,-75.2H93.9M94.6,-75.2H95.5M98.8,-75.2H100.5M-72.9,-76H-72M-60.6,-76H-59.7M36.6,-76H37.5M49.8,-76H50.7M52.3,-76H53.2M63.8,-76H64.7M65.4,-76H66.4M80.3,-76H82M-63.9,-76.8H-63M-59.8,-76.8H-58.9M-58.2,-76.8H-56.5M-54.9,-76.8H-54M52.4,-76.8H53.3M58.9,-76.8H59.8M63.8,-77.6H64.6M91,-77.6H91.9M92.6,-77.6H93.5M-74.8,-78.4H-73.9M-59,-78.4H-58.1M57.3,-78.4H58.2M89,-78.4H89.8M91.3,-78.4H92.2M92.9,-78.4H93.8M-63.6,-79.2H-62.7M9.7,-79.2H10.6M61.2,-79.2H62.8M-56.5,-80H-55.6M7.3,-80H8.1M62.5,-80H63.4M-55.6,-80.7H-54.8M10.2,-80.7H11M59.3,-80.7H60.9M8.5,-81.4H9.3M10.8,-81.4H11.6M57.6,-81.4H58.5M59.1,-81.4H60M61.4,-81.4H62.2M10.6,-82.1H11.4M14.2,-82.1H15.1M28.2,-82.1H29M-47.3,-82.8H-46.5M29.9,-82.8H30.7M33.5,-82.8H34.3M-46.5,-83.4H-45.8M-45.1,-83.4H-43.6"/>
</g>
<use href="#C"/><use href="#O"/>
</g>
<rect x="23" y="327.3" width="30.4" height="15.3" fill="#4010F0" stroke="#000" stroke-width="0.7"/>
<rect x="53.4" y="327.3" width="30.4" height="15.3" fill="#3050E0" stroke="#000" stroke-width="0.7"/>
<rect x="83.8" y="327.3" width="30.4" height="15.3" fill="#2088F8" stroke="#000" stroke-width="0.7"/>
<rect x="114.2" y="327.3" width="30.4" height="15.3" fill="#18C0FA" stroke="#000" stroke-width="0.7"/>
<rect x="144.6" y="327.3" width="30.4" height="15.3" fill="#A0D4F5" stroke="#000" stroke-width="0.7"/>
<rect x="175" y="327.3" width="30.4" height="15.3" fill="#FFF580" stroke="#000" stroke-width="0.7"/>
<rect x="205.4" y="327.3" width="30.4" height="15.3" fill="#FFC018" stroke="#000" stroke-width="0.7"/>
<rect x="235.8" y="327.3" width="30.4" height="15.3" fill="#FF7800" stroke="#000" stroke-width="0.7"/>
<rect x="266.2" y="327.3" width="30.4" height="15.3" fill="#FC0000" stroke="#000" stroke-width="0.7"/>
<rect x="296.6" y="327.3" width="30.4" height="15.3" fill="#D42828" stroke="#000" stroke-width="0.7"/>
<text x="53.4" y="356.7" font-size="12.3" text-anchor="middle">0</text>
<text x="83.8" y="356.7" font-size="12.3" text-anchor="middle">0.4</text>
<text x="114.2" y="356.7" font-size="12.3" text-anchor="middle">0.8</text>
<text x="144.6" y="356.7" font-size="12.3" text-anchor="middle">1.2</text>
<text x="175" y="356.7" font-size="12.3" text-anchor="middle">1.6</text>
<text x="205.4" y="356.7" font-size="12.3" text-anchor="middle">2</text>
<text x="235.8" y="356.7" font-size="12.3" text-anchor="middle">2.4</text>
<text x="266.2" y="356.7" font-size="12.3" text-anchor="middle">2.8</text>
<text x="296.6" y="356.7" font-size="12.3" text-anchor="middle">3.2</text>
<rect x="373.1" y="327.3" width="30.4" height="15.3" fill="#4010F0" stroke="#000" stroke-width="0.7"/>
<rect x="403.5" y="327.3" width="30.4" height="15.3" fill="#3050E0" stroke="#000" stroke-width="0.7"/>
<rect x="433.9" y="327.3" width="30.4" height="15.3" fill="#2088F8" stroke="#000" stroke-width="0.7"/>
<rect x="464.3" y="327.3" width="30.4" height="15.3" fill="#18C0FA" stroke="#000" stroke-width="0.7"/>
<rect x="494.7" y="327.3" width="30.4" height="15.3" fill="#A0D4F5" stroke="#000" stroke-width="0.7"/>
<rect x="525.1" y="327.3" width="30.4" height="15.3" fill="#FFF580" stroke="#000" stroke-width="0.7"/>
<rect x="555.5" y="327.3" width="30.4" height="15.3" fill="#FFC018" stroke="#000" stroke-width="0.7"/>
<rect x="585.9" y="327.3" width="30.4" height="15.3" fill="#FF7800" stroke="#000" stroke-width="0.7"/>
<rect x="616.3" y="327.3" width="30.4" height="15.3" fill="#FC0000" stroke="#000" stroke-width="0.7"/>
<rect x="646.7" y="327.3" width="30.4" height="15.3" fill="#D42828" stroke="#000" stroke-width="0.7"/>
<text x="403.5" y="356.7" font-size="12.3" text-anchor="middle">0</text>
<text x="433.9" y="356.7" font-size="12.3" text-anchor="middle">0.4</text>
<text x="464.3" y="356.7" font-size="12.3" text-anchor="middle">0.8</text>
<text x="494.7" y="356.7" font-size="12.3" text-anchor="middle">1.2</text>
<text x="525.1" y="356.7" font-size="12.3" text-anchor="middle">1.6</text>
<text x="555.5" y="356.7" font-size="12.3" text-anchor="middle">2</text>
<text x="585.9" y="356.7" font-size="12.3" text-anchor="middle">2.4</text>
<text x="616.3" y="356.7" font-size="12.3" text-anchor="middle">2.8</text>
<text x="646.7" y="356.7" font-size="12.3" text-anchor="middle">3.2</text>
<rect x="39.1" y="604.2" width="33.7" height="15.3" fill="#4010F0" stroke="#000" stroke-width="0.7"/>
<rect x="72.8" y="604.2" width="33.7" height="15.3" fill="#4068E0" stroke="#000" stroke-width="0.7"/>
<rect x="106.6" y="604.2" width="33.7" height="15.3" fill="#08A8F8" stroke="#000" stroke-width="0.7"/>
<rect x="140.3" y="604.2" width="33.7" height="15.3" fill="#98D0F0" stroke="#000" stroke-width="0.7"/>
<rect x="174" y="604.2" width="33.7" height="15.3" fill="#FFF060" stroke="#000" stroke-width="0.7"/>
<rect x="207.8" y="604.2" width="33.7" height="15.3" fill="#FFA000" stroke="#000" stroke-width="0.7"/>
<rect x="241.5" y="604.2" width="33.7" height="15.3" fill="#FF1000" stroke="#000" stroke-width="0.7"/>
<rect x="275.3" y="604.2" width="33.7" height="15.3" fill="#D42828" stroke="#000" stroke-width="0.7"/>
<text x="39.1" y="633.5" font-size="12.3" text-anchor="middle">-.9543</text>
<text x="72.8" y="633.5" font-size="12.3" text-anchor="middle">-.6</text>
<text x="106.6" y="633.5" font-size="12.3" text-anchor="middle">-.4</text>
<text x="140.3" y="633.5" font-size="12.3" text-anchor="middle">-.2</text>
<text x="174" y="633.5" font-size="12.3" text-anchor="middle">.0</text>
<text x="207.8" y="633.5" font-size="12.3" text-anchor="middle">.2</text>
<text x="241.5" y="633.5" font-size="12.3" text-anchor="middle">.4</text>
<text x="275.3" y="633.5" font-size="12.3" text-anchor="middle">.6</text>
<text x="309" y="633.5" font-size="12.3" text-anchor="middle">4.3582</text>
</svg></body></html>
